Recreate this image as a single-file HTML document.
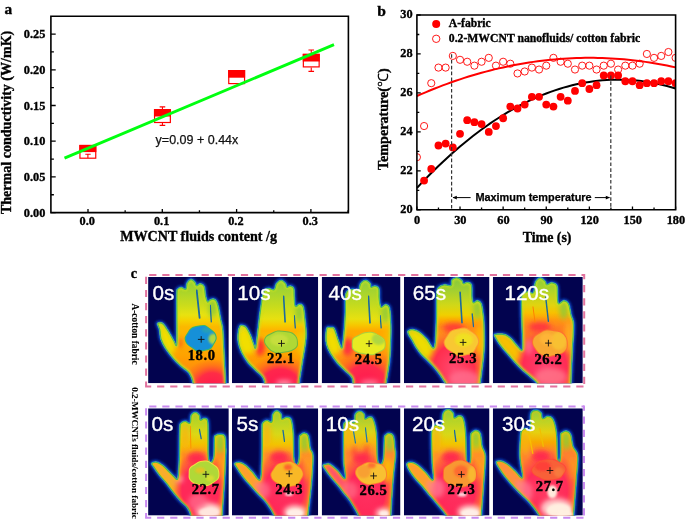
<!DOCTYPE html>
<html><head><meta charset="utf-8"><style>
html,body{margin:0;padding:0;background:#fff;width:685px;height:520px;overflow:hidden}
svg{display:block;will-change:transform}
</style></head><body>
<svg width="685" height="520" viewBox="0 0 685 520">
<path d="M50.9,16.3H348.4V212.6H50.9Z" fill="none" stroke="#000" stroke-width="1.6"/>
<path d="M50.9,212.60h4.8M50.9,194.75h3M50.9,176.90h4.8M50.9,159.05h3M50.9,141.20h4.8M50.9,123.35h3M50.9,105.50h4.8M50.9,87.65h3M50.9,69.80h4.8M50.9,51.95h3M50.9,34.10h4.8M88.00,212.6v-3.6M125.15,212.6v-2.4M162.30,212.6v-3.6M199.45,212.6v-2.4M236.60,212.6v-3.6M273.75,212.6v-2.4M310.90,212.6v-3.6M348.05,212.6v-2.4" stroke="#000" stroke-width="1.3" fill="none"/>
<text x="45.3" y="216.70" text-anchor="end" style="font-family:'Liberation Serif',serif;font-weight:bold;stroke:#000;stroke-width:0.35px;font-size:12.3px">0.00</text>
<text x="45.3" y="181.00" text-anchor="end" style="font-family:'Liberation Serif',serif;font-weight:bold;stroke:#000;stroke-width:0.35px;font-size:12.3px">0.05</text>
<text x="45.3" y="145.30" text-anchor="end" style="font-family:'Liberation Serif',serif;font-weight:bold;stroke:#000;stroke-width:0.35px;font-size:12.3px">0.10</text>
<text x="45.3" y="109.60" text-anchor="end" style="font-family:'Liberation Serif',serif;font-weight:bold;stroke:#000;stroke-width:0.35px;font-size:12.3px">0.15</text>
<text x="45.3" y="73.90" text-anchor="end" style="font-family:'Liberation Serif',serif;font-weight:bold;stroke:#000;stroke-width:0.35px;font-size:12.3px">0.20</text>
<text x="45.3" y="38.20" text-anchor="end" style="font-family:'Liberation Serif',serif;font-weight:bold;stroke:#000;stroke-width:0.35px;font-size:12.3px">0.25</text>
<text x="87.30" y="225.3" text-anchor="middle" style="font-family:'Liberation Serif',serif;font-weight:bold;stroke:#000;stroke-width:0.35px;font-size:12.3px">0.0</text>
<text x="161.60" y="225.3" text-anchor="middle" style="font-family:'Liberation Serif',serif;font-weight:bold;stroke:#000;stroke-width:0.35px;font-size:12.3px">0.1</text>
<text x="235.90" y="225.3" text-anchor="middle" style="font-family:'Liberation Serif',serif;font-weight:bold;stroke:#000;stroke-width:0.35px;font-size:12.3px">0.2</text>
<text x="310.20" y="225.3" text-anchor="middle" style="font-family:'Liberation Serif',serif;font-weight:bold;stroke:#000;stroke-width:0.35px;font-size:12.3px">0.3</text>
<text transform="translate(11.3,122.4) rotate(-90)" text-anchor="middle" style="font-family:'Liberation Serif',serif;font-weight:bold;stroke:#000;stroke-width:0.35px;font-size:14.05px">Thermal conductivity (W/mK)</text>
<text x="120.2" y="240.7" style="font-family:'Liberation Serif',serif;font-weight:bold;stroke:#000;stroke-width:0.35px;font-size:14.1px">MWCNT fluids content /g</text>
<text x="4.6" y="14.0" style="font-family:'Liberation Serif',serif;font-weight:bold;stroke:#000;stroke-width:0.35px;font-size:15.3px">a</text>
<rect x="79.95" y="145.50" width="15.80" height="12.70" fill="#fff" stroke="#f00" stroke-width="1.2"/>
<rect x="79.35" y="144.90" width="17.00" height="7.20" fill="#f00"/>
<rect x="154.55" y="109.70" width="15.80" height="12.80" fill="#fff" stroke="#f00" stroke-width="1.2"/>
<rect x="153.95" y="109.10" width="17.00" height="7.40" fill="#f00"/>
<path d="M159.65,106.9h5.6M162.45,106.9V109.1M159.65,125.4h5.6M162.45,125.4V123.1" stroke="#f00" stroke-width="1.1" fill="none"/>
<rect x="228.75" y="70.60" width="15.80" height="13.00" fill="#fff" stroke="#f00" stroke-width="1.2"/>
<rect x="228.15" y="70.00" width="17.00" height="7.70" fill="#f00"/>
<rect x="303.35" y="54.40" width="15.80" height="12.50" fill="#fff" stroke="#f00" stroke-width="1.2"/>
<rect x="302.75" y="53.80" width="17.00" height="7.70" fill="#f00"/>
<path d="M308.45,50.0h5.6M311.25,50.0V53.8M308.45,71.4h5.6M311.25,71.4V67.5" stroke="#f00" stroke-width="1.1" fill="none"/>
<path d="M85.3,154.2h5.4M87.9,154.2V158" stroke="#f00" stroke-width="1.1" fill="none"/>
<line x1="64.5" y1="158.2" x2="334" y2="44.6" stroke="#00ff10" stroke-width="2.9"/>
<text x="155.6" y="143.6" style="font-family:'Liberation Sans',sans-serif;font-size:12.5px;fill:#111;stroke:#111;stroke-width:0.25px">y=0.09 + 0.44x</text>
<defs><clipPath id="cb"><rect x="416.9" y="15.0" width="258.70000000000005" height="194.8"/></clipPath></defs>
<g clip-path="url(#cb)">
<path d="M416.90,96.04 L421.21,94.15 L425.52,92.31 L429.83,90.52 L434.15,88.78 L438.46,87.09 L442.77,85.44 L447.08,83.84 L451.39,82.29 L455.70,80.79 L460.02,79.33 L464.33,77.92 L468.64,76.56 L472.95,75.25 L477.26,73.98 L481.57,72.77 L485.89,71.60 L490.20,70.48 L494.51,69.40 L498.82,68.38 L503.13,67.40 L507.44,66.47 L511.76,65.58 L516.07,64.75 L520.38,63.96 L524.69,63.22 L529.00,62.53 L533.32,61.88 L537.63,61.29 L541.94,60.74 L546.25,60.23 L550.56,59.78 L554.87,59.38 L559.18,59.02 L563.50,58.71 L567.81,58.44 L572.12,58.23 L576.43,58.06 L580.74,57.94 L585.06,57.87 L589.37,57.85 L593.68,57.87 L597.99,57.94 L602.30,58.06 L606.61,58.23 L610.92,58.44 L615.24,58.70 L619.55,59.01 L623.86,59.37 L628.17,59.77 L632.48,60.23 L636.80,60.73 L641.11,61.28 L645.42,61.87 L649.73,62.52 L654.04,63.21 L658.35,63.95 L662.66,64.73 L666.98,65.57 L671.29,66.45 L675.60,67.38" fill="none" stroke="#f00" stroke-width="2"/>
<path d="M416.90,187.98 L421.21,183.39 L425.52,178.90 L429.83,174.50 L434.15,170.21 L438.46,166.02 L442.77,161.92 L447.08,157.93 L451.39,154.03 L455.70,150.23 L460.02,146.54 L464.33,142.94 L468.64,139.44 L472.95,136.04 L477.26,132.74 L481.57,129.55 L485.89,126.45 L490.20,123.44 L494.51,120.54 L498.82,117.74 L503.13,115.04 L507.44,112.44 L511.76,109.93 L516.07,107.53 L520.38,105.23 L524.69,103.02 L529.00,100.92 L533.32,98.91 L537.63,97.00 L541.94,95.20 L546.25,93.49 L550.56,91.88 L554.87,90.37 L559.18,88.97 L563.50,87.66 L567.81,86.45 L572.12,85.34 L576.43,84.32 L580.74,83.41 L585.06,82.60 L589.37,81.89 L593.68,81.27 L597.99,80.76 L602.30,80.35 L606.61,80.03 L610.92,79.82 L615.24,79.70 L619.55,79.69 L623.86,79.77 L628.17,79.95 L632.48,80.23 L636.80,80.62 L641.11,81.10 L645.42,81.68 L649.73,82.36 L654.04,83.14 L658.35,84.02 L662.66,84.99 L666.98,86.07 L671.29,87.25 L675.60,88.53" fill="none" stroke="#000" stroke-width="2"/>
<circle cx="416.90" cy="157.20" r="3.6" fill="none" stroke="#f00" stroke-width="0.9"/>
<circle cx="424.09" cy="126.04" r="3.6" fill="none" stroke="#f00" stroke-width="0.9"/>
<circle cx="431.27" cy="83.18" r="3.6" fill="none" stroke="#f00" stroke-width="0.9"/>
<circle cx="438.46" cy="67.60" r="3.6" fill="none" stroke="#f00" stroke-width="0.9"/>
<circle cx="445.64" cy="67.60" r="3.6" fill="none" stroke="#f00" stroke-width="0.9"/>
<circle cx="452.83" cy="55.91" r="3.6" fill="none" stroke="#f00" stroke-width="0.9"/>
<circle cx="460.02" cy="59.80" r="3.6" fill="none" stroke="#f00" stroke-width="0.9"/>
<circle cx="467.20" cy="61.75" r="3.6" fill="none" stroke="#f00" stroke-width="0.9"/>
<circle cx="474.39" cy="65.65" r="3.6" fill="none" stroke="#f00" stroke-width="0.9"/>
<circle cx="481.57" cy="61.75" r="3.6" fill="none" stroke="#f00" stroke-width="0.9"/>
<circle cx="488.76" cy="57.86" r="3.6" fill="none" stroke="#f00" stroke-width="0.9"/>
<circle cx="495.95" cy="65.65" r="3.6" fill="none" stroke="#f00" stroke-width="0.9"/>
<circle cx="503.13" cy="61.75" r="3.6" fill="none" stroke="#f00" stroke-width="0.9"/>
<circle cx="510.32" cy="63.70" r="3.6" fill="none" stroke="#f00" stroke-width="0.9"/>
<circle cx="517.51" cy="73.44" r="3.6" fill="none" stroke="#f00" stroke-width="0.9"/>
<circle cx="524.69" cy="71.49" r="3.6" fill="none" stroke="#f00" stroke-width="0.9"/>
<circle cx="531.88" cy="67.60" r="3.6" fill="none" stroke="#f00" stroke-width="0.9"/>
<circle cx="539.06" cy="69.54" r="3.6" fill="none" stroke="#f00" stroke-width="0.9"/>
<circle cx="546.25" cy="65.65" r="3.6" fill="none" stroke="#f00" stroke-width="0.9"/>
<circle cx="553.44" cy="57.86" r="3.6" fill="none" stroke="#f00" stroke-width="0.9"/>
<circle cx="560.62" cy="61.75" r="3.6" fill="none" stroke="#f00" stroke-width="0.9"/>
<circle cx="567.81" cy="63.70" r="3.6" fill="none" stroke="#f00" stroke-width="0.9"/>
<circle cx="574.99" cy="69.54" r="3.6" fill="none" stroke="#f00" stroke-width="0.9"/>
<circle cx="582.18" cy="65.65" r="3.6" fill="none" stroke="#f00" stroke-width="0.9"/>
<circle cx="589.37" cy="65.65" r="3.6" fill="none" stroke="#f00" stroke-width="0.9"/>
<circle cx="596.55" cy="69.54" r="3.6" fill="none" stroke="#f00" stroke-width="0.9"/>
<circle cx="603.74" cy="65.65" r="3.6" fill="none" stroke="#f00" stroke-width="0.9"/>
<circle cx="610.92" cy="63.70" r="3.6" fill="none" stroke="#f00" stroke-width="0.9"/>
<circle cx="618.11" cy="69.54" r="3.6" fill="none" stroke="#f00" stroke-width="0.9"/>
<circle cx="625.30" cy="65.65" r="3.6" fill="none" stroke="#f00" stroke-width="0.9"/>
<circle cx="632.48" cy="65.65" r="3.6" fill="none" stroke="#f00" stroke-width="0.9"/>
<circle cx="639.67" cy="63.70" r="3.6" fill="none" stroke="#f00" stroke-width="0.9"/>
<circle cx="646.86" cy="53.96" r="3.6" fill="none" stroke="#f00" stroke-width="0.9"/>
<circle cx="654.04" cy="57.86" r="3.6" fill="none" stroke="#f00" stroke-width="0.9"/>
<circle cx="661.23" cy="55.91" r="3.6" fill="none" stroke="#f00" stroke-width="0.9"/>
<circle cx="668.41" cy="52.01" r="3.6" fill="none" stroke="#f00" stroke-width="0.9"/>
<circle cx="675.60" cy="57.86" r="3.6" fill="none" stroke="#f00" stroke-width="0.9"/>
<circle cx="424.09" cy="180.58" r="3.9" fill="#f00"/>
<circle cx="431.27" cy="168.89" r="3.9" fill="#f00"/>
<circle cx="438.46" cy="145.52" r="3.9" fill="#f00"/>
<circle cx="445.64" cy="143.57" r="3.9" fill="#f00"/>
<circle cx="452.83" cy="147.46" r="3.9" fill="#f00"/>
<circle cx="460.02" cy="133.83" r="3.9" fill="#f00"/>
<circle cx="467.20" cy="120.19" r="3.9" fill="#f00"/>
<circle cx="474.39" cy="122.14" r="3.9" fill="#f00"/>
<circle cx="481.57" cy="124.09" r="3.9" fill="#f00"/>
<circle cx="488.76" cy="131.88" r="3.9" fill="#f00"/>
<circle cx="495.95" cy="126.04" r="3.9" fill="#f00"/>
<circle cx="503.13" cy="118.24" r="3.9" fill="#f00"/>
<circle cx="510.32" cy="106.56" r="3.9" fill="#f00"/>
<circle cx="517.51" cy="108.50" r="3.9" fill="#f00"/>
<circle cx="524.69" cy="104.61" r="3.9" fill="#f00"/>
<circle cx="531.88" cy="96.82" r="3.9" fill="#f00"/>
<circle cx="539.06" cy="96.82" r="3.9" fill="#f00"/>
<circle cx="546.25" cy="104.61" r="3.9" fill="#f00"/>
<circle cx="553.44" cy="106.56" r="3.9" fill="#f00"/>
<circle cx="560.62" cy="96.82" r="3.9" fill="#f00"/>
<circle cx="567.81" cy="100.71" r="3.9" fill="#f00"/>
<circle cx="574.99" cy="90.97" r="3.9" fill="#f00"/>
<circle cx="582.18" cy="83.18" r="3.9" fill="#f00"/>
<circle cx="589.37" cy="89.02" r="3.9" fill="#f00"/>
<circle cx="596.55" cy="85.13" r="3.9" fill="#f00"/>
<circle cx="603.74" cy="75.39" r="3.9" fill="#f00"/>
<circle cx="610.92" cy="75.39" r="3.9" fill="#f00"/>
<circle cx="618.11" cy="75.39" r="3.9" fill="#f00"/>
<circle cx="625.30" cy="81.23" r="3.9" fill="#f00"/>
<circle cx="632.48" cy="81.23" r="3.9" fill="#f00"/>
<circle cx="639.67" cy="85.13" r="3.9" fill="#f00"/>
<circle cx="646.86" cy="83.18" r="3.9" fill="#f00"/>
<circle cx="654.04" cy="83.18" r="3.9" fill="#f00"/>
<circle cx="661.23" cy="81.23" r="3.9" fill="#f00"/>
<circle cx="668.41" cy="81.23" r="3.9" fill="#f00"/>
<circle cx="675.60" cy="83.18" r="3.9" fill="#f00"/>
</g>
<path d="M451.6,54.2V209.8M610.8,75.5V209.8" stroke="#333" stroke-width="1.2" stroke-dasharray="3.6,2.2" fill="none"/>
<path d="M453,197.6H470.6M594.8,197.6H609.5" stroke="#000" stroke-width="1" fill="none"/>
<path d="M452.6,197.6l4.2,-1.8v3.6z M610,197.6l-4.2,-1.8v3.6z" fill="#000"/>
<text x="475.4" y="201.2" style="font-family:'Liberation Sans',sans-serif;font-weight:bold;font-size:10.9px;stroke:#000;stroke-width:0.25px">Maximum temperature</text>
<path d="M416.9,15.0H675.6V209.8H416.9Z" fill="none" stroke="#000" stroke-width="1.6"/>
<path d="M416.9,209.80h3.8M416.9,190.32h2.4M416.9,170.84h3.8M416.9,151.36h2.4M416.9,131.88h3.8M416.9,112.40h2.4M416.9,92.92h3.8M416.9,73.44h2.4M416.9,53.96h3.8M416.9,34.48h2.4M416.9,15.00h3.8M416.90,209.8v-3.4M438.46,209.8v-2.2M460.02,209.8v-3.4M481.57,209.8v-2.2M503.13,209.8v-3.4M524.69,209.8v-2.2M546.25,209.8v-3.4M567.81,209.8v-2.2M589.37,209.8v-3.4M610.92,209.8v-2.2M632.48,209.8v-3.4M654.04,209.8v-2.2M675.60,209.8v-3.4" stroke="#000" stroke-width="1.3" fill="none"/>
<text x="412.6" y="212.70" text-anchor="end" style="font-family:'Liberation Serif',serif;font-weight:bold;stroke:#000;stroke-width:0.35px;font-size:12.3px">20</text>
<text x="412.6" y="173.74" text-anchor="end" style="font-family:'Liberation Serif',serif;font-weight:bold;stroke:#000;stroke-width:0.35px;font-size:12.3px">22</text>
<text x="412.6" y="134.78" text-anchor="end" style="font-family:'Liberation Serif',serif;font-weight:bold;stroke:#000;stroke-width:0.35px;font-size:12.3px">24</text>
<text x="412.6" y="95.82" text-anchor="end" style="font-family:'Liberation Serif',serif;font-weight:bold;stroke:#000;stroke-width:0.35px;font-size:12.3px">26</text>
<text x="412.6" y="56.86" text-anchor="end" style="font-family:'Liberation Serif',serif;font-weight:bold;stroke:#000;stroke-width:0.35px;font-size:12.3px">28</text>
<text x="412.6" y="17.90" text-anchor="end" style="font-family:'Liberation Serif',serif;font-weight:bold;stroke:#000;stroke-width:0.35px;font-size:12.3px">30</text>
<text x="417.20" y="224.1" text-anchor="middle" style="font-family:'Liberation Serif',serif;font-weight:bold;stroke:#000;stroke-width:0.35px;font-size:12.3px">0</text>
<text x="460.32" y="224.1" text-anchor="middle" style="font-family:'Liberation Serif',serif;font-weight:bold;stroke:#000;stroke-width:0.35px;font-size:12.3px">30</text>
<text x="503.43" y="224.1" text-anchor="middle" style="font-family:'Liberation Serif',serif;font-weight:bold;stroke:#000;stroke-width:0.35px;font-size:12.3px">60</text>
<text x="546.55" y="224.1" text-anchor="middle" style="font-family:'Liberation Serif',serif;font-weight:bold;stroke:#000;stroke-width:0.35px;font-size:12.3px">90</text>
<text x="589.67" y="224.1" text-anchor="middle" style="font-family:'Liberation Serif',serif;font-weight:bold;stroke:#000;stroke-width:0.35px;font-size:12.3px">120</text>
<text x="632.78" y="224.1" text-anchor="middle" style="font-family:'Liberation Serif',serif;font-weight:bold;stroke:#000;stroke-width:0.35px;font-size:12.3px">150</text>
<text x="675.90" y="224.1" text-anchor="middle" style="font-family:'Liberation Serif',serif;font-weight:bold;stroke:#000;stroke-width:0.35px;font-size:12.3px">180</text>
<text transform="translate(388.2,119.2) rotate(-90)" text-anchor="middle" style="font-family:'Liberation Serif',serif;font-weight:bold;stroke:#000;stroke-width:0.35px;font-size:14.1px">Temperature(<tspan style="font-weight:normal;stroke-width:0.1px">℃</tspan>)</text>
<text x="522.7" y="241.6" style="font-family:'Liberation Serif',serif;font-weight:bold;stroke:#000;stroke-width:0.35px;font-size:13.9px">Time (s)</text>
<text x="377.2" y="15.8" style="font-family:'Liberation Serif',serif;font-weight:bold;stroke:#000;stroke-width:0.35px;font-size:15.6px">b</text>
<circle cx="436.2" cy="24.0" r="4.0" fill="#f00"/>
<circle cx="436.2" cy="38.8" r="3.7" fill="none" stroke="#f00" stroke-width="0.9"/>
<text x="448.8" y="27.4" style="font-family:'Liberation Serif',serif;font-weight:bold;stroke:#000;stroke-width:0.35px;font-size:11.6px">A-fabric</text>
<text x="448.8" y="42.2" style="font-family:'Liberation Serif',serif;font-weight:bold;stroke:#000;stroke-width:0.35px;font-size:11.7px">0.2-MWCNT nanofluids/ cotton fabric</text>
<text x="130.8" y="277.7" style="font-family:'Liberation Serif',serif;font-weight:bold;stroke:#000;stroke-width:0.35px;font-size:14.2px">c</text>
<defs><filter id="bl05" x="-20%" y="-20%" width="140%" height="140%"><feGaussianBlur stdDeviation="0.5"/></filter>
<filter id="bl1" x="-20%" y="-20%" width="140%" height="140%"><feGaussianBlur stdDeviation="1"/></filter>
<filter id="bl2" x="-50%" y="-50%" width="200%" height="200%"><feGaussianBlur stdDeviation="2.5"/></filter></defs>
<g transform="translate(148.1,276.9)">
<clipPath id="ic1"><rect x="0" y="0" width="80.70" height="106.40"/></clipPath>
<clipPath id="h1"><path d="M45.0,107.1C44.5,104.4 43.0,99.4 41.0,96.5C39.0,93.6 35.8,92.2 33.1,89.8C30.5,87.4 27.8,85.0 25.1,81.9C22.4,78.8 19.2,74.6 17.1,71.3C15.0,68.0 13.5,65.1 12.5,62.0C11.5,58.9 11.8,55.2 11.2,52.7C10.6,50.2 9.0,47.9 9.2,46.7C9.4,45.5 11.4,45.5 12.5,45.6C13.6,45.7 14.4,45.8 15.8,47.4C17.2,49.0 19.3,52.4 21.1,55.3C22.9,58.2 25.2,62.7 26.4,64.6C27.6,66.5 28.1,70.7 28.4,66.6C28.7,62.5 28.4,48.4 28.4,40.0C28.4,31.6 28.3,20.7 28.5,16.0C28.7,11.3 28.7,12.9 29.5,12.0C30.3,11.1 32.0,10.3 33.3,10.3C34.6,10.3 36.6,12.7 37.5,12.0C38.4,11.3 37.9,7.6 38.8,6.0C39.7,4.4 41.6,2.5 43.0,2.4C44.4,2.3 46.3,4.5 47.2,5.5C48.1,6.5 47.7,8.3 48.5,8.5C49.3,8.7 50.9,6.5 52.2,6.7C53.5,6.9 55.4,7.6 56.3,9.5C57.2,11.4 57.1,15.5 57.6,18.0C58.1,20.5 58.9,23.7 59.5,24.5C60.1,25.3 60.6,23.4 61.5,23.0C62.4,22.6 63.6,21.7 64.7,21.8C65.8,21.9 67.0,22.1 68.0,23.5C69.0,24.9 69.7,26.8 70.5,30.0C71.3,33.2 72.2,39.2 73.0,43.0C73.8,46.8 74.5,47.7 75.0,53.0C75.5,58.3 75.7,66.0 76.2,75.0C76.7,84.0 77.5,100.8 78.0,107.0C78.5,113.2 84.7,111.5 79.0,112.4C73.3,113.3 49.7,113.3 44.0,112.4C38.3,111.5 45.5,109.8 45.0,107.1Z"/></clipPath>
<linearGradient id="g1" gradientUnits="userSpaceOnUse" x1="0" y1="0" x2="0" y2="107"><stop offset="0.000" stop-color="#88cc3c"/><stop offset="0.131" stop-color="#a8d42c"/><stop offset="0.262" stop-color="#cadc1c"/><stop offset="0.355" stop-color="#e8e210"/><stop offset="0.411" stop-color="#f6d000"/><stop offset="0.467" stop-color="#fbb800"/><stop offset="0.607" stop-color="#fcb000"/><stop offset="0.748" stop-color="#ffa000"/><stop offset="0.888" stop-color="#ff8a10"/><stop offset="1.000" stop-color="#ff7020"/></linearGradient>
<g clip-path="url(#ic1)">
<rect x="0" y="0" width="80.70" height="106.40" fill="#02034f"/>
<path d="M45.0,107.1C44.5,104.4 43.0,99.4 41.0,96.5C39.0,93.6 35.8,92.2 33.1,89.8C30.5,87.4 27.8,85.0 25.1,81.9C22.4,78.8 19.2,74.6 17.1,71.3C15.0,68.0 13.5,65.1 12.5,62.0C11.5,58.9 11.8,55.2 11.2,52.7C10.6,50.2 9.0,47.9 9.2,46.7C9.4,45.5 11.4,45.5 12.5,45.6C13.6,45.7 14.4,45.8 15.8,47.4C17.2,49.0 19.3,52.4 21.1,55.3C22.9,58.2 25.2,62.7 26.4,64.6C27.6,66.5 28.1,70.7 28.4,66.6C28.7,62.5 28.4,48.4 28.4,40.0C28.4,31.6 28.3,20.7 28.5,16.0C28.7,11.3 28.7,12.9 29.5,12.0C30.3,11.1 32.0,10.3 33.3,10.3C34.6,10.3 36.6,12.7 37.5,12.0C38.4,11.3 37.9,7.6 38.8,6.0C39.7,4.4 41.6,2.5 43.0,2.4C44.4,2.3 46.3,4.5 47.2,5.5C48.1,6.5 47.7,8.3 48.5,8.5C49.3,8.7 50.9,6.5 52.2,6.7C53.5,6.9 55.4,7.6 56.3,9.5C57.2,11.4 57.1,15.5 57.6,18.0C58.1,20.5 58.9,23.7 59.5,24.5C60.1,25.3 60.6,23.4 61.5,23.0C62.4,22.6 63.6,21.7 64.7,21.8C65.8,21.9 67.0,22.1 68.0,23.5C69.0,24.9 69.7,26.8 70.5,30.0C71.3,33.2 72.2,39.2 73.0,43.0C73.8,46.8 74.5,47.7 75.0,53.0C75.5,58.3 75.7,66.0 76.2,75.0C76.7,84.0 77.5,100.8 78.0,107.0C78.5,113.2 84.7,111.5 79.0,112.4C73.3,113.3 49.7,113.3 44.0,112.4C38.3,111.5 45.5,109.8 45.0,107.1Z" fill="#0c3cb4" stroke="#0c3cb4" stroke-width="4.0" filter="url(#bl1)"/>
<path d="M45.0,107.1C44.5,104.4 43.0,99.4 41.0,96.5C39.0,93.6 35.8,92.2 33.1,89.8C30.5,87.4 27.8,85.0 25.1,81.9C22.4,78.8 19.2,74.6 17.1,71.3C15.0,68.0 13.5,65.1 12.5,62.0C11.5,58.9 11.8,55.2 11.2,52.7C10.6,50.2 9.0,47.9 9.2,46.7C9.4,45.5 11.4,45.5 12.5,45.6C13.6,45.7 14.4,45.8 15.8,47.4C17.2,49.0 19.3,52.4 21.1,55.3C22.9,58.2 25.2,62.7 26.4,64.6C27.6,66.5 28.1,70.7 28.4,66.6C28.7,62.5 28.4,48.4 28.4,40.0C28.4,31.6 28.3,20.7 28.5,16.0C28.7,11.3 28.7,12.9 29.5,12.0C30.3,11.1 32.0,10.3 33.3,10.3C34.6,10.3 36.6,12.7 37.5,12.0C38.4,11.3 37.9,7.6 38.8,6.0C39.7,4.4 41.6,2.5 43.0,2.4C44.4,2.3 46.3,4.5 47.2,5.5C48.1,6.5 47.7,8.3 48.5,8.5C49.3,8.7 50.9,6.5 52.2,6.7C53.5,6.9 55.4,7.6 56.3,9.5C57.2,11.4 57.1,15.5 57.6,18.0C58.1,20.5 58.9,23.7 59.5,24.5C60.1,25.3 60.6,23.4 61.5,23.0C62.4,22.6 63.6,21.7 64.7,21.8C65.8,21.9 67.0,22.1 68.0,23.5C69.0,24.9 69.7,26.8 70.5,30.0C71.3,33.2 72.2,39.2 73.0,43.0C73.8,46.8 74.5,47.7 75.0,53.0C75.5,58.3 75.7,66.0 76.2,75.0C76.7,84.0 77.5,100.8 78.0,107.0C78.5,113.2 84.7,111.5 79.0,112.4C73.3,113.3 49.7,113.3 44.0,112.4C38.3,111.5 45.5,109.8 45.0,107.1Z" fill="#1878d0" stroke="#1878d0" stroke-width="1.4" filter="url(#bl05)"/>
<g clip-path="url(#h1)">
<path d="M45.0,107.1C44.5,104.4 43.0,99.4 41.0,96.5C39.0,93.6 35.8,92.2 33.1,89.8C30.5,87.4 27.8,85.0 25.1,81.9C22.4,78.8 19.2,74.6 17.1,71.3C15.0,68.0 13.5,65.1 12.5,62.0C11.5,58.9 11.8,55.2 11.2,52.7C10.6,50.2 9.0,47.9 9.2,46.7C9.4,45.5 11.4,45.5 12.5,45.6C13.6,45.7 14.4,45.8 15.8,47.4C17.2,49.0 19.3,52.4 21.1,55.3C22.9,58.2 25.2,62.7 26.4,64.6C27.6,66.5 28.1,70.7 28.4,66.6C28.7,62.5 28.4,48.4 28.4,40.0C28.4,31.6 28.3,20.7 28.5,16.0C28.7,11.3 28.7,12.9 29.5,12.0C30.3,11.1 32.0,10.3 33.3,10.3C34.6,10.3 36.6,12.7 37.5,12.0C38.4,11.3 37.9,7.6 38.8,6.0C39.7,4.4 41.6,2.5 43.0,2.4C44.4,2.3 46.3,4.5 47.2,5.5C48.1,6.5 47.7,8.3 48.5,8.5C49.3,8.7 50.9,6.5 52.2,6.7C53.5,6.9 55.4,7.6 56.3,9.5C57.2,11.4 57.1,15.5 57.6,18.0C58.1,20.5 58.9,23.7 59.5,24.5C60.1,25.3 60.6,23.4 61.5,23.0C62.4,22.6 63.6,21.7 64.7,21.8C65.8,21.9 67.0,22.1 68.0,23.5C69.0,24.9 69.7,26.8 70.5,30.0C71.3,33.2 72.2,39.2 73.0,43.0C73.8,46.8 74.5,47.7 75.0,53.0C75.5,58.3 75.7,66.0 76.2,75.0C76.7,84.0 77.5,100.8 78.0,107.0C78.5,113.2 84.7,111.5 79.0,112.4C73.3,113.3 49.7,113.3 44.0,112.4C38.3,111.5 45.5,109.8 45.0,107.1Z" fill="url(#g1)"/>
<radialGradient id="pr1_0" gradientUnits="userSpaceOnUse" cx="0" cy="0" r="1" gradientTransform="translate(64,110) scale(30,28)"><stop offset="0" stop-color="#ff1850" stop-opacity="1"/><stop offset="0.5" stop-color="#ff2848" stop-opacity="0.95"/><stop offset="0.8" stop-color="#ff6020" stop-opacity="0.5"/><stop offset="1" stop-color="#ff6020" stop-opacity="0"/></radialGradient>
<rect x="-5" y="-5" width="90.7" height="116.4" fill="url(#pr1_0)"/>
<g filter="url(#bl2)">
<path d="M17.1,71.3C15.5,68.6 13.5,65.1 12.5,62.0C11.5,58.9 11.8,55.2 11.2,52.7C10.6,50.2 9.0,47.9 9.2,46.7C9.4,45.5 11.4,45.5 12.5,45.6C13.6,45.7 14.4,45.8 15.8,47.4C17.2,49.0 19.3,52.4 21.1,55.3C22.9,58.2 25.4,61.8 26.4,64.6C27.4,67.4 27.7,69.8 27.0,72.0C26.3,74.2 23.6,78.1 22.0,78.0C20.4,77.9 18.7,74.0 17.1,71.3Z" fill="#f0e000" opacity="0.95"/>
<ellipse cx="64.7" cy="30.8" rx="4.2" ry="10" fill="#8cc838" opacity="0.85"/>
<ellipse cx="31" cy="65" rx="3" ry="6" fill="#ff4020" opacity="0.8"/>
<ellipse cx="30" cy="58" rx="3" ry="5" fill="#f8c000" opacity="0.6"/>
<ellipse cx="10" cy="49" rx="3" ry="3" fill="#b8d830" opacity="0.8"/>
</g>
<path d="M45.0,107.1C44.5,104.4 43.0,99.4 41.0,96.5C39.0,93.6 35.8,92.2 33.1,89.8C30.5,87.4 27.8,85.0 25.1,81.9C22.4,78.8 19.2,74.6 17.1,71.3C15.0,68.0 13.5,65.1 12.5,62.0C11.5,58.9 11.8,55.2 11.2,52.7C10.6,50.2 9.0,47.9 9.2,46.7C9.4,45.5 11.4,45.5 12.5,45.6C13.6,45.7 14.4,45.8 15.8,47.4C17.2,49.0 19.3,52.4 21.1,55.3C22.9,58.2 25.2,62.7 26.4,64.6C27.6,66.5 28.1,70.7 28.4,66.6C28.7,62.5 28.4,48.4 28.4,40.0C28.4,31.6 28.3,20.7 28.5,16.0C28.7,11.3 28.7,12.9 29.5,12.0C30.3,11.1 32.0,10.3 33.3,10.3C34.6,10.3 36.6,12.7 37.5,12.0C38.4,11.3 37.9,7.6 38.8,6.0C39.7,4.4 41.6,2.5 43.0,2.4C44.4,2.3 46.3,4.5 47.2,5.5C48.1,6.5 47.7,8.3 48.5,8.5C49.3,8.7 50.9,6.5 52.2,6.7C53.5,6.9 55.4,7.6 56.3,9.5C57.2,11.4 57.1,15.5 57.6,18.0C58.1,20.5 58.9,23.7 59.5,24.5C60.1,25.3 60.6,23.4 61.5,23.0C62.4,22.6 63.6,21.7 64.7,21.8C65.8,21.9 67.0,22.1 68.0,23.5C69.0,24.9 69.7,26.8 70.5,30.0C71.3,33.2 72.2,39.2 73.0,43.0C73.8,46.8 74.5,47.7 75.0,53.0C75.5,58.3 75.7,66.0 76.2,75.0C76.7,84.0 77.5,100.8 78.0,107.0C78.5,113.2 84.7,111.5 79.0,112.4C73.3,113.3 49.7,113.3 44.0,112.4C38.3,111.5 45.5,109.8 45.0,107.1Z" fill="none" stroke="#c8e020" stroke-width="4.4" filter="url(#bl1)" opacity="0.85"/>
<path d="M45.0,107.1C44.5,104.4 43.0,99.4 41.0,96.5C39.0,93.6 35.8,92.2 33.1,89.8C30.5,87.4 27.8,85.0 25.1,81.9C22.4,78.8 19.2,74.6 17.1,71.3C15.0,68.0 13.5,65.1 12.5,62.0C11.5,58.9 11.8,55.2 11.2,52.7C10.6,50.2 9.0,47.9 9.2,46.7C9.4,45.5 11.4,45.5 12.5,45.6C13.6,45.7 14.4,45.8 15.8,47.4C17.2,49.0 19.3,52.4 21.1,55.3C22.9,58.2 25.2,62.7 26.4,64.6C27.6,66.5 28.1,70.7 28.4,66.6C28.7,62.5 28.4,48.4 28.4,40.0C28.4,31.6 28.3,20.7 28.5,16.0C28.7,11.3 28.7,12.9 29.5,12.0C30.3,11.1 32.0,10.3 33.3,10.3C34.6,10.3 36.6,12.7 37.5,12.0C38.4,11.3 37.9,7.6 38.8,6.0C39.7,4.4 41.6,2.5 43.0,2.4C44.4,2.3 46.3,4.5 47.2,5.5C48.1,6.5 47.7,8.3 48.5,8.5C49.3,8.7 50.9,6.5 52.2,6.7C53.5,6.9 55.4,7.6 56.3,9.5C57.2,11.4 57.1,15.5 57.6,18.0C58.1,20.5 58.9,23.7 59.5,24.5C60.1,25.3 60.6,23.4 61.5,23.0C62.4,22.6 63.6,21.7 64.7,21.8C65.8,21.9 67.0,22.1 68.0,23.5C69.0,24.9 69.7,26.8 70.5,30.0C71.3,33.2 72.2,39.2 73.0,43.0C73.8,46.8 74.5,47.7 75.0,53.0C75.5,58.3 75.7,66.0 76.2,75.0C76.7,84.0 77.5,100.8 78.0,107.0C78.5,113.2 84.7,111.5 79.0,112.4C73.3,113.3 49.7,113.3 44.0,112.4C38.3,111.5 45.5,109.8 45.0,107.1Z" fill="none" stroke="#60c040" stroke-width="2.0" filter="url(#bl05)"/>
<path d="M45.0,107.1C44.5,104.4 43.0,99.4 41.0,96.5C39.0,93.6 35.8,92.2 33.1,89.8C30.5,87.4 27.8,85.0 25.1,81.9C22.4,78.8 19.2,74.6 17.1,71.3C15.0,68.0 13.5,65.1 12.5,62.0C11.5,58.9 11.8,55.2 11.2,52.7C10.6,50.2 9.0,47.9 9.2,46.7C9.4,45.5 11.4,45.5 12.5,45.6C13.6,45.7 14.4,45.8 15.8,47.4C17.2,49.0 19.3,52.4 21.1,55.3C22.9,58.2 25.2,62.7 26.4,64.6C27.6,66.5 28.1,70.7 28.4,66.6C28.7,62.5 28.4,48.4 28.4,40.0C28.4,31.6 28.3,20.7 28.5,16.0C28.7,11.3 28.7,12.9 29.5,12.0C30.3,11.1 32.0,10.3 33.3,10.3C34.6,10.3 36.6,12.7 37.5,12.0C38.4,11.3 37.9,7.6 38.8,6.0C39.7,4.4 41.6,2.5 43.0,2.4C44.4,2.3 46.3,4.5 47.2,5.5C48.1,6.5 47.7,8.3 48.5,8.5C49.3,8.7 50.9,6.5 52.2,6.7C53.5,6.9 55.4,7.6 56.3,9.5C57.2,11.4 57.1,15.5 57.6,18.0C58.1,20.5 58.9,23.7 59.5,24.5C60.1,25.3 60.6,23.4 61.5,23.0C62.4,22.6 63.6,21.7 64.7,21.8C65.8,21.9 67.0,22.1 68.0,23.5C69.0,24.9 69.7,26.8 70.5,30.0C71.3,33.2 72.2,39.2 73.0,43.0C73.8,46.8 74.5,47.7 75.0,53.0C75.5,58.3 75.7,66.0 76.2,75.0C76.7,84.0 77.5,100.8 78.0,107.0C78.5,113.2 84.7,111.5 79.0,112.4C73.3,113.3 49.7,113.3 44.0,112.4C38.3,111.5 45.5,109.8 45.0,107.1Z" fill="none" stroke="#20a8a8" stroke-width="0.8" filter="url(#bl05)"/>
<path d="M48.6,13.4L51.5,40.9" stroke="#1a6aa0" stroke-width="1.8" stroke-linecap="round" filter="url(#bl05)"/>
<path d="M62.2,28.6L63.2,45" stroke="#1a6aa0" stroke-width="1.3" stroke-linecap="round" filter="url(#bl05)"/>
</g>
<path d="M68.6,61.4C68.5,63.3 67.2,65.1 66.2,66.9C65.2,68.6 64.5,70.9 62.9,72.1C61.2,73.2 58.5,73.6 56.2,74.0C53.9,74.5 51.3,75.0 49.2,74.6C47.1,74.1 45.4,72.4 43.6,71.1C41.8,69.9 39.7,68.8 38.6,67.2C37.4,65.6 36.4,63.3 36.5,61.4C36.6,59.5 38.2,57.6 39.3,55.9C40.3,54.1 41.2,52.1 42.9,51.0C44.6,49.8 47.2,49.4 49.4,48.9C51.7,48.4 54.3,47.7 56.4,48.1C58.5,48.6 60.3,50.3 62.1,51.6C63.8,52.8 65.7,54.1 66.8,55.7C67.9,57.4 68.7,59.5 68.6,61.4Z" fill="#38b868" filter="url(#bl05)"/>
<clipPath id="pc1"><path d="M67.6,61.4C67.5,63.1 66.2,64.8 65.3,66.4C64.4,68.1 63.8,70.1 62.2,71.2C60.6,72.3 58.1,72.7 56.0,73.1C53.9,73.5 51.4,74.0 49.5,73.6C47.5,73.1 45.9,71.5 44.2,70.4C42.5,69.3 40.6,68.3 39.5,66.8C38.4,65.3 37.5,63.1 37.6,61.4C37.7,59.7 39.1,57.9 40.1,56.3C41.1,54.7 42.0,52.8 43.6,51.8C45.2,50.7 47.5,50.3 49.6,49.8C51.7,49.4 54.2,48.7 56.2,49.1C58.1,49.5 59.9,51.1 61.5,52.3C63.1,53.5 64.8,54.6 65.9,56.2C66.9,57.7 67.7,59.7 67.6,61.4Z"/></clipPath>
<path d="M67.6,61.4C67.5,63.1 66.2,64.8 65.3,66.4C64.4,68.1 63.8,70.1 62.2,71.2C60.6,72.3 58.1,72.7 56.0,73.1C53.9,73.5 51.4,74.0 49.5,73.6C47.5,73.1 45.9,71.5 44.2,70.4C42.5,69.3 40.6,68.3 39.5,66.8C38.4,65.3 37.5,63.1 37.6,61.4C37.7,59.7 39.1,57.9 40.1,56.3C41.1,54.7 42.0,52.8 43.6,51.8C45.2,50.7 47.5,50.3 49.6,49.8C51.7,49.4 54.2,48.7 56.2,49.1C58.1,49.5 59.9,51.1 61.5,52.3C63.1,53.5 64.8,54.6 65.9,56.2C66.9,57.7 67.7,59.7 67.6,61.4Z" fill="#1890d8" filter="url(#bl05)"/>
<g clip-path="url(#pc1)"><g filter="url(#bl1)">
<ellipse cx="65.5" cy="62" rx="5" ry="5.5" fill="#b0d840" opacity="1"/>
<ellipse cx="59.5" cy="53" rx="6" ry="3" fill="#30a8a0" opacity="0.6"/>
</g></g>
<path d="M49.8,62.5h6.6M53.1,59.2v6.6" stroke="#111" stroke-width="0.9"/>
<text x="39.6" y="82.7" style="font-family:'Liberation Serif',serif;font-weight:bold;font-size:14.6px;letter-spacing:0.6px;stroke:#000;stroke-width:0.4px">18.0</text>
<text transform="translate(4.5,22.9) scale(1.06,1)" style="font-family:'Liberation Sans',sans-serif;font-size:19.5px;fill:#fff;stroke:#fff;stroke-width:0.35px">0s</text>
</g></g>
<g transform="translate(232.0,276.9)">
<clipPath id="ic2"><rect x="0" y="0" width="86.20" height="106.40"/></clipPath>
<clipPath id="h2"><path d="M32.5,107.1C32.3,105.1 31.9,102.6 30.5,100.4C29.1,98.2 26.3,96.2 23.9,93.8C21.5,91.4 18.3,88.9 15.9,85.8C13.5,82.7 11.0,78.7 9.3,75.2C7.7,71.7 6.5,67.9 6.0,64.6C5.5,61.3 5.7,57.9 6.0,55.3C6.3,52.6 7.1,49.8 8.0,48.7C8.9,47.6 10.4,48.3 11.5,48.6C12.6,48.9 13.4,49.1 14.6,50.7C15.8,52.3 17.3,55.0 18.6,58.0C19.9,61.0 21.7,66.7 22.5,68.6C23.3,70.5 23.0,72.4 23.6,69.5C24.2,66.6 25.2,56.6 25.9,51.4C26.5,46.1 26.8,43.2 27.5,38.0C28.2,32.8 29.4,24.2 30.2,20.0C31.0,15.8 31.4,14.4 32.5,13.0C33.6,11.6 35.4,11.4 37.0,11.3C38.6,11.2 40.8,13.3 42.0,12.5C43.2,11.7 43.1,8.1 44.3,6.5C45.5,5.0 47.5,3.2 49.1,3.2C50.7,3.2 52.8,5.4 53.8,6.5C54.8,7.6 54.2,9.6 55.0,10.0C55.8,10.4 57.1,8.6 58.3,8.8C59.5,9.1 61.3,9.6 62.0,11.5C62.7,13.4 62.2,17.1 62.5,20.0C62.8,22.9 62.7,27.8 63.5,29.0C64.3,30.2 66.1,26.9 67.4,27.1C68.7,27.3 70.5,27.0 71.5,30.0C72.5,33.0 73.0,39.9 73.5,45.0C74.0,50.1 74.8,53.9 74.3,60.8C73.8,67.7 71.7,78.5 70.5,86.2C69.3,93.9 67.7,102.8 67.3,107.2C66.9,111.6 74.3,111.5 68.3,112.4C62.3,113.3 37.5,113.3 31.5,112.4C25.5,111.5 32.7,109.1 32.5,107.1Z"/></clipPath>
<linearGradient id="g2" gradientUnits="userSpaceOnUse" x1="0" y1="0" x2="0" y2="107"><stop offset="0.000" stop-color="#88cc40"/><stop offset="0.131" stop-color="#a4d430"/><stop offset="0.280" stop-color="#c8dc1c"/><stop offset="0.393" stop-color="#e8e010"/><stop offset="0.449" stop-color="#f6cc00"/><stop offset="0.505" stop-color="#ffb000"/><stop offset="0.579" stop-color="#f8c000"/><stop offset="0.729" stop-color="#ffa000"/><stop offset="1.000" stop-color="#ff8a10"/></linearGradient>
<g clip-path="url(#ic2)">
<rect x="0" y="0" width="86.20" height="106.40" fill="#02034f"/>
<path d="M32.5,107.1C32.3,105.1 31.9,102.6 30.5,100.4C29.1,98.2 26.3,96.2 23.9,93.8C21.5,91.4 18.3,88.9 15.9,85.8C13.5,82.7 11.0,78.7 9.3,75.2C7.7,71.7 6.5,67.9 6.0,64.6C5.5,61.3 5.7,57.9 6.0,55.3C6.3,52.6 7.1,49.8 8.0,48.7C8.9,47.6 10.4,48.3 11.5,48.6C12.6,48.9 13.4,49.1 14.6,50.7C15.8,52.3 17.3,55.0 18.6,58.0C19.9,61.0 21.7,66.7 22.5,68.6C23.3,70.5 23.0,72.4 23.6,69.5C24.2,66.6 25.2,56.6 25.9,51.4C26.5,46.1 26.8,43.2 27.5,38.0C28.2,32.8 29.4,24.2 30.2,20.0C31.0,15.8 31.4,14.4 32.5,13.0C33.6,11.6 35.4,11.4 37.0,11.3C38.6,11.2 40.8,13.3 42.0,12.5C43.2,11.7 43.1,8.1 44.3,6.5C45.5,5.0 47.5,3.2 49.1,3.2C50.7,3.2 52.8,5.4 53.8,6.5C54.8,7.6 54.2,9.6 55.0,10.0C55.8,10.4 57.1,8.6 58.3,8.8C59.5,9.1 61.3,9.6 62.0,11.5C62.7,13.4 62.2,17.1 62.5,20.0C62.8,22.9 62.7,27.8 63.5,29.0C64.3,30.2 66.1,26.9 67.4,27.1C68.7,27.3 70.5,27.0 71.5,30.0C72.5,33.0 73.0,39.9 73.5,45.0C74.0,50.1 74.8,53.9 74.3,60.8C73.8,67.7 71.7,78.5 70.5,86.2C69.3,93.9 67.7,102.8 67.3,107.2C66.9,111.6 74.3,111.5 68.3,112.4C62.3,113.3 37.5,113.3 31.5,112.4C25.5,111.5 32.7,109.1 32.5,107.1Z" fill="#0c3cb4" stroke="#0c3cb4" stroke-width="4.0" filter="url(#bl1)"/>
<path d="M32.5,107.1C32.3,105.1 31.9,102.6 30.5,100.4C29.1,98.2 26.3,96.2 23.9,93.8C21.5,91.4 18.3,88.9 15.9,85.8C13.5,82.7 11.0,78.7 9.3,75.2C7.7,71.7 6.5,67.9 6.0,64.6C5.5,61.3 5.7,57.9 6.0,55.3C6.3,52.6 7.1,49.8 8.0,48.7C8.9,47.6 10.4,48.3 11.5,48.6C12.6,48.9 13.4,49.1 14.6,50.7C15.8,52.3 17.3,55.0 18.6,58.0C19.9,61.0 21.7,66.7 22.5,68.6C23.3,70.5 23.0,72.4 23.6,69.5C24.2,66.6 25.2,56.6 25.9,51.4C26.5,46.1 26.8,43.2 27.5,38.0C28.2,32.8 29.4,24.2 30.2,20.0C31.0,15.8 31.4,14.4 32.5,13.0C33.6,11.6 35.4,11.4 37.0,11.3C38.6,11.2 40.8,13.3 42.0,12.5C43.2,11.7 43.1,8.1 44.3,6.5C45.5,5.0 47.5,3.2 49.1,3.2C50.7,3.2 52.8,5.4 53.8,6.5C54.8,7.6 54.2,9.6 55.0,10.0C55.8,10.4 57.1,8.6 58.3,8.8C59.5,9.1 61.3,9.6 62.0,11.5C62.7,13.4 62.2,17.1 62.5,20.0C62.8,22.9 62.7,27.8 63.5,29.0C64.3,30.2 66.1,26.9 67.4,27.1C68.7,27.3 70.5,27.0 71.5,30.0C72.5,33.0 73.0,39.9 73.5,45.0C74.0,50.1 74.8,53.9 74.3,60.8C73.8,67.7 71.7,78.5 70.5,86.2C69.3,93.9 67.7,102.8 67.3,107.2C66.9,111.6 74.3,111.5 68.3,112.4C62.3,113.3 37.5,113.3 31.5,112.4C25.5,111.5 32.7,109.1 32.5,107.1Z" fill="#1878d0" stroke="#1878d0" stroke-width="1.4" filter="url(#bl05)"/>
<g clip-path="url(#h2)">
<path d="M32.5,107.1C32.3,105.1 31.9,102.6 30.5,100.4C29.1,98.2 26.3,96.2 23.9,93.8C21.5,91.4 18.3,88.9 15.9,85.8C13.5,82.7 11.0,78.7 9.3,75.2C7.7,71.7 6.5,67.9 6.0,64.6C5.5,61.3 5.7,57.9 6.0,55.3C6.3,52.6 7.1,49.8 8.0,48.7C8.9,47.6 10.4,48.3 11.5,48.6C12.6,48.9 13.4,49.1 14.6,50.7C15.8,52.3 17.3,55.0 18.6,58.0C19.9,61.0 21.7,66.7 22.5,68.6C23.3,70.5 23.0,72.4 23.6,69.5C24.2,66.6 25.2,56.6 25.9,51.4C26.5,46.1 26.8,43.2 27.5,38.0C28.2,32.8 29.4,24.2 30.2,20.0C31.0,15.8 31.4,14.4 32.5,13.0C33.6,11.6 35.4,11.4 37.0,11.3C38.6,11.2 40.8,13.3 42.0,12.5C43.2,11.7 43.1,8.1 44.3,6.5C45.5,5.0 47.5,3.2 49.1,3.2C50.7,3.2 52.8,5.4 53.8,6.5C54.8,7.6 54.2,9.6 55.0,10.0C55.8,10.4 57.1,8.6 58.3,8.8C59.5,9.1 61.3,9.6 62.0,11.5C62.7,13.4 62.2,17.1 62.5,20.0C62.8,22.9 62.7,27.8 63.5,29.0C64.3,30.2 66.1,26.9 67.4,27.1C68.7,27.3 70.5,27.0 71.5,30.0C72.5,33.0 73.0,39.9 73.5,45.0C74.0,50.1 74.8,53.9 74.3,60.8C73.8,67.7 71.7,78.5 70.5,86.2C69.3,93.9 67.7,102.8 67.3,107.2C66.9,111.6 74.3,111.5 68.3,112.4C62.3,113.3 37.5,113.3 31.5,112.4C25.5,111.5 32.7,109.1 32.5,107.1Z" fill="url(#g2)"/>
<radialGradient id="pr2_0" gradientUnits="userSpaceOnUse" cx="0" cy="0" r="1" gradientTransform="translate(48,110) scale(36,32)"><stop offset="0" stop-color="#ff1850" stop-opacity="1"/><stop offset="0.55" stop-color="#ff2050" stop-opacity="0.95"/><stop offset="0.82" stop-color="#ff6020" stop-opacity="0.5"/><stop offset="1" stop-color="#ff6020" stop-opacity="0"/></radialGradient>
<rect x="-5" y="-5" width="96.2" height="116.4" fill="url(#pr2_0)"/>
<g filter="url(#bl2)">
<path d="M9.3,75.2C7.0,73.3 6.5,67.9 6.0,64.6C5.5,61.3 5.7,57.9 6.0,55.3C6.3,52.6 7.1,49.8 8.0,48.7C8.9,47.6 10.4,48.3 11.5,48.6C12.6,48.9 13.4,49.1 14.6,50.7C15.8,52.3 17.3,55.0 18.6,58.0C19.9,61.0 22.3,65.6 22.5,68.6C22.7,71.6 22.2,74.9 20.0,76.0C17.8,77.1 11.6,77.1 9.3,75.2Z" fill="#f0e000" opacity="0.95"/>
<ellipse cx="67.4" cy="36.1" rx="4.2" ry="10" fill="#8cc838" opacity="0.85"/>
<ellipse cx="28" cy="70" rx="5" ry="9" fill="#ff3030" opacity="1"/>
<ellipse cx="70" cy="66" rx="4" ry="14" fill="#f0d000" opacity="0.8"/>
<ellipse cx="52" cy="106" rx="8" ry="3" fill="#ff90a8" opacity="1"/>
<ellipse cx="8" cy="50" rx="3" ry="3" fill="#b0d838" opacity="0.8"/>
</g>
<path d="M32.5,107.1C32.3,105.1 31.9,102.6 30.5,100.4C29.1,98.2 26.3,96.2 23.9,93.8C21.5,91.4 18.3,88.9 15.9,85.8C13.5,82.7 11.0,78.7 9.3,75.2C7.7,71.7 6.5,67.9 6.0,64.6C5.5,61.3 5.7,57.9 6.0,55.3C6.3,52.6 7.1,49.8 8.0,48.7C8.9,47.6 10.4,48.3 11.5,48.6C12.6,48.9 13.4,49.1 14.6,50.7C15.8,52.3 17.3,55.0 18.6,58.0C19.9,61.0 21.7,66.7 22.5,68.6C23.3,70.5 23.0,72.4 23.6,69.5C24.2,66.6 25.2,56.6 25.9,51.4C26.5,46.1 26.8,43.2 27.5,38.0C28.2,32.8 29.4,24.2 30.2,20.0C31.0,15.8 31.4,14.4 32.5,13.0C33.6,11.6 35.4,11.4 37.0,11.3C38.6,11.2 40.8,13.3 42.0,12.5C43.2,11.7 43.1,8.1 44.3,6.5C45.5,5.0 47.5,3.2 49.1,3.2C50.7,3.2 52.8,5.4 53.8,6.5C54.8,7.6 54.2,9.6 55.0,10.0C55.8,10.4 57.1,8.6 58.3,8.8C59.5,9.1 61.3,9.6 62.0,11.5C62.7,13.4 62.2,17.1 62.5,20.0C62.8,22.9 62.7,27.8 63.5,29.0C64.3,30.2 66.1,26.9 67.4,27.1C68.7,27.3 70.5,27.0 71.5,30.0C72.5,33.0 73.0,39.9 73.5,45.0C74.0,50.1 74.8,53.9 74.3,60.8C73.8,67.7 71.7,78.5 70.5,86.2C69.3,93.9 67.7,102.8 67.3,107.2C66.9,111.6 74.3,111.5 68.3,112.4C62.3,113.3 37.5,113.3 31.5,112.4C25.5,111.5 32.7,109.1 32.5,107.1Z" fill="none" stroke="#c8e020" stroke-width="4.4" filter="url(#bl1)" opacity="0.85"/>
<path d="M32.5,107.1C32.3,105.1 31.9,102.6 30.5,100.4C29.1,98.2 26.3,96.2 23.9,93.8C21.5,91.4 18.3,88.9 15.9,85.8C13.5,82.7 11.0,78.7 9.3,75.2C7.7,71.7 6.5,67.9 6.0,64.6C5.5,61.3 5.7,57.9 6.0,55.3C6.3,52.6 7.1,49.8 8.0,48.7C8.9,47.6 10.4,48.3 11.5,48.6C12.6,48.9 13.4,49.1 14.6,50.7C15.8,52.3 17.3,55.0 18.6,58.0C19.9,61.0 21.7,66.7 22.5,68.6C23.3,70.5 23.0,72.4 23.6,69.5C24.2,66.6 25.2,56.6 25.9,51.4C26.5,46.1 26.8,43.2 27.5,38.0C28.2,32.8 29.4,24.2 30.2,20.0C31.0,15.8 31.4,14.4 32.5,13.0C33.6,11.6 35.4,11.4 37.0,11.3C38.6,11.2 40.8,13.3 42.0,12.5C43.2,11.7 43.1,8.1 44.3,6.5C45.5,5.0 47.5,3.2 49.1,3.2C50.7,3.2 52.8,5.4 53.8,6.5C54.8,7.6 54.2,9.6 55.0,10.0C55.8,10.4 57.1,8.6 58.3,8.8C59.5,9.1 61.3,9.6 62.0,11.5C62.7,13.4 62.2,17.1 62.5,20.0C62.8,22.9 62.7,27.8 63.5,29.0C64.3,30.2 66.1,26.9 67.4,27.1C68.7,27.3 70.5,27.0 71.5,30.0C72.5,33.0 73.0,39.9 73.5,45.0C74.0,50.1 74.8,53.9 74.3,60.8C73.8,67.7 71.7,78.5 70.5,86.2C69.3,93.9 67.7,102.8 67.3,107.2C66.9,111.6 74.3,111.5 68.3,112.4C62.3,113.3 37.5,113.3 31.5,112.4C25.5,111.5 32.7,109.1 32.5,107.1Z" fill="none" stroke="#60c040" stroke-width="2.0" filter="url(#bl05)"/>
<path d="M32.5,107.1C32.3,105.1 31.9,102.6 30.5,100.4C29.1,98.2 26.3,96.2 23.9,93.8C21.5,91.4 18.3,88.9 15.9,85.8C13.5,82.7 11.0,78.7 9.3,75.2C7.7,71.7 6.5,67.9 6.0,64.6C5.5,61.3 5.7,57.9 6.0,55.3C6.3,52.6 7.1,49.8 8.0,48.7C8.9,47.6 10.4,48.3 11.5,48.6C12.6,48.9 13.4,49.1 14.6,50.7C15.8,52.3 17.3,55.0 18.6,58.0C19.9,61.0 21.7,66.7 22.5,68.6C23.3,70.5 23.0,72.4 23.6,69.5C24.2,66.6 25.2,56.6 25.9,51.4C26.5,46.1 26.8,43.2 27.5,38.0C28.2,32.8 29.4,24.2 30.2,20.0C31.0,15.8 31.4,14.4 32.5,13.0C33.6,11.6 35.4,11.4 37.0,11.3C38.6,11.2 40.8,13.3 42.0,12.5C43.2,11.7 43.1,8.1 44.3,6.5C45.5,5.0 47.5,3.2 49.1,3.2C50.7,3.2 52.8,5.4 53.8,6.5C54.8,7.6 54.2,9.6 55.0,10.0C55.8,10.4 57.1,8.6 58.3,8.8C59.5,9.1 61.3,9.6 62.0,11.5C62.7,13.4 62.2,17.1 62.5,20.0C62.8,22.9 62.7,27.8 63.5,29.0C64.3,30.2 66.1,26.9 67.4,27.1C68.7,27.3 70.5,27.0 71.5,30.0C72.5,33.0 73.0,39.9 73.5,45.0C74.0,50.1 74.8,53.9 74.3,60.8C73.8,67.7 71.7,78.5 70.5,86.2C69.3,93.9 67.7,102.8 67.3,107.2C66.9,111.6 74.3,111.5 68.3,112.4C62.3,113.3 37.5,113.3 31.5,112.4C25.5,111.5 32.7,109.1 32.5,107.1Z" fill="none" stroke="#20a8a8" stroke-width="0.8" filter="url(#bl05)"/>
<path d="M51.6,19.5L53.1,45" stroke="#1a6aa0" stroke-width="1.6" stroke-linecap="round" filter="url(#bl05)"/>
<path d="M62.3,38.8L63.3,51" stroke="#1a6aa0" stroke-width="1.3" stroke-linecap="round" filter="url(#bl05)"/>
</g>
<path d="M65.9,65.0C66.0,66.7 66.2,68.6 65.2,70.1C64.2,71.6 62.1,73.1 60.0,74.0C58.0,74.9 55.5,75.2 53.1,75.7C50.7,76.1 48.0,76.9 45.6,76.7C43.2,76.4 40.7,75.2 38.9,74.1C37.0,72.9 35.9,71.4 34.7,69.8C33.6,68.3 32.3,66.7 32.1,65.0C31.9,63.3 32.3,61.2 33.5,59.8C34.7,58.3 37.1,57.2 39.2,56.2C41.2,55.2 43.3,53.9 45.7,53.6C48.0,53.2 50.7,53.9 53.1,54.2C55.6,54.6 58.4,54.8 60.4,55.7C62.3,56.7 63.8,58.5 64.7,60.0C65.6,61.6 65.8,63.3 65.9,65.0Z" fill="#70b840" filter="url(#bl05)"/>
<clipPath id="pc2"><path d="M64.9,65.0C65.0,66.5 65.2,68.3 64.3,69.7C63.3,71.1 61.3,72.4 59.4,73.2C57.5,74.0 55.1,74.3 52.9,74.7C50.6,75.1 48.0,75.9 45.8,75.6C43.6,75.4 41.2,74.3 39.5,73.3C37.8,72.3 36.7,70.8 35.6,69.4C34.5,68.0 33.3,66.5 33.1,65.0C32.9,63.5 33.3,61.6 34.5,60.2C35.6,58.9 37.9,57.9 39.8,57.0C41.7,56.0 43.7,54.9 45.9,54.6C48.1,54.3 50.6,54.8 52.9,55.2C55.2,55.5 57.9,55.7 59.7,56.5C61.5,57.4 63.0,59.0 63.8,60.4C64.7,61.9 64.9,63.5 64.9,65.0Z"/></clipPath>
<path d="M64.9,65.0C65.0,66.5 65.2,68.3 64.3,69.7C63.3,71.1 61.3,72.4 59.4,73.2C57.5,74.0 55.1,74.3 52.9,74.7C50.6,75.1 48.0,75.9 45.8,75.6C43.6,75.4 41.2,74.3 39.5,73.3C37.8,72.3 36.7,70.8 35.6,69.4C34.5,68.0 33.3,66.5 33.1,65.0C32.9,63.5 33.3,61.6 34.5,60.2C35.6,58.9 37.9,57.9 39.8,57.0C41.7,56.0 43.7,54.9 45.9,54.6C48.1,54.3 50.6,54.8 52.9,55.2C55.2,55.5 57.9,55.7 59.7,56.5C61.5,57.4 63.0,59.0 63.8,60.4C64.7,61.9 64.9,63.5 64.9,65.0Z" fill="#b0d834" filter="url(#bl05)"/>
<g clip-path="url(#pc2)"><g filter="url(#bl1)">
<ellipse cx="47" cy="63" rx="9" ry="6" fill="#cce040" opacity="0.8"/>
</g></g>
<path d="M46.2,66.5h6.6M49.5,63.2v6.6" stroke="#111" stroke-width="0.9"/>
<text x="35.0" y="86.5" style="font-family:'Liberation Serif',serif;font-weight:bold;font-size:14.6px;letter-spacing:0.6px;stroke:#000;stroke-width:0.4px">22.1</text>
<text transform="translate(5.2,22.9) scale(1.06,1)" style="font-family:'Liberation Sans',sans-serif;font-size:19.5px;fill:#fff;stroke:#fff;stroke-width:0.35px">10s</text>
</g></g>
<g transform="translate(321.7,276.9)">
<clipPath id="ic3"><rect x="0" y="0" width="78.80" height="106.40"/></clipPath>
<clipPath id="h3"><path d="M31.1,107.1C31.1,105.1 31.1,102.6 29.8,100.4C28.5,98.2 25.6,96.2 23.2,93.8C20.8,91.4 17.6,88.7 15.2,85.8C12.8,82.9 10.4,79.7 8.6,76.6C6.8,73.5 5.4,70.4 4.6,67.3C3.8,64.2 3.9,60.8 4.0,58.0C4.1,55.2 4.5,52.0 5.3,50.7C6.1,49.4 7.8,50.3 9.0,50.4C10.2,50.5 11.4,49.7 12.6,51.4C13.8,53.1 14.8,57.6 15.9,60.6C17.0,63.6 18.5,67.8 19.2,69.3C19.9,70.8 19.9,71.7 20.3,69.8C20.7,67.9 21.3,63.3 21.8,58.0C22.3,52.7 22.9,44.4 23.2,38.1C23.5,31.8 23.1,24.0 23.5,20.0C23.9,16.0 24.2,15.3 25.5,14.0C26.8,12.7 29.2,12.2 31.0,12.0C32.8,11.8 35.2,13.9 36.5,13.0C37.8,12.1 37.6,8.1 38.8,6.5C40.0,4.9 42.1,3.2 43.8,3.2C45.4,3.2 47.8,5.4 48.7,6.5C49.7,7.6 48.8,9.6 49.5,10.0C50.2,10.4 51.9,8.6 53.2,8.8C54.5,9.1 56.5,9.3 57.3,11.5C58.1,13.7 57.4,18.9 57.8,22.0C58.2,25.1 58.5,29.1 59.5,30.0C60.5,30.9 62.2,27.5 63.6,27.6C65.0,27.7 66.8,27.6 67.8,30.5C68.8,33.4 69.0,40.1 69.3,45.0C69.6,49.9 69.6,53.4 69.4,59.8C69.2,66.1 69.0,75.2 68.2,83.1C67.4,91.0 65.1,102.2 64.7,107.1C64.3,112.0 71.5,111.5 65.7,112.4C59.9,113.3 35.9,113.3 30.1,112.4C24.3,111.5 31.2,109.1 31.1,107.1Z"/></clipPath>
<linearGradient id="g3" gradientUnits="userSpaceOnUse" x1="0" y1="0" x2="0" y2="107"><stop offset="0.000" stop-color="#88cc40"/><stop offset="0.131" stop-color="#a4d430"/><stop offset="0.280" stop-color="#c8dc1c"/><stop offset="0.393" stop-color="#e8e010"/><stop offset="0.449" stop-color="#f6c800"/><stop offset="0.505" stop-color="#ffa800"/><stop offset="0.579" stop-color="#ffa800"/><stop offset="0.748" stop-color="#ff9010"/><stop offset="1.000" stop-color="#ff8010"/></linearGradient>
<g clip-path="url(#ic3)">
<rect x="0" y="0" width="78.80" height="106.40" fill="#02034f"/>
<path d="M31.1,107.1C31.1,105.1 31.1,102.6 29.8,100.4C28.5,98.2 25.6,96.2 23.2,93.8C20.8,91.4 17.6,88.7 15.2,85.8C12.8,82.9 10.4,79.7 8.6,76.6C6.8,73.5 5.4,70.4 4.6,67.3C3.8,64.2 3.9,60.8 4.0,58.0C4.1,55.2 4.5,52.0 5.3,50.7C6.1,49.4 7.8,50.3 9.0,50.4C10.2,50.5 11.4,49.7 12.6,51.4C13.8,53.1 14.8,57.6 15.9,60.6C17.0,63.6 18.5,67.8 19.2,69.3C19.9,70.8 19.9,71.7 20.3,69.8C20.7,67.9 21.3,63.3 21.8,58.0C22.3,52.7 22.9,44.4 23.2,38.1C23.5,31.8 23.1,24.0 23.5,20.0C23.9,16.0 24.2,15.3 25.5,14.0C26.8,12.7 29.2,12.2 31.0,12.0C32.8,11.8 35.2,13.9 36.5,13.0C37.8,12.1 37.6,8.1 38.8,6.5C40.0,4.9 42.1,3.2 43.8,3.2C45.4,3.2 47.8,5.4 48.7,6.5C49.7,7.6 48.8,9.6 49.5,10.0C50.2,10.4 51.9,8.6 53.2,8.8C54.5,9.1 56.5,9.3 57.3,11.5C58.1,13.7 57.4,18.9 57.8,22.0C58.2,25.1 58.5,29.1 59.5,30.0C60.5,30.9 62.2,27.5 63.6,27.6C65.0,27.7 66.8,27.6 67.8,30.5C68.8,33.4 69.0,40.1 69.3,45.0C69.6,49.9 69.6,53.4 69.4,59.8C69.2,66.1 69.0,75.2 68.2,83.1C67.4,91.0 65.1,102.2 64.7,107.1C64.3,112.0 71.5,111.5 65.7,112.4C59.9,113.3 35.9,113.3 30.1,112.4C24.3,111.5 31.2,109.1 31.1,107.1Z" fill="#0c3cb4" stroke="#0c3cb4" stroke-width="4.0" filter="url(#bl1)"/>
<path d="M31.1,107.1C31.1,105.1 31.1,102.6 29.8,100.4C28.5,98.2 25.6,96.2 23.2,93.8C20.8,91.4 17.6,88.7 15.2,85.8C12.8,82.9 10.4,79.7 8.6,76.6C6.8,73.5 5.4,70.4 4.6,67.3C3.8,64.2 3.9,60.8 4.0,58.0C4.1,55.2 4.5,52.0 5.3,50.7C6.1,49.4 7.8,50.3 9.0,50.4C10.2,50.5 11.4,49.7 12.6,51.4C13.8,53.1 14.8,57.6 15.9,60.6C17.0,63.6 18.5,67.8 19.2,69.3C19.9,70.8 19.9,71.7 20.3,69.8C20.7,67.9 21.3,63.3 21.8,58.0C22.3,52.7 22.9,44.4 23.2,38.1C23.5,31.8 23.1,24.0 23.5,20.0C23.9,16.0 24.2,15.3 25.5,14.0C26.8,12.7 29.2,12.2 31.0,12.0C32.8,11.8 35.2,13.9 36.5,13.0C37.8,12.1 37.6,8.1 38.8,6.5C40.0,4.9 42.1,3.2 43.8,3.2C45.4,3.2 47.8,5.4 48.7,6.5C49.7,7.6 48.8,9.6 49.5,10.0C50.2,10.4 51.9,8.6 53.2,8.8C54.5,9.1 56.5,9.3 57.3,11.5C58.1,13.7 57.4,18.9 57.8,22.0C58.2,25.1 58.5,29.1 59.5,30.0C60.5,30.9 62.2,27.5 63.6,27.6C65.0,27.7 66.8,27.6 67.8,30.5C68.8,33.4 69.0,40.1 69.3,45.0C69.6,49.9 69.6,53.4 69.4,59.8C69.2,66.1 69.0,75.2 68.2,83.1C67.4,91.0 65.1,102.2 64.7,107.1C64.3,112.0 71.5,111.5 65.7,112.4C59.9,113.3 35.9,113.3 30.1,112.4C24.3,111.5 31.2,109.1 31.1,107.1Z" fill="#1878d0" stroke="#1878d0" stroke-width="1.4" filter="url(#bl05)"/>
<g clip-path="url(#h3)">
<path d="M31.1,107.1C31.1,105.1 31.1,102.6 29.8,100.4C28.5,98.2 25.6,96.2 23.2,93.8C20.8,91.4 17.6,88.7 15.2,85.8C12.8,82.9 10.4,79.7 8.6,76.6C6.8,73.5 5.4,70.4 4.6,67.3C3.8,64.2 3.9,60.8 4.0,58.0C4.1,55.2 4.5,52.0 5.3,50.7C6.1,49.4 7.8,50.3 9.0,50.4C10.2,50.5 11.4,49.7 12.6,51.4C13.8,53.1 14.8,57.6 15.9,60.6C17.0,63.6 18.5,67.8 19.2,69.3C19.9,70.8 19.9,71.7 20.3,69.8C20.7,67.9 21.3,63.3 21.8,58.0C22.3,52.7 22.9,44.4 23.2,38.1C23.5,31.8 23.1,24.0 23.5,20.0C23.9,16.0 24.2,15.3 25.5,14.0C26.8,12.7 29.2,12.2 31.0,12.0C32.8,11.8 35.2,13.9 36.5,13.0C37.8,12.1 37.6,8.1 38.8,6.5C40.0,4.9 42.1,3.2 43.8,3.2C45.4,3.2 47.8,5.4 48.7,6.5C49.7,7.6 48.8,9.6 49.5,10.0C50.2,10.4 51.9,8.6 53.2,8.8C54.5,9.1 56.5,9.3 57.3,11.5C58.1,13.7 57.4,18.9 57.8,22.0C58.2,25.1 58.5,29.1 59.5,30.0C60.5,30.9 62.2,27.5 63.6,27.6C65.0,27.7 66.8,27.6 67.8,30.5C68.8,33.4 69.0,40.1 69.3,45.0C69.6,49.9 69.6,53.4 69.4,59.8C69.2,66.1 69.0,75.2 68.2,83.1C67.4,91.0 65.1,102.2 64.7,107.1C64.3,112.0 71.5,111.5 65.7,112.4C59.9,113.3 35.9,113.3 30.1,112.4C24.3,111.5 31.2,109.1 31.1,107.1Z" fill="url(#g3)"/>
<radialGradient id="pr3_0" gradientUnits="userSpaceOnUse" cx="0" cy="0" r="1" gradientTransform="translate(44,108) scale(36,36)"><stop offset="0" stop-color="#ff1850" stop-opacity="1"/><stop offset="0.55" stop-color="#ff2450" stop-opacity="0.95"/><stop offset="0.82" stop-color="#ff6020" stop-opacity="0.5"/><stop offset="1" stop-color="#ff6020" stop-opacity="0"/></radialGradient>
<rect x="-5" y="-5" width="88.8" height="116.4" fill="url(#pr3_0)"/>
<g filter="url(#bl2)">
<path d="M8.6,76.6C6.7,75.0 5.4,70.4 4.6,67.3C3.8,64.2 3.9,60.8 4.0,58.0C4.1,55.2 4.5,52.0 5.3,50.7C6.1,49.4 7.8,50.3 9.0,50.4C10.2,50.5 11.4,49.7 12.6,51.4C13.8,53.1 14.8,57.6 15.9,60.6C17.0,63.6 19.2,66.6 19.2,69.3C19.2,72.0 17.8,75.8 16.0,77.0C14.2,78.2 10.5,78.2 8.6,76.6Z" fill="#f0e000" opacity="0.95"/>
<ellipse cx="63.6" cy="36.6" rx="4.2" ry="10" fill="#8cc838" opacity="0.85"/>
<ellipse cx="26" cy="70" rx="6" ry="9" fill="#ff3040" opacity="1"/>
<ellipse cx="66" cy="62" rx="3" ry="15" fill="#f8c000" opacity="0.8"/>
<ellipse cx="48" cy="106" rx="9" ry="3" fill="#ff90a8" opacity="0.8"/>
<ellipse cx="5.5" cy="52" rx="3" ry="3" fill="#b0d838" opacity="0.8"/>
</g>
<path d="M31.1,107.1C31.1,105.1 31.1,102.6 29.8,100.4C28.5,98.2 25.6,96.2 23.2,93.8C20.8,91.4 17.6,88.7 15.2,85.8C12.8,82.9 10.4,79.7 8.6,76.6C6.8,73.5 5.4,70.4 4.6,67.3C3.8,64.2 3.9,60.8 4.0,58.0C4.1,55.2 4.5,52.0 5.3,50.7C6.1,49.4 7.8,50.3 9.0,50.4C10.2,50.5 11.4,49.7 12.6,51.4C13.8,53.1 14.8,57.6 15.9,60.6C17.0,63.6 18.5,67.8 19.2,69.3C19.9,70.8 19.9,71.7 20.3,69.8C20.7,67.9 21.3,63.3 21.8,58.0C22.3,52.7 22.9,44.4 23.2,38.1C23.5,31.8 23.1,24.0 23.5,20.0C23.9,16.0 24.2,15.3 25.5,14.0C26.8,12.7 29.2,12.2 31.0,12.0C32.8,11.8 35.2,13.9 36.5,13.0C37.8,12.1 37.6,8.1 38.8,6.5C40.0,4.9 42.1,3.2 43.8,3.2C45.4,3.2 47.8,5.4 48.7,6.5C49.7,7.6 48.8,9.6 49.5,10.0C50.2,10.4 51.9,8.6 53.2,8.8C54.5,9.1 56.5,9.3 57.3,11.5C58.1,13.7 57.4,18.9 57.8,22.0C58.2,25.1 58.5,29.1 59.5,30.0C60.5,30.9 62.2,27.5 63.6,27.6C65.0,27.7 66.8,27.6 67.8,30.5C68.8,33.4 69.0,40.1 69.3,45.0C69.6,49.9 69.6,53.4 69.4,59.8C69.2,66.1 69.0,75.2 68.2,83.1C67.4,91.0 65.1,102.2 64.7,107.1C64.3,112.0 71.5,111.5 65.7,112.4C59.9,113.3 35.9,113.3 30.1,112.4C24.3,111.5 31.2,109.1 31.1,107.1Z" fill="none" stroke="#c8e020" stroke-width="4.4" filter="url(#bl1)" opacity="0.85"/>
<path d="M31.1,107.1C31.1,105.1 31.1,102.6 29.8,100.4C28.5,98.2 25.6,96.2 23.2,93.8C20.8,91.4 17.6,88.7 15.2,85.8C12.8,82.9 10.4,79.7 8.6,76.6C6.8,73.5 5.4,70.4 4.6,67.3C3.8,64.2 3.9,60.8 4.0,58.0C4.1,55.2 4.5,52.0 5.3,50.7C6.1,49.4 7.8,50.3 9.0,50.4C10.2,50.5 11.4,49.7 12.6,51.4C13.8,53.1 14.8,57.6 15.9,60.6C17.0,63.6 18.5,67.8 19.2,69.3C19.9,70.8 19.9,71.7 20.3,69.8C20.7,67.9 21.3,63.3 21.8,58.0C22.3,52.7 22.9,44.4 23.2,38.1C23.5,31.8 23.1,24.0 23.5,20.0C23.9,16.0 24.2,15.3 25.5,14.0C26.8,12.7 29.2,12.2 31.0,12.0C32.8,11.8 35.2,13.9 36.5,13.0C37.8,12.1 37.6,8.1 38.8,6.5C40.0,4.9 42.1,3.2 43.8,3.2C45.4,3.2 47.8,5.4 48.7,6.5C49.7,7.6 48.8,9.6 49.5,10.0C50.2,10.4 51.9,8.6 53.2,8.8C54.5,9.1 56.5,9.3 57.3,11.5C58.1,13.7 57.4,18.9 57.8,22.0C58.2,25.1 58.5,29.1 59.5,30.0C60.5,30.9 62.2,27.5 63.6,27.6C65.0,27.7 66.8,27.6 67.8,30.5C68.8,33.4 69.0,40.1 69.3,45.0C69.6,49.9 69.6,53.4 69.4,59.8C69.2,66.1 69.0,75.2 68.2,83.1C67.4,91.0 65.1,102.2 64.7,107.1C64.3,112.0 71.5,111.5 65.7,112.4C59.9,113.3 35.9,113.3 30.1,112.4C24.3,111.5 31.2,109.1 31.1,107.1Z" fill="none" stroke="#60c040" stroke-width="2.0" filter="url(#bl05)"/>
<path d="M31.1,107.1C31.1,105.1 31.1,102.6 29.8,100.4C28.5,98.2 25.6,96.2 23.2,93.8C20.8,91.4 17.6,88.7 15.2,85.8C12.8,82.9 10.4,79.7 8.6,76.6C6.8,73.5 5.4,70.4 4.6,67.3C3.8,64.2 3.9,60.8 4.0,58.0C4.1,55.2 4.5,52.0 5.3,50.7C6.1,49.4 7.8,50.3 9.0,50.4C10.2,50.5 11.4,49.7 12.6,51.4C13.8,53.1 14.8,57.6 15.9,60.6C17.0,63.6 18.5,67.8 19.2,69.3C19.9,70.8 19.9,71.7 20.3,69.8C20.7,67.9 21.3,63.3 21.8,58.0C22.3,52.7 22.9,44.4 23.2,38.1C23.5,31.8 23.1,24.0 23.5,20.0C23.9,16.0 24.2,15.3 25.5,14.0C26.8,12.7 29.2,12.2 31.0,12.0C32.8,11.8 35.2,13.9 36.5,13.0C37.8,12.1 37.6,8.1 38.8,6.5C40.0,4.9 42.1,3.2 43.8,3.2C45.4,3.2 47.8,5.4 48.7,6.5C49.7,7.6 48.8,9.6 49.5,10.0C50.2,10.4 51.9,8.6 53.2,8.8C54.5,9.1 56.5,9.3 57.3,11.5C58.1,13.7 57.4,18.9 57.8,22.0C58.2,25.1 58.5,29.1 59.5,30.0C60.5,30.9 62.2,27.5 63.6,27.6C65.0,27.7 66.8,27.6 67.8,30.5C68.8,33.4 69.0,40.1 69.3,45.0C69.6,49.9 69.6,53.4 69.4,59.8C69.2,66.1 69.0,75.2 68.2,83.1C67.4,91.0 65.1,102.2 64.7,107.1C64.3,112.0 71.5,111.5 65.7,112.4C59.9,113.3 35.9,113.3 30.1,112.4C24.3,111.5 31.2,109.1 31.1,107.1Z" fill="none" stroke="#20a8a8" stroke-width="0.8" filter="url(#bl05)"/>
<path d="M46.8,19.5L48.3,46" stroke="#1a6aa0" stroke-width="1.6" stroke-linecap="round" filter="url(#bl05)"/>
<path d="M58.5,38.8L59.5,51" stroke="#1a6aa0" stroke-width="1.3" stroke-linecap="round" filter="url(#bl05)"/>
</g>
<path d="M64.0,66.8C64.1,68.5 64.0,70.5 62.9,72.0C61.8,73.4 59.3,74.5 57.2,75.5C55.2,76.6 53.1,78.0 50.8,78.3C48.5,78.7 45.8,77.8 43.3,77.5C40.8,77.1 38.1,76.9 36.0,76.0C33.9,75.1 31.7,73.6 30.7,72.0C29.7,70.5 30.1,68.5 30.1,66.8C30.2,65.1 29.9,63.1 31.0,61.7C32.1,60.2 34.7,59.2 36.7,58.2C38.7,57.1 40.7,55.9 43.0,55.4C45.4,54.9 48.5,54.7 50.9,55.1C53.2,55.6 55.3,57.0 57.2,58.1C59.2,59.2 61.3,60.3 62.5,61.8C63.6,63.2 63.9,65.1 64.0,66.8Z" fill="#a8d040" filter="url(#bl05)"/>
<clipPath id="pc3"><path d="M63.0,66.8C63.1,68.4 63.0,70.2 62.0,71.5C60.9,72.9 58.5,73.8 56.6,74.8C54.7,75.7 52.8,77.1 50.6,77.3C48.4,77.6 45.8,76.9 43.5,76.5C41.2,76.2 38.6,76.0 36.7,75.2C34.7,74.3 32.6,73.0 31.7,71.6C30.7,70.2 31.1,68.4 31.1,66.8C31.2,65.2 30.9,63.4 32.0,62.1C33.0,60.8 35.4,59.9 37.3,58.9C39.1,58.0 41.0,56.8 43.2,56.4C45.5,55.9 48.4,55.7 50.6,56.2C52.9,56.6 54.8,57.8 56.6,58.8C58.5,59.8 60.5,60.9 61.6,62.2C62.6,63.5 62.9,65.2 63.0,66.8Z"/></clipPath>
<path d="M63.0,66.8C63.1,68.4 63.0,70.2 62.0,71.5C60.9,72.9 58.5,73.8 56.6,74.8C54.7,75.7 52.8,77.1 50.6,77.3C48.4,77.6 45.8,76.9 43.5,76.5C41.2,76.2 38.6,76.0 36.7,75.2C34.7,74.3 32.6,73.0 31.7,71.6C30.7,70.2 31.1,68.4 31.1,66.8C31.2,65.2 30.9,63.4 32.0,62.1C33.0,60.8 35.4,59.9 37.3,58.9C39.1,58.0 41.0,56.8 43.2,56.4C45.5,55.9 48.4,55.7 50.6,56.2C52.9,56.6 54.8,57.8 56.6,58.8C58.5,59.8 60.5,60.9 61.6,62.2C62.6,63.5 62.9,65.2 63.0,66.8Z" fill="#e8ec20" filter="url(#bl05)"/>
<g clip-path="url(#pc3)"><g filter="url(#bl1)">
<ellipse cx="57" cy="62" rx="7" ry="6" fill="#b0d840" opacity="1"/>
</g></g>
<path d="M44.1,66.8h6.6M47.4,63.5v6.6" stroke="#111" stroke-width="0.9"/>
<text x="33.1" y="86.9" style="font-family:'Liberation Serif',serif;font-weight:bold;font-size:14.6px;letter-spacing:0.6px;stroke:#000;stroke-width:0.4px">24.5</text>
<text transform="translate(6.8,22.9) scale(1.06,1)" style="font-family:'Liberation Sans',sans-serif;font-size:19.5px;fill:#fff;stroke:#fff;stroke-width:0.35px">40s</text>
</g></g>
<g transform="translate(403.9,276.9)">
<clipPath id="ic4"><rect x="0" y="0" width="85.60" height="106.40"/></clipPath>
<clipPath id="h4"><path d="M41.6,107.2C41.5,105.8 40.9,105.8 39.7,104.0C38.6,102.2 36.6,99.0 34.7,96.4C32.8,93.9 30.4,91.0 28.3,88.7C26.2,86.4 23.9,84.3 22.0,82.4C20.1,80.5 18.6,79.3 16.9,77.3C15.2,75.3 13.3,72.6 11.8,70.3C10.3,68.0 9.3,65.5 8.0,63.3C6.7,61.1 4.8,58.6 4.2,57.0C3.6,55.4 3.4,54.5 4.2,53.8C5.1,53.0 7.4,52.3 9.3,52.5C11.2,52.7 13.3,53.5 15.6,55.1C17.9,56.7 20.8,59.6 23.2,62.1C25.6,64.6 28.7,73.1 30.2,70.3C31.7,67.5 31.7,53.4 32.1,45.0C32.5,36.6 32.2,25.7 32.5,20.0C32.8,14.3 32.7,13.1 34.0,11.0C35.3,8.9 38.3,8.1 40.5,7.7C42.7,7.3 45.8,9.3 47.0,8.5C48.2,7.7 46.8,4.3 47.8,3.0C48.8,1.7 51.2,0.5 53.0,0.6C54.8,0.7 57.2,2.5 58.3,3.5C59.4,4.5 58.6,6.2 59.5,6.5C60.4,6.8 62.1,5.0 63.5,5.2C64.9,5.5 67.0,5.5 67.8,8.0C68.6,10.5 68.0,17.1 68.3,20.0C68.6,22.9 68.7,24.9 69.5,25.5C70.3,26.1 72.1,23.4 73.4,23.6C74.7,23.8 76.5,24.1 77.5,26.5C78.5,28.9 79.0,34.4 79.5,38.0C80.0,41.6 80.2,42.2 80.4,48.1C80.6,54.0 81.0,63.6 80.4,73.5C79.8,83.3 77.1,100.7 76.6,107.2C76.1,113.7 83.6,111.5 77.6,112.4C71.6,113.3 46.6,113.3 40.6,112.4C34.6,111.5 41.8,108.6 41.6,107.2Z"/></clipPath>
<linearGradient id="g4" gradientUnits="userSpaceOnUse" x1="0" y1="0" x2="0" y2="107"><stop offset="0.000" stop-color="#80c840"/><stop offset="0.131" stop-color="#a4d030"/><stop offset="0.262" stop-color="#d0d818"/><stop offset="0.355" stop-color="#f0d000"/><stop offset="0.411" stop-color="#ffa800"/><stop offset="0.467" stop-color="#ff8818"/><stop offset="0.561" stop-color="#ff9818"/><stop offset="1.000" stop-color="#ff9818"/></linearGradient>
<g clip-path="url(#ic4)">
<rect x="0" y="0" width="85.60" height="106.40" fill="#02034f"/>
<path d="M41.6,107.2C41.5,105.8 40.9,105.8 39.7,104.0C38.6,102.2 36.6,99.0 34.7,96.4C32.8,93.9 30.4,91.0 28.3,88.7C26.2,86.4 23.9,84.3 22.0,82.4C20.1,80.5 18.6,79.3 16.9,77.3C15.2,75.3 13.3,72.6 11.8,70.3C10.3,68.0 9.3,65.5 8.0,63.3C6.7,61.1 4.8,58.6 4.2,57.0C3.6,55.4 3.4,54.5 4.2,53.8C5.1,53.0 7.4,52.3 9.3,52.5C11.2,52.7 13.3,53.5 15.6,55.1C17.9,56.7 20.8,59.6 23.2,62.1C25.6,64.6 28.7,73.1 30.2,70.3C31.7,67.5 31.7,53.4 32.1,45.0C32.5,36.6 32.2,25.7 32.5,20.0C32.8,14.3 32.7,13.1 34.0,11.0C35.3,8.9 38.3,8.1 40.5,7.7C42.7,7.3 45.8,9.3 47.0,8.5C48.2,7.7 46.8,4.3 47.8,3.0C48.8,1.7 51.2,0.5 53.0,0.6C54.8,0.7 57.2,2.5 58.3,3.5C59.4,4.5 58.6,6.2 59.5,6.5C60.4,6.8 62.1,5.0 63.5,5.2C64.9,5.5 67.0,5.5 67.8,8.0C68.6,10.5 68.0,17.1 68.3,20.0C68.6,22.9 68.7,24.9 69.5,25.5C70.3,26.1 72.1,23.4 73.4,23.6C74.7,23.8 76.5,24.1 77.5,26.5C78.5,28.9 79.0,34.4 79.5,38.0C80.0,41.6 80.2,42.2 80.4,48.1C80.6,54.0 81.0,63.6 80.4,73.5C79.8,83.3 77.1,100.7 76.6,107.2C76.1,113.7 83.6,111.5 77.6,112.4C71.6,113.3 46.6,113.3 40.6,112.4C34.6,111.5 41.8,108.6 41.6,107.2Z" fill="#0c3cb4" stroke="#0c3cb4" stroke-width="4.0" filter="url(#bl1)"/>
<path d="M41.6,107.2C41.5,105.8 40.9,105.8 39.7,104.0C38.6,102.2 36.6,99.0 34.7,96.4C32.8,93.9 30.4,91.0 28.3,88.7C26.2,86.4 23.9,84.3 22.0,82.4C20.1,80.5 18.6,79.3 16.9,77.3C15.2,75.3 13.3,72.6 11.8,70.3C10.3,68.0 9.3,65.5 8.0,63.3C6.7,61.1 4.8,58.6 4.2,57.0C3.6,55.4 3.4,54.5 4.2,53.8C5.1,53.0 7.4,52.3 9.3,52.5C11.2,52.7 13.3,53.5 15.6,55.1C17.9,56.7 20.8,59.6 23.2,62.1C25.6,64.6 28.7,73.1 30.2,70.3C31.7,67.5 31.7,53.4 32.1,45.0C32.5,36.6 32.2,25.7 32.5,20.0C32.8,14.3 32.7,13.1 34.0,11.0C35.3,8.9 38.3,8.1 40.5,7.7C42.7,7.3 45.8,9.3 47.0,8.5C48.2,7.7 46.8,4.3 47.8,3.0C48.8,1.7 51.2,0.5 53.0,0.6C54.8,0.7 57.2,2.5 58.3,3.5C59.4,4.5 58.6,6.2 59.5,6.5C60.4,6.8 62.1,5.0 63.5,5.2C64.9,5.5 67.0,5.5 67.8,8.0C68.6,10.5 68.0,17.1 68.3,20.0C68.6,22.9 68.7,24.9 69.5,25.5C70.3,26.1 72.1,23.4 73.4,23.6C74.7,23.8 76.5,24.1 77.5,26.5C78.5,28.9 79.0,34.4 79.5,38.0C80.0,41.6 80.2,42.2 80.4,48.1C80.6,54.0 81.0,63.6 80.4,73.5C79.8,83.3 77.1,100.7 76.6,107.2C76.1,113.7 83.6,111.5 77.6,112.4C71.6,113.3 46.6,113.3 40.6,112.4C34.6,111.5 41.8,108.6 41.6,107.2Z" fill="#1878d0" stroke="#1878d0" stroke-width="1.4" filter="url(#bl05)"/>
<g clip-path="url(#h4)">
<path d="M41.6,107.2C41.5,105.8 40.9,105.8 39.7,104.0C38.6,102.2 36.6,99.0 34.7,96.4C32.8,93.9 30.4,91.0 28.3,88.7C26.2,86.4 23.9,84.3 22.0,82.4C20.1,80.5 18.6,79.3 16.9,77.3C15.2,75.3 13.3,72.6 11.8,70.3C10.3,68.0 9.3,65.5 8.0,63.3C6.7,61.1 4.8,58.6 4.2,57.0C3.6,55.4 3.4,54.5 4.2,53.8C5.1,53.0 7.4,52.3 9.3,52.5C11.2,52.7 13.3,53.5 15.6,55.1C17.9,56.7 20.8,59.6 23.2,62.1C25.6,64.6 28.7,73.1 30.2,70.3C31.7,67.5 31.7,53.4 32.1,45.0C32.5,36.6 32.2,25.7 32.5,20.0C32.8,14.3 32.7,13.1 34.0,11.0C35.3,8.9 38.3,8.1 40.5,7.7C42.7,7.3 45.8,9.3 47.0,8.5C48.2,7.7 46.8,4.3 47.8,3.0C48.8,1.7 51.2,0.5 53.0,0.6C54.8,0.7 57.2,2.5 58.3,3.5C59.4,4.5 58.6,6.2 59.5,6.5C60.4,6.8 62.1,5.0 63.5,5.2C64.9,5.5 67.0,5.5 67.8,8.0C68.6,10.5 68.0,17.1 68.3,20.0C68.6,22.9 68.7,24.9 69.5,25.5C70.3,26.1 72.1,23.4 73.4,23.6C74.7,23.8 76.5,24.1 77.5,26.5C78.5,28.9 79.0,34.4 79.5,38.0C80.0,41.6 80.2,42.2 80.4,48.1C80.6,54.0 81.0,63.6 80.4,73.5C79.8,83.3 77.1,100.7 76.6,107.2C76.1,113.7 83.6,111.5 77.6,112.4C71.6,113.3 46.6,113.3 40.6,112.4C34.6,111.5 41.8,108.6 41.6,107.2Z" fill="url(#g4)"/>
<radialGradient id="pr4_0" gradientUnits="userSpaceOnUse" cx="0" cy="0" r="1" gradientTransform="translate(50,92) scale(34,40)"><stop offset="0" stop-color="#ff4a70" stop-opacity="1"/><stop offset="0.6" stop-color="#ff2850" stop-opacity="0.95"/><stop offset="0.85" stop-color="#ff6030" stop-opacity="0.5"/><stop offset="1" stop-color="#ff6030" stop-opacity="0"/></radialGradient>
<rect x="-5" y="-5" width="95.6" height="116.4" fill="url(#pr4_0)"/>
<g filter="url(#bl2)">
<path d="M22.0,82.4C20.3,82.5 18.6,79.3 16.9,77.3C15.2,75.3 13.3,72.6 11.8,70.3C10.3,68.0 9.3,65.5 8.0,63.3C6.7,61.1 4.8,58.6 4.2,57.0C3.6,55.4 3.4,54.5 4.2,53.8C5.1,53.0 7.4,52.3 9.3,52.5C11.2,52.7 13.3,53.5 15.6,55.1C17.9,56.7 21.0,59.7 23.2,62.1C25.4,64.5 28.4,67.0 29.0,69.5C29.6,72.0 28.2,74.8 27.0,77.0C25.8,79.2 23.7,82.4 22.0,82.4Z" fill="#ece000" opacity="0.95"/>
<ellipse cx="73.4" cy="32.6" rx="4.2" ry="10" fill="#8cc838" opacity="0.85"/>
<ellipse cx="76" cy="62" rx="4" ry="16" fill="#ffb800" opacity="0.9"/>
<ellipse cx="60" cy="102" rx="15" ry="9" fill="#ff7090" opacity="0.8"/>
<ellipse cx="50" cy="51" rx="11" ry="5" fill="#ff3838" opacity="0.9"/>
</g>
<path d="M41.6,107.2C41.5,105.8 40.9,105.8 39.7,104.0C38.6,102.2 36.6,99.0 34.7,96.4C32.8,93.9 30.4,91.0 28.3,88.7C26.2,86.4 23.9,84.3 22.0,82.4C20.1,80.5 18.6,79.3 16.9,77.3C15.2,75.3 13.3,72.6 11.8,70.3C10.3,68.0 9.3,65.5 8.0,63.3C6.7,61.1 4.8,58.6 4.2,57.0C3.6,55.4 3.4,54.5 4.2,53.8C5.1,53.0 7.4,52.3 9.3,52.5C11.2,52.7 13.3,53.5 15.6,55.1C17.9,56.7 20.8,59.6 23.2,62.1C25.6,64.6 28.7,73.1 30.2,70.3C31.7,67.5 31.7,53.4 32.1,45.0C32.5,36.6 32.2,25.7 32.5,20.0C32.8,14.3 32.7,13.1 34.0,11.0C35.3,8.9 38.3,8.1 40.5,7.7C42.7,7.3 45.8,9.3 47.0,8.5C48.2,7.7 46.8,4.3 47.8,3.0C48.8,1.7 51.2,0.5 53.0,0.6C54.8,0.7 57.2,2.5 58.3,3.5C59.4,4.5 58.6,6.2 59.5,6.5C60.4,6.8 62.1,5.0 63.5,5.2C64.9,5.5 67.0,5.5 67.8,8.0C68.6,10.5 68.0,17.1 68.3,20.0C68.6,22.9 68.7,24.9 69.5,25.5C70.3,26.1 72.1,23.4 73.4,23.6C74.7,23.8 76.5,24.1 77.5,26.5C78.5,28.9 79.0,34.4 79.5,38.0C80.0,41.6 80.2,42.2 80.4,48.1C80.6,54.0 81.0,63.6 80.4,73.5C79.8,83.3 77.1,100.7 76.6,107.2C76.1,113.7 83.6,111.5 77.6,112.4C71.6,113.3 46.6,113.3 40.6,112.4C34.6,111.5 41.8,108.6 41.6,107.2Z" fill="none" stroke="#c8e020" stroke-width="4.4" filter="url(#bl1)" opacity="0.85"/>
<path d="M41.6,107.2C41.5,105.8 40.9,105.8 39.7,104.0C38.6,102.2 36.6,99.0 34.7,96.4C32.8,93.9 30.4,91.0 28.3,88.7C26.2,86.4 23.9,84.3 22.0,82.4C20.1,80.5 18.6,79.3 16.9,77.3C15.2,75.3 13.3,72.6 11.8,70.3C10.3,68.0 9.3,65.5 8.0,63.3C6.7,61.1 4.8,58.6 4.2,57.0C3.6,55.4 3.4,54.5 4.2,53.8C5.1,53.0 7.4,52.3 9.3,52.5C11.2,52.7 13.3,53.5 15.6,55.1C17.9,56.7 20.8,59.6 23.2,62.1C25.6,64.6 28.7,73.1 30.2,70.3C31.7,67.5 31.7,53.4 32.1,45.0C32.5,36.6 32.2,25.7 32.5,20.0C32.8,14.3 32.7,13.1 34.0,11.0C35.3,8.9 38.3,8.1 40.5,7.7C42.7,7.3 45.8,9.3 47.0,8.5C48.2,7.7 46.8,4.3 47.8,3.0C48.8,1.7 51.2,0.5 53.0,0.6C54.8,0.7 57.2,2.5 58.3,3.5C59.4,4.5 58.6,6.2 59.5,6.5C60.4,6.8 62.1,5.0 63.5,5.2C64.9,5.5 67.0,5.5 67.8,8.0C68.6,10.5 68.0,17.1 68.3,20.0C68.6,22.9 68.7,24.9 69.5,25.5C70.3,26.1 72.1,23.4 73.4,23.6C74.7,23.8 76.5,24.1 77.5,26.5C78.5,28.9 79.0,34.4 79.5,38.0C80.0,41.6 80.2,42.2 80.4,48.1C80.6,54.0 81.0,63.6 80.4,73.5C79.8,83.3 77.1,100.7 76.6,107.2C76.1,113.7 83.6,111.5 77.6,112.4C71.6,113.3 46.6,113.3 40.6,112.4C34.6,111.5 41.8,108.6 41.6,107.2Z" fill="none" stroke="#60c040" stroke-width="2.0" filter="url(#bl05)"/>
<path d="M41.6,107.2C41.5,105.8 40.9,105.8 39.7,104.0C38.6,102.2 36.6,99.0 34.7,96.4C32.8,93.9 30.4,91.0 28.3,88.7C26.2,86.4 23.9,84.3 22.0,82.4C20.1,80.5 18.6,79.3 16.9,77.3C15.2,75.3 13.3,72.6 11.8,70.3C10.3,68.0 9.3,65.5 8.0,63.3C6.7,61.1 4.8,58.6 4.2,57.0C3.6,55.4 3.4,54.5 4.2,53.8C5.1,53.0 7.4,52.3 9.3,52.5C11.2,52.7 13.3,53.5 15.6,55.1C17.9,56.7 20.8,59.6 23.2,62.1C25.6,64.6 28.7,73.1 30.2,70.3C31.7,67.5 31.7,53.4 32.1,45.0C32.5,36.6 32.2,25.7 32.5,20.0C32.8,14.3 32.7,13.1 34.0,11.0C35.3,8.9 38.3,8.1 40.5,7.7C42.7,7.3 45.8,9.3 47.0,8.5C48.2,7.7 46.8,4.3 47.8,3.0C48.8,1.7 51.2,0.5 53.0,0.6C54.8,0.7 57.2,2.5 58.3,3.5C59.4,4.5 58.6,6.2 59.5,6.5C60.4,6.8 62.1,5.0 63.5,5.2C64.9,5.5 67.0,5.5 67.8,8.0C68.6,10.5 68.0,17.1 68.3,20.0C68.6,22.9 68.7,24.9 69.5,25.5C70.3,26.1 72.1,23.4 73.4,23.6C74.7,23.8 76.5,24.1 77.5,26.5C78.5,28.9 79.0,34.4 79.5,38.0C80.0,41.6 80.2,42.2 80.4,48.1C80.6,54.0 81.0,63.6 80.4,73.5C79.8,83.3 77.1,100.7 76.6,107.2C76.1,113.7 83.6,111.5 77.6,112.4C71.6,113.3 46.6,113.3 40.6,112.4C34.6,111.5 41.8,108.6 41.6,107.2Z" fill="none" stroke="#20a8a8" stroke-width="0.8" filter="url(#bl05)"/>
<path d="M56.2,15.3L58.1,45.8" stroke="#1a6aa0" stroke-width="1.6" stroke-linecap="round" filter="url(#bl05)"/>
<path d="M68.3,37L69.6,49.6" stroke="#1a6aa0" stroke-width="1.3" stroke-linecap="round" filter="url(#bl05)"/>
</g>
<path d="M75.3,65.0C75.2,67.0 73.7,68.9 72.7,70.8C71.6,72.7 70.8,75.1 69.0,76.4C67.1,77.7 64.1,78.1 61.6,78.5C59.1,79.0 56.2,79.6 53.9,79.1C51.5,78.5 49.6,76.7 47.6,75.4C45.6,74.1 43.3,72.9 42.0,71.2C40.7,69.5 39.6,67.0 39.7,65.0C39.9,63.0 41.6,61.0 42.8,59.1C44.0,57.2 45.0,55.1 46.9,53.8C48.7,52.6 51.6,52.1 54.0,51.6C56.5,51.1 59.4,50.3 61.8,50.8C64.1,51.3 66.2,53.1 68.1,54.5C70.0,55.8 72.1,57.2 73.3,58.9C74.5,60.7 75.4,63.0 75.3,65.0Z" fill="#ff9830" filter="url(#bl05)"/>
<clipPath id="pc4"><path d="M74.3,65.0C74.2,66.8 72.8,68.7 71.8,70.4C70.8,72.2 70.0,74.4 68.3,75.6C66.6,76.8 63.7,77.1 61.4,77.5C59.0,78.0 56.3,78.5 54.1,78.1C51.9,77.6 50.1,75.9 48.2,74.7C46.3,73.4 44.1,72.4 42.9,70.8C41.7,69.1 40.7,66.9 40.8,65.0C40.9,63.1 42.5,61.3 43.6,59.5C44.8,57.8 45.7,55.8 47.5,54.6C49.3,53.5 51.9,53.0 54.3,52.6C56.6,52.1 59.3,51.4 61.5,51.8C63.8,52.3 65.7,54.0 67.5,55.2C69.3,56.5 71.3,57.7 72.4,59.4C73.5,61.0 74.4,63.2 74.3,65.0Z"/></clipPath>
<path d="M74.3,65.0C74.2,66.8 72.8,68.7 71.8,70.4C70.8,72.2 70.0,74.4 68.3,75.6C66.6,76.8 63.7,77.1 61.4,77.5C59.0,78.0 56.3,78.5 54.1,78.1C51.9,77.6 50.1,75.9 48.2,74.7C46.3,73.4 44.1,72.4 42.9,70.8C41.7,69.1 40.7,66.9 40.8,65.0C40.9,63.1 42.5,61.3 43.6,59.5C44.8,57.8 45.7,55.8 47.5,54.6C49.3,53.5 51.9,53.0 54.3,52.6C56.6,52.1 59.3,51.4 61.5,51.8C63.8,52.3 65.7,54.0 67.5,55.2C69.3,56.5 71.3,57.7 72.4,59.4C73.5,61.0 74.4,63.2 74.3,65.0Z" fill="#f8c830" filter="url(#bl05)"/>
<g clip-path="url(#pc4)"><g filter="url(#bl1)">
<ellipse cx="60" cy="63" rx="9" ry="7" fill="#f0e020" opacity="1"/>
</g></g>
<path d="M55.9,65.5h6.6M59.2,62.2v6.6" stroke="#111" stroke-width="0.9"/>
<text x="45.2" y="85.8" style="font-family:'Liberation Serif',serif;font-weight:bold;font-size:14.6px;letter-spacing:0.6px;stroke:#000;stroke-width:0.4px">25.3</text>
<text transform="translate(8.8,22.9) scale(1.06,1)" style="font-family:'Liberation Sans',sans-serif;font-size:19.5px;fill:#fff;stroke:#fff;stroke-width:0.35px">65s</text>
</g></g>
<g transform="translate(492.8,276.9)">
<clipPath id="ic5"><rect x="0" y="0" width="90.00" height="106.40"/></clipPath>
<clipPath id="h5"><path d="M44.6,107.1C43.6,105.1 40.3,102.6 37.8,100.3C35.3,98.0 32.5,96.0 29.8,93.5C27.2,91.0 24.3,88.2 21.9,85.5C19.4,82.8 17.4,80.2 15.1,77.6C12.8,75.0 10.4,72.5 8.3,69.7C6.2,67.0 3.7,63.1 2.6,61.1C1.5,59.1 0.9,58.4 1.5,57.7C2.1,57.0 4.1,56.9 6.0,56.9C7.9,56.9 10.7,56.9 12.8,57.7C14.9,58.5 16.4,59.7 18.5,61.7C20.6,63.7 23.5,67.8 25.3,69.6C27.1,71.4 28.6,74.2 29.3,72.5C30.0,70.8 29.4,64.0 29.3,59.4C29.2,54.8 29.0,51.2 28.8,45.0C28.6,38.8 28.1,26.8 28.3,22.0C28.5,17.2 28.9,17.8 30.0,16.5C31.1,15.2 33.2,14.7 35.0,14.5C36.8,14.3 39.2,17.1 40.5,15.5C41.8,13.9 41.3,7.4 42.5,5.0C43.7,2.6 45.9,0.9 47.6,0.8C49.3,0.7 51.6,3.4 52.7,4.5C53.8,5.6 53.0,7.3 54.0,7.5C55.0,7.7 57.3,5.3 59.0,5.5C60.7,5.7 63.3,6.1 64.3,8.5C65.3,10.9 64.7,17.0 65.0,20.0C65.3,23.0 65.0,25.9 66.0,26.5C67.0,27.1 69.3,23.5 71.0,23.6C72.7,23.7 74.8,24.6 76.0,27.0C77.2,29.4 77.7,34.5 78.5,38.0C79.3,41.5 80.9,41.9 81.1,48.1C81.3,54.3 80.2,65.2 79.8,75.0C79.3,84.8 78.5,100.8 78.4,107.0C78.3,113.2 85.2,111.5 79.4,112.4C73.6,113.3 49.4,113.3 43.6,112.4C37.8,111.5 45.6,109.1 44.6,107.1Z"/></clipPath>
<linearGradient id="g5" gradientUnits="userSpaceOnUse" x1="0" y1="0" x2="0" y2="107"><stop offset="0.000" stop-color="#88cc40"/><stop offset="0.131" stop-color="#b0d428"/><stop offset="0.262" stop-color="#e0d410"/><stop offset="0.336" stop-color="#f8c000"/><stop offset="0.402" stop-color="#ff9810"/><stop offset="0.467" stop-color="#ff8020"/><stop offset="1.000" stop-color="#ff8020"/></linearGradient>
<g clip-path="url(#ic5)">
<rect x="0" y="0" width="90.00" height="106.40" fill="#02034f"/>
<path d="M44.6,107.1C43.6,105.1 40.3,102.6 37.8,100.3C35.3,98.0 32.5,96.0 29.8,93.5C27.2,91.0 24.3,88.2 21.9,85.5C19.4,82.8 17.4,80.2 15.1,77.6C12.8,75.0 10.4,72.5 8.3,69.7C6.2,67.0 3.7,63.1 2.6,61.1C1.5,59.1 0.9,58.4 1.5,57.7C2.1,57.0 4.1,56.9 6.0,56.9C7.9,56.9 10.7,56.9 12.8,57.7C14.9,58.5 16.4,59.7 18.5,61.7C20.6,63.7 23.5,67.8 25.3,69.6C27.1,71.4 28.6,74.2 29.3,72.5C30.0,70.8 29.4,64.0 29.3,59.4C29.2,54.8 29.0,51.2 28.8,45.0C28.6,38.8 28.1,26.8 28.3,22.0C28.5,17.2 28.9,17.8 30.0,16.5C31.1,15.2 33.2,14.7 35.0,14.5C36.8,14.3 39.2,17.1 40.5,15.5C41.8,13.9 41.3,7.4 42.5,5.0C43.7,2.6 45.9,0.9 47.6,0.8C49.3,0.7 51.6,3.4 52.7,4.5C53.8,5.6 53.0,7.3 54.0,7.5C55.0,7.7 57.3,5.3 59.0,5.5C60.7,5.7 63.3,6.1 64.3,8.5C65.3,10.9 64.7,17.0 65.0,20.0C65.3,23.0 65.0,25.9 66.0,26.5C67.0,27.1 69.3,23.5 71.0,23.6C72.7,23.7 74.8,24.6 76.0,27.0C77.2,29.4 77.7,34.5 78.5,38.0C79.3,41.5 80.9,41.9 81.1,48.1C81.3,54.3 80.2,65.2 79.8,75.0C79.3,84.8 78.5,100.8 78.4,107.0C78.3,113.2 85.2,111.5 79.4,112.4C73.6,113.3 49.4,113.3 43.6,112.4C37.8,111.5 45.6,109.1 44.6,107.1Z" fill="#0c3cb4" stroke="#0c3cb4" stroke-width="4.0" filter="url(#bl1)"/>
<path d="M44.6,107.1C43.6,105.1 40.3,102.6 37.8,100.3C35.3,98.0 32.5,96.0 29.8,93.5C27.2,91.0 24.3,88.2 21.9,85.5C19.4,82.8 17.4,80.2 15.1,77.6C12.8,75.0 10.4,72.5 8.3,69.7C6.2,67.0 3.7,63.1 2.6,61.1C1.5,59.1 0.9,58.4 1.5,57.7C2.1,57.0 4.1,56.9 6.0,56.9C7.9,56.9 10.7,56.9 12.8,57.7C14.9,58.5 16.4,59.7 18.5,61.7C20.6,63.7 23.5,67.8 25.3,69.6C27.1,71.4 28.6,74.2 29.3,72.5C30.0,70.8 29.4,64.0 29.3,59.4C29.2,54.8 29.0,51.2 28.8,45.0C28.6,38.8 28.1,26.8 28.3,22.0C28.5,17.2 28.9,17.8 30.0,16.5C31.1,15.2 33.2,14.7 35.0,14.5C36.8,14.3 39.2,17.1 40.5,15.5C41.8,13.9 41.3,7.4 42.5,5.0C43.7,2.6 45.9,0.9 47.6,0.8C49.3,0.7 51.6,3.4 52.7,4.5C53.8,5.6 53.0,7.3 54.0,7.5C55.0,7.7 57.3,5.3 59.0,5.5C60.7,5.7 63.3,6.1 64.3,8.5C65.3,10.9 64.7,17.0 65.0,20.0C65.3,23.0 65.0,25.9 66.0,26.5C67.0,27.1 69.3,23.5 71.0,23.6C72.7,23.7 74.8,24.6 76.0,27.0C77.2,29.4 77.7,34.5 78.5,38.0C79.3,41.5 80.9,41.9 81.1,48.1C81.3,54.3 80.2,65.2 79.8,75.0C79.3,84.8 78.5,100.8 78.4,107.0C78.3,113.2 85.2,111.5 79.4,112.4C73.6,113.3 49.4,113.3 43.6,112.4C37.8,111.5 45.6,109.1 44.6,107.1Z" fill="#1878d0" stroke="#1878d0" stroke-width="1.4" filter="url(#bl05)"/>
<g clip-path="url(#h5)">
<path d="M44.6,107.1C43.6,105.1 40.3,102.6 37.8,100.3C35.3,98.0 32.5,96.0 29.8,93.5C27.2,91.0 24.3,88.2 21.9,85.5C19.4,82.8 17.4,80.2 15.1,77.6C12.8,75.0 10.4,72.5 8.3,69.7C6.2,67.0 3.7,63.1 2.6,61.1C1.5,59.1 0.9,58.4 1.5,57.7C2.1,57.0 4.1,56.9 6.0,56.9C7.9,56.9 10.7,56.9 12.8,57.7C14.9,58.5 16.4,59.7 18.5,61.7C20.6,63.7 23.5,67.8 25.3,69.6C27.1,71.4 28.6,74.2 29.3,72.5C30.0,70.8 29.4,64.0 29.3,59.4C29.2,54.8 29.0,51.2 28.8,45.0C28.6,38.8 28.1,26.8 28.3,22.0C28.5,17.2 28.9,17.8 30.0,16.5C31.1,15.2 33.2,14.7 35.0,14.5C36.8,14.3 39.2,17.1 40.5,15.5C41.8,13.9 41.3,7.4 42.5,5.0C43.7,2.6 45.9,0.9 47.6,0.8C49.3,0.7 51.6,3.4 52.7,4.5C53.8,5.6 53.0,7.3 54.0,7.5C55.0,7.7 57.3,5.3 59.0,5.5C60.7,5.7 63.3,6.1 64.3,8.5C65.3,10.9 64.7,17.0 65.0,20.0C65.3,23.0 65.0,25.9 66.0,26.5C67.0,27.1 69.3,23.5 71.0,23.6C72.7,23.7 74.8,24.6 76.0,27.0C77.2,29.4 77.7,34.5 78.5,38.0C79.3,41.5 80.9,41.9 81.1,48.1C81.3,54.3 80.2,65.2 79.8,75.0C79.3,84.8 78.5,100.8 78.4,107.0C78.3,113.2 85.2,111.5 79.4,112.4C73.6,113.3 49.4,113.3 43.6,112.4C37.8,111.5 45.6,109.1 44.6,107.1Z" fill="url(#g5)"/>
<radialGradient id="pr5_0" gradientUnits="userSpaceOnUse" cx="0" cy="0" r="1" gradientTransform="translate(52,90) scale(36,44)"><stop offset="0" stop-color="#ff4070" stop-opacity="1"/><stop offset="0.6" stop-color="#ff2858" stop-opacity="0.95"/><stop offset="0.85" stop-color="#ff6030" stop-opacity="0.5"/><stop offset="1" stop-color="#ff6030" stop-opacity="0"/></radialGradient>
<rect x="-5" y="-5" width="100.0" height="116.4" fill="url(#pr5_0)"/>
<g filter="url(#bl2)">
<path d="M21.9,85.5C20.2,84.8 17.4,80.2 15.1,77.6C12.8,75.0 10.4,72.5 8.3,69.7C6.2,67.0 3.7,63.1 2.6,61.1C1.5,59.1 0.9,58.4 1.5,57.7C2.1,57.0 4.1,56.9 6.0,56.9C7.9,56.9 10.7,56.9 12.8,57.7C14.9,58.5 16.4,59.7 18.5,61.7C20.6,63.7 23.9,67.2 25.3,69.6C26.7,72.0 27.1,73.9 27.0,76.0C26.9,78.1 25.9,80.4 25.0,82.0C24.1,83.6 23.5,86.2 21.9,85.5Z" fill="#f8c400" opacity="0.95"/>
<ellipse cx="71" cy="32.6" rx="4.2" ry="10" fill="#8cc838" opacity="0.85"/>
<ellipse cx="36" cy="70" rx="4" ry="8" fill="#ff7090" opacity="0.8"/>
<ellipse cx="76" cy="60" rx="4" ry="16" fill="#ffb020" opacity="0.9"/>
<ellipse cx="58" cy="100" rx="16" ry="9" fill="#ff8090" opacity="0.7"/>
<ellipse cx="47" cy="50" rx="11" ry="5" fill="#ff3040" opacity="0.9"/>
</g>
<path d="M44.6,107.1C43.6,105.1 40.3,102.6 37.8,100.3C35.3,98.0 32.5,96.0 29.8,93.5C27.2,91.0 24.3,88.2 21.9,85.5C19.4,82.8 17.4,80.2 15.1,77.6C12.8,75.0 10.4,72.5 8.3,69.7C6.2,67.0 3.7,63.1 2.6,61.1C1.5,59.1 0.9,58.4 1.5,57.7C2.1,57.0 4.1,56.9 6.0,56.9C7.9,56.9 10.7,56.9 12.8,57.7C14.9,58.5 16.4,59.7 18.5,61.7C20.6,63.7 23.5,67.8 25.3,69.6C27.1,71.4 28.6,74.2 29.3,72.5C30.0,70.8 29.4,64.0 29.3,59.4C29.2,54.8 29.0,51.2 28.8,45.0C28.6,38.8 28.1,26.8 28.3,22.0C28.5,17.2 28.9,17.8 30.0,16.5C31.1,15.2 33.2,14.7 35.0,14.5C36.8,14.3 39.2,17.1 40.5,15.5C41.8,13.9 41.3,7.4 42.5,5.0C43.7,2.6 45.9,0.9 47.6,0.8C49.3,0.7 51.6,3.4 52.7,4.5C53.8,5.6 53.0,7.3 54.0,7.5C55.0,7.7 57.3,5.3 59.0,5.5C60.7,5.7 63.3,6.1 64.3,8.5C65.3,10.9 64.7,17.0 65.0,20.0C65.3,23.0 65.0,25.9 66.0,26.5C67.0,27.1 69.3,23.5 71.0,23.6C72.7,23.7 74.8,24.6 76.0,27.0C77.2,29.4 77.7,34.5 78.5,38.0C79.3,41.5 80.9,41.9 81.1,48.1C81.3,54.3 80.2,65.2 79.8,75.0C79.3,84.8 78.5,100.8 78.4,107.0C78.3,113.2 85.2,111.5 79.4,112.4C73.6,113.3 49.4,113.3 43.6,112.4C37.8,111.5 45.6,109.1 44.6,107.1Z" fill="none" stroke="#c8e020" stroke-width="4.4" filter="url(#bl1)" opacity="0.85"/>
<path d="M44.6,107.1C43.6,105.1 40.3,102.6 37.8,100.3C35.3,98.0 32.5,96.0 29.8,93.5C27.2,91.0 24.3,88.2 21.9,85.5C19.4,82.8 17.4,80.2 15.1,77.6C12.8,75.0 10.4,72.5 8.3,69.7C6.2,67.0 3.7,63.1 2.6,61.1C1.5,59.1 0.9,58.4 1.5,57.7C2.1,57.0 4.1,56.9 6.0,56.9C7.9,56.9 10.7,56.9 12.8,57.7C14.9,58.5 16.4,59.7 18.5,61.7C20.6,63.7 23.5,67.8 25.3,69.6C27.1,71.4 28.6,74.2 29.3,72.5C30.0,70.8 29.4,64.0 29.3,59.4C29.2,54.8 29.0,51.2 28.8,45.0C28.6,38.8 28.1,26.8 28.3,22.0C28.5,17.2 28.9,17.8 30.0,16.5C31.1,15.2 33.2,14.7 35.0,14.5C36.8,14.3 39.2,17.1 40.5,15.5C41.8,13.9 41.3,7.4 42.5,5.0C43.7,2.6 45.9,0.9 47.6,0.8C49.3,0.7 51.6,3.4 52.7,4.5C53.8,5.6 53.0,7.3 54.0,7.5C55.0,7.7 57.3,5.3 59.0,5.5C60.7,5.7 63.3,6.1 64.3,8.5C65.3,10.9 64.7,17.0 65.0,20.0C65.3,23.0 65.0,25.9 66.0,26.5C67.0,27.1 69.3,23.5 71.0,23.6C72.7,23.7 74.8,24.6 76.0,27.0C77.2,29.4 77.7,34.5 78.5,38.0C79.3,41.5 80.9,41.9 81.1,48.1C81.3,54.3 80.2,65.2 79.8,75.0C79.3,84.8 78.5,100.8 78.4,107.0C78.3,113.2 85.2,111.5 79.4,112.4C73.6,113.3 49.4,113.3 43.6,112.4C37.8,111.5 45.6,109.1 44.6,107.1Z" fill="none" stroke="#60c040" stroke-width="2.0" filter="url(#bl05)"/>
<path d="M44.6,107.1C43.6,105.1 40.3,102.6 37.8,100.3C35.3,98.0 32.5,96.0 29.8,93.5C27.2,91.0 24.3,88.2 21.9,85.5C19.4,82.8 17.4,80.2 15.1,77.6C12.8,75.0 10.4,72.5 8.3,69.7C6.2,67.0 3.7,63.1 2.6,61.1C1.5,59.1 0.9,58.4 1.5,57.7C2.1,57.0 4.1,56.9 6.0,56.9C7.9,56.9 10.7,56.9 12.8,57.7C14.9,58.5 16.4,59.7 18.5,61.7C20.6,63.7 23.5,67.8 25.3,69.6C27.1,71.4 28.6,74.2 29.3,72.5C30.0,70.8 29.4,64.0 29.3,59.4C29.2,54.8 29.0,51.2 28.8,45.0C28.6,38.8 28.1,26.8 28.3,22.0C28.5,17.2 28.9,17.8 30.0,16.5C31.1,15.2 33.2,14.7 35.0,14.5C36.8,14.3 39.2,17.1 40.5,15.5C41.8,13.9 41.3,7.4 42.5,5.0C43.7,2.6 45.9,0.9 47.6,0.8C49.3,0.7 51.6,3.4 52.7,4.5C53.8,5.6 53.0,7.3 54.0,7.5C55.0,7.7 57.3,5.3 59.0,5.5C60.7,5.7 63.3,6.1 64.3,8.5C65.3,10.9 64.7,17.0 65.0,20.0C65.3,23.0 65.0,25.9 66.0,26.5C67.0,27.1 69.3,23.5 71.0,23.6C72.7,23.7 74.8,24.6 76.0,27.0C77.2,29.4 77.7,34.5 78.5,38.0C79.3,41.5 80.9,41.9 81.1,48.1C81.3,54.3 80.2,65.2 79.8,75.0C79.3,84.8 78.5,100.8 78.4,107.0C78.3,113.2 85.2,111.5 79.4,112.4C73.6,113.3 49.4,113.3 43.6,112.4C37.8,111.5 45.6,109.1 44.6,107.1Z" fill="none" stroke="#20a8a8" stroke-width="0.8" filter="url(#bl05)"/>
<path d="M52.9,20.2L55.6,44.4" stroke="#1a6aa0" stroke-width="1.4" stroke-linecap="round" filter="url(#bl05)"/>
<path d="M40.2,30L42.2,45" stroke="#ff8000" stroke-width="1" stroke-linecap="round" filter="url(#bl05)"/>
</g>
<path d="M74.9,66.3C74.9,68.3 75.1,70.7 74.1,72.5C73.1,74.3 70.8,76.0 68.7,77.1C66.6,78.2 63.9,78.5 61.4,79.1C58.8,79.6 56.0,80.6 53.5,80.3C51.0,80.0 48.3,78.6 46.4,77.2C44.5,75.8 43.2,73.9 42.0,72.1C40.9,70.3 39.5,68.3 39.3,66.3C39.1,64.3 39.5,61.8 40.8,60.0C42.0,58.3 44.6,57.0 46.7,55.7C48.9,54.5 51.1,53.0 53.6,52.6C56.0,52.2 58.8,52.9 61.4,53.4C64.0,53.8 67.0,54.0 69.0,55.2C71.1,56.3 72.7,58.5 73.6,60.3C74.6,62.2 74.8,64.3 74.9,66.3Z" fill="#ff7030" filter="url(#bl05)"/>
<clipPath id="pc5"><path d="M73.9,66.3C74.0,68.2 74.2,70.4 73.2,72.0C72.2,73.7 70.1,75.3 68.1,76.3C66.1,77.3 63.5,77.7 61.2,78.2C58.8,78.7 56.1,79.6 53.7,79.3C51.4,79.0 48.8,77.7 47.0,76.4C45.2,75.1 44.0,73.4 42.9,71.7C41.8,70.0 40.5,68.2 40.3,66.3C40.1,64.4 40.5,62.1 41.7,60.5C42.9,58.8 45.3,57.6 47.3,56.5C49.3,55.3 51.5,53.9 53.8,53.6C56.1,53.2 58.8,53.9 61.2,54.3C63.6,54.7 66.5,54.9 68.4,56.0C70.3,57.1 71.8,59.0 72.7,60.7C73.7,62.5 73.8,64.4 73.9,66.3Z"/></clipPath>
<path d="M73.9,66.3C74.0,68.2 74.2,70.4 73.2,72.0C72.2,73.7 70.1,75.3 68.1,76.3C66.1,77.3 63.5,77.7 61.2,78.2C58.8,78.7 56.1,79.6 53.7,79.3C51.4,79.0 48.8,77.7 47.0,76.4C45.2,75.1 44.0,73.4 42.9,71.7C41.8,70.0 40.5,68.2 40.3,66.3C40.1,64.4 40.5,62.1 41.7,60.5C42.9,58.8 45.3,57.6 47.3,56.5C49.3,55.3 51.5,53.9 53.8,53.6C56.1,53.2 58.8,53.9 61.2,54.3C63.6,54.7 66.5,54.9 68.4,56.0C70.3,57.1 71.8,59.0 72.7,60.7C73.7,62.5 73.8,64.4 73.9,66.3Z" fill="#f8a830" filter="url(#bl05)"/>
<g clip-path="url(#pc5)"><g filter="url(#bl1)">
<ellipse cx="66" cy="64" rx="8" ry="9" fill="#f8c030" opacity="1"/>
<ellipse cx="54" cy="62" rx="7" ry="6" fill="#ffb838" opacity="0.8"/>
</g></g>
<path d="M52.3,66.2h6.6M55.6,62.9v6.6" stroke="#111" stroke-width="0.9"/>
<text x="41.6" y="86.7" style="font-family:'Liberation Serif',serif;font-weight:bold;font-size:14.6px;letter-spacing:0.6px;stroke:#000;stroke-width:0.4px">26.2</text>
<text transform="translate(11.6,22.9) scale(1.06,1)" style="font-family:'Liberation Sans',sans-serif;font-size:19.5px;fill:#fff;stroke:#fff;stroke-width:0.35px">120s</text>
</g></g>
<g transform="translate(148.1,408.3)">
<clipPath id="ic6"><rect x="0" y="0" width="80.70" height="107.30"/></clipPath>
<clipPath id="h6"><path d="M42.6,107.7C42.2,105.4 40.8,102.1 39.1,99.6C37.4,97.1 34.5,95.2 32.2,92.7C29.9,90.2 27.6,87.5 25.3,84.6C23.0,81.7 20.7,78.3 18.4,75.4C16.1,72.5 13.5,70.0 11.4,67.3C9.3,64.6 7.0,61.2 5.7,59.2C4.4,57.2 3.0,56.2 3.4,55.2C3.8,54.2 6.1,53.2 8.0,53.5C9.9,53.8 12.8,55.4 14.9,56.9C17.0,58.4 18.8,60.8 20.7,62.7C22.6,64.6 25.0,67.2 26.4,68.5C27.8,69.8 28.6,71.8 29.3,70.2C30.0,68.7 30.2,63.0 30.5,59.2C30.8,55.5 30.8,54.2 31.0,47.7C31.2,41.2 31.2,25.4 31.5,20.0C31.8,14.6 31.6,16.2 32.5,15.0C33.4,13.8 35.6,12.8 37.1,12.7C38.6,12.6 40.8,15.4 41.8,14.5C42.8,13.6 41.9,8.8 42.8,7.0C43.7,5.2 45.7,3.8 47.2,3.8C48.7,3.8 50.8,5.7 51.6,7.0C52.5,8.3 51.6,11.0 52.3,11.5C53.0,12.0 54.8,9.6 56.0,9.8C57.2,10.0 59.1,9.1 59.8,12.5C60.5,15.9 60.2,24.1 60.3,30.0C60.4,35.9 60.1,44.0 60.5,48.0C60.9,52.0 61.7,54.0 62.5,54.0C63.3,54.0 64.9,52.0 65.5,48.0C66.1,44.0 65.7,33.5 66.0,30.0C66.3,26.5 66.5,27.7 67.5,27.0C68.5,26.3 70.7,25.5 72.3,25.7C73.9,25.9 76.0,25.6 77.0,28.0C78.0,30.4 77.8,36.7 78.0,40.0C78.2,43.3 78.1,42.5 77.9,47.7C77.7,52.9 77.4,61.4 76.8,71.4C76.2,81.4 74.6,100.6 74.4,107.6C74.2,114.6 80.9,112.3 75.4,113.3C69.9,114.2 47.1,114.2 41.6,113.3C36.1,112.4 43.0,110.0 42.6,107.7Z"/></clipPath>
<linearGradient id="g6" gradientUnits="userSpaceOnUse" x1="0" y1="0" x2="0" y2="107"><stop offset="0.000" stop-color="#8ccc40"/><stop offset="0.112" stop-color="#b4d428"/><stop offset="0.243" stop-color="#dcd814"/><stop offset="0.336" stop-color="#f4c000"/><stop offset="0.430" stop-color="#ff9020"/><stop offset="1.000" stop-color="#ff9020"/></linearGradient>
<g clip-path="url(#ic6)">
<rect x="0" y="0" width="80.70" height="107.30" fill="#02034f"/>
<path d="M42.6,107.7C42.2,105.4 40.8,102.1 39.1,99.6C37.4,97.1 34.5,95.2 32.2,92.7C29.9,90.2 27.6,87.5 25.3,84.6C23.0,81.7 20.7,78.3 18.4,75.4C16.1,72.5 13.5,70.0 11.4,67.3C9.3,64.6 7.0,61.2 5.7,59.2C4.4,57.2 3.0,56.2 3.4,55.2C3.8,54.2 6.1,53.2 8.0,53.5C9.9,53.8 12.8,55.4 14.9,56.9C17.0,58.4 18.8,60.8 20.7,62.7C22.6,64.6 25.0,67.2 26.4,68.5C27.8,69.8 28.6,71.8 29.3,70.2C30.0,68.7 30.2,63.0 30.5,59.2C30.8,55.5 30.8,54.2 31.0,47.7C31.2,41.2 31.2,25.4 31.5,20.0C31.8,14.6 31.6,16.2 32.5,15.0C33.4,13.8 35.6,12.8 37.1,12.7C38.6,12.6 40.8,15.4 41.8,14.5C42.8,13.6 41.9,8.8 42.8,7.0C43.7,5.2 45.7,3.8 47.2,3.8C48.7,3.8 50.8,5.7 51.6,7.0C52.5,8.3 51.6,11.0 52.3,11.5C53.0,12.0 54.8,9.6 56.0,9.8C57.2,10.0 59.1,9.1 59.8,12.5C60.5,15.9 60.2,24.1 60.3,30.0C60.4,35.9 60.1,44.0 60.5,48.0C60.9,52.0 61.7,54.0 62.5,54.0C63.3,54.0 64.9,52.0 65.5,48.0C66.1,44.0 65.7,33.5 66.0,30.0C66.3,26.5 66.5,27.7 67.5,27.0C68.5,26.3 70.7,25.5 72.3,25.7C73.9,25.9 76.0,25.6 77.0,28.0C78.0,30.4 77.8,36.7 78.0,40.0C78.2,43.3 78.1,42.5 77.9,47.7C77.7,52.9 77.4,61.4 76.8,71.4C76.2,81.4 74.6,100.6 74.4,107.6C74.2,114.6 80.9,112.3 75.4,113.3C69.9,114.2 47.1,114.2 41.6,113.3C36.1,112.4 43.0,110.0 42.6,107.7Z" fill="#0c3cb4" stroke="#0c3cb4" stroke-width="4.0" filter="url(#bl1)"/>
<path d="M42.6,107.7C42.2,105.4 40.8,102.1 39.1,99.6C37.4,97.1 34.5,95.2 32.2,92.7C29.9,90.2 27.6,87.5 25.3,84.6C23.0,81.7 20.7,78.3 18.4,75.4C16.1,72.5 13.5,70.0 11.4,67.3C9.3,64.6 7.0,61.2 5.7,59.2C4.4,57.2 3.0,56.2 3.4,55.2C3.8,54.2 6.1,53.2 8.0,53.5C9.9,53.8 12.8,55.4 14.9,56.9C17.0,58.4 18.8,60.8 20.7,62.7C22.6,64.6 25.0,67.2 26.4,68.5C27.8,69.8 28.6,71.8 29.3,70.2C30.0,68.7 30.2,63.0 30.5,59.2C30.8,55.5 30.8,54.2 31.0,47.7C31.2,41.2 31.2,25.4 31.5,20.0C31.8,14.6 31.6,16.2 32.5,15.0C33.4,13.8 35.6,12.8 37.1,12.7C38.6,12.6 40.8,15.4 41.8,14.5C42.8,13.6 41.9,8.8 42.8,7.0C43.7,5.2 45.7,3.8 47.2,3.8C48.7,3.8 50.8,5.7 51.6,7.0C52.5,8.3 51.6,11.0 52.3,11.5C53.0,12.0 54.8,9.6 56.0,9.8C57.2,10.0 59.1,9.1 59.8,12.5C60.5,15.9 60.2,24.1 60.3,30.0C60.4,35.9 60.1,44.0 60.5,48.0C60.9,52.0 61.7,54.0 62.5,54.0C63.3,54.0 64.9,52.0 65.5,48.0C66.1,44.0 65.7,33.5 66.0,30.0C66.3,26.5 66.5,27.7 67.5,27.0C68.5,26.3 70.7,25.5 72.3,25.7C73.9,25.9 76.0,25.6 77.0,28.0C78.0,30.4 77.8,36.7 78.0,40.0C78.2,43.3 78.1,42.5 77.9,47.7C77.7,52.9 77.4,61.4 76.8,71.4C76.2,81.4 74.6,100.6 74.4,107.6C74.2,114.6 80.9,112.3 75.4,113.3C69.9,114.2 47.1,114.2 41.6,113.3C36.1,112.4 43.0,110.0 42.6,107.7Z" fill="#1878d0" stroke="#1878d0" stroke-width="1.4" filter="url(#bl05)"/>
<g clip-path="url(#h6)">
<path d="M42.6,107.7C42.2,105.4 40.8,102.1 39.1,99.6C37.4,97.1 34.5,95.2 32.2,92.7C29.9,90.2 27.6,87.5 25.3,84.6C23.0,81.7 20.7,78.3 18.4,75.4C16.1,72.5 13.5,70.0 11.4,67.3C9.3,64.6 7.0,61.2 5.7,59.2C4.4,57.2 3.0,56.2 3.4,55.2C3.8,54.2 6.1,53.2 8.0,53.5C9.9,53.8 12.8,55.4 14.9,56.9C17.0,58.4 18.8,60.8 20.7,62.7C22.6,64.6 25.0,67.2 26.4,68.5C27.8,69.8 28.6,71.8 29.3,70.2C30.0,68.7 30.2,63.0 30.5,59.2C30.8,55.5 30.8,54.2 31.0,47.7C31.2,41.2 31.2,25.4 31.5,20.0C31.8,14.6 31.6,16.2 32.5,15.0C33.4,13.8 35.6,12.8 37.1,12.7C38.6,12.6 40.8,15.4 41.8,14.5C42.8,13.6 41.9,8.8 42.8,7.0C43.7,5.2 45.7,3.8 47.2,3.8C48.7,3.8 50.8,5.7 51.6,7.0C52.5,8.3 51.6,11.0 52.3,11.5C53.0,12.0 54.8,9.6 56.0,9.8C57.2,10.0 59.1,9.1 59.8,12.5C60.5,15.9 60.2,24.1 60.3,30.0C60.4,35.9 60.1,44.0 60.5,48.0C60.9,52.0 61.7,54.0 62.5,54.0C63.3,54.0 64.9,52.0 65.5,48.0C66.1,44.0 65.7,33.5 66.0,30.0C66.3,26.5 66.5,27.7 67.5,27.0C68.5,26.3 70.7,25.5 72.3,25.7C73.9,25.9 76.0,25.6 77.0,28.0C78.0,30.4 77.8,36.7 78.0,40.0C78.2,43.3 78.1,42.5 77.9,47.7C77.7,52.9 77.4,61.4 76.8,71.4C76.2,81.4 74.6,100.6 74.4,107.6C74.2,114.6 80.9,112.3 75.4,113.3C69.9,114.2 47.1,114.2 41.6,113.3C36.1,112.4 43.0,110.0 42.6,107.7Z" fill="url(#g6)"/>
<radialGradient id="pr6_0" gradientUnits="userSpaceOnUse" cx="0" cy="0" r="1" gradientTransform="translate(52,82) scale(30,40)"><stop offset="0" stop-color="#ff2858" stop-opacity="1"/><stop offset="0.6" stop-color="#ff2858" stop-opacity="1"/><stop offset="0.85" stop-color="#ff5040" stop-opacity="0.6"/><stop offset="1" stop-color="#ff5040" stop-opacity="0"/></radialGradient>
<rect x="-5" y="-5" width="90.7" height="117.3" fill="url(#pr6_0)"/>
<g filter="url(#bl2)">
<path d="M25.3,84.6C23.7,84.5 20.7,78.3 18.4,75.4C16.1,72.5 13.5,70.0 11.4,67.3C9.3,64.6 7.0,61.2 5.7,59.2C4.4,57.2 3.0,56.2 3.4,55.2C3.8,54.2 6.1,53.2 8.0,53.5C9.9,53.8 12.8,55.4 14.9,56.9C17.0,58.4 18.8,60.8 20.7,62.7C22.6,64.6 25.2,66.3 26.4,68.5C27.6,70.7 28.2,73.3 28.0,76.0C27.8,78.7 26.9,84.7 25.3,84.6Z" fill="#f8b030" opacity="0.95"/>
<ellipse cx="72.3" cy="34.7" rx="4.2" ry="10" fill="#8cc838" opacity="0.85"/>
<ellipse cx="61" cy="103" rx="13" ry="8" fill="#ffd8d0" opacity="1"/>
<ellipse cx="50" cy="94" rx="10" ry="9" fill="#ff7090" opacity="0.7"/>
<ellipse cx="32" cy="71" rx="3" ry="3" fill="#ffc0c8" opacity="0.8"/>
<ellipse cx="75" cy="60" rx="3" ry="12" fill="#ffa020" opacity="0.7"/>
<ellipse cx="37.1" cy="28" rx="4.5" ry="12" fill="#f8b414" opacity="0.8"/>
<ellipse cx="48" cy="50" rx="9" ry="6" fill="#ff2450" opacity="0.9"/>
</g>
<path d="M42.6,107.7C42.2,105.4 40.8,102.1 39.1,99.6C37.4,97.1 34.5,95.2 32.2,92.7C29.9,90.2 27.6,87.5 25.3,84.6C23.0,81.7 20.7,78.3 18.4,75.4C16.1,72.5 13.5,70.0 11.4,67.3C9.3,64.6 7.0,61.2 5.7,59.2C4.4,57.2 3.0,56.2 3.4,55.2C3.8,54.2 6.1,53.2 8.0,53.5C9.9,53.8 12.8,55.4 14.9,56.9C17.0,58.4 18.8,60.8 20.7,62.7C22.6,64.6 25.0,67.2 26.4,68.5C27.8,69.8 28.6,71.8 29.3,70.2C30.0,68.7 30.2,63.0 30.5,59.2C30.8,55.5 30.8,54.2 31.0,47.7C31.2,41.2 31.2,25.4 31.5,20.0C31.8,14.6 31.6,16.2 32.5,15.0C33.4,13.8 35.6,12.8 37.1,12.7C38.6,12.6 40.8,15.4 41.8,14.5C42.8,13.6 41.9,8.8 42.8,7.0C43.7,5.2 45.7,3.8 47.2,3.8C48.7,3.8 50.8,5.7 51.6,7.0C52.5,8.3 51.6,11.0 52.3,11.5C53.0,12.0 54.8,9.6 56.0,9.8C57.2,10.0 59.1,9.1 59.8,12.5C60.5,15.9 60.2,24.1 60.3,30.0C60.4,35.9 60.1,44.0 60.5,48.0C60.9,52.0 61.7,54.0 62.5,54.0C63.3,54.0 64.9,52.0 65.5,48.0C66.1,44.0 65.7,33.5 66.0,30.0C66.3,26.5 66.5,27.7 67.5,27.0C68.5,26.3 70.7,25.5 72.3,25.7C73.9,25.9 76.0,25.6 77.0,28.0C78.0,30.4 77.8,36.7 78.0,40.0C78.2,43.3 78.1,42.5 77.9,47.7C77.7,52.9 77.4,61.4 76.8,71.4C76.2,81.4 74.6,100.6 74.4,107.6C74.2,114.6 80.9,112.3 75.4,113.3C69.9,114.2 47.1,114.2 41.6,113.3C36.1,112.4 43.0,110.0 42.6,107.7Z" fill="none" stroke="#f0d000" stroke-width="4.4" filter="url(#bl1)" opacity="0.55"/>
<path d="M42.6,107.7C42.2,105.4 40.8,102.1 39.1,99.6C37.4,97.1 34.5,95.2 32.2,92.7C29.9,90.2 27.6,87.5 25.3,84.6C23.0,81.7 20.7,78.3 18.4,75.4C16.1,72.5 13.5,70.0 11.4,67.3C9.3,64.6 7.0,61.2 5.7,59.2C4.4,57.2 3.0,56.2 3.4,55.2C3.8,54.2 6.1,53.2 8.0,53.5C9.9,53.8 12.8,55.4 14.9,56.9C17.0,58.4 18.8,60.8 20.7,62.7C22.6,64.6 25.0,67.2 26.4,68.5C27.8,69.8 28.6,71.8 29.3,70.2C30.0,68.7 30.2,63.0 30.5,59.2C30.8,55.5 30.8,54.2 31.0,47.7C31.2,41.2 31.2,25.4 31.5,20.0C31.8,14.6 31.6,16.2 32.5,15.0C33.4,13.8 35.6,12.8 37.1,12.7C38.6,12.6 40.8,15.4 41.8,14.5C42.8,13.6 41.9,8.8 42.8,7.0C43.7,5.2 45.7,3.8 47.2,3.8C48.7,3.8 50.8,5.7 51.6,7.0C52.5,8.3 51.6,11.0 52.3,11.5C53.0,12.0 54.8,9.6 56.0,9.8C57.2,10.0 59.1,9.1 59.8,12.5C60.5,15.9 60.2,24.1 60.3,30.0C60.4,35.9 60.1,44.0 60.5,48.0C60.9,52.0 61.7,54.0 62.5,54.0C63.3,54.0 64.9,52.0 65.5,48.0C66.1,44.0 65.7,33.5 66.0,30.0C66.3,26.5 66.5,27.7 67.5,27.0C68.5,26.3 70.7,25.5 72.3,25.7C73.9,25.9 76.0,25.6 77.0,28.0C78.0,30.4 77.8,36.7 78.0,40.0C78.2,43.3 78.1,42.5 77.9,47.7C77.7,52.9 77.4,61.4 76.8,71.4C76.2,81.4 74.6,100.6 74.4,107.6C74.2,114.6 80.9,112.3 75.4,113.3C69.9,114.2 47.1,114.2 41.6,113.3C36.1,112.4 43.0,110.0 42.6,107.7Z" fill="none" stroke="#50c040" stroke-width="2.0" filter="url(#bl05)"/>
<path d="M42.6,107.7C42.2,105.4 40.8,102.1 39.1,99.6C37.4,97.1 34.5,95.2 32.2,92.7C29.9,90.2 27.6,87.5 25.3,84.6C23.0,81.7 20.7,78.3 18.4,75.4C16.1,72.5 13.5,70.0 11.4,67.3C9.3,64.6 7.0,61.2 5.7,59.2C4.4,57.2 3.0,56.2 3.4,55.2C3.8,54.2 6.1,53.2 8.0,53.5C9.9,53.8 12.8,55.4 14.9,56.9C17.0,58.4 18.8,60.8 20.7,62.7C22.6,64.6 25.0,67.2 26.4,68.5C27.8,69.8 28.6,71.8 29.3,70.2C30.0,68.7 30.2,63.0 30.5,59.2C30.8,55.5 30.8,54.2 31.0,47.7C31.2,41.2 31.2,25.4 31.5,20.0C31.8,14.6 31.6,16.2 32.5,15.0C33.4,13.8 35.6,12.8 37.1,12.7C38.6,12.6 40.8,15.4 41.8,14.5C42.8,13.6 41.9,8.8 42.8,7.0C43.7,5.2 45.7,3.8 47.2,3.8C48.7,3.8 50.8,5.7 51.6,7.0C52.5,8.3 51.6,11.0 52.3,11.5C53.0,12.0 54.8,9.6 56.0,9.8C57.2,10.0 59.1,9.1 59.8,12.5C60.5,15.9 60.2,24.1 60.3,30.0C60.4,35.9 60.1,44.0 60.5,48.0C60.9,52.0 61.7,54.0 62.5,54.0C63.3,54.0 64.9,52.0 65.5,48.0C66.1,44.0 65.7,33.5 66.0,30.0C66.3,26.5 66.5,27.7 67.5,27.0C68.5,26.3 70.7,25.5 72.3,25.7C73.9,25.9 76.0,25.6 77.0,28.0C78.0,30.4 77.8,36.7 78.0,40.0C78.2,43.3 78.1,42.5 77.9,47.7C77.7,52.9 77.4,61.4 76.8,71.4C76.2,81.4 74.6,100.6 74.4,107.6C74.2,114.6 80.9,112.3 75.4,113.3C69.9,114.2 47.1,114.2 41.6,113.3C36.1,112.4 43.0,110.0 42.6,107.7Z" fill="none" stroke="#20a8a8" stroke-width="0.8" filter="url(#bl05)"/>
<path d="M51.3,21L53.1,30.4" stroke="#1a6aa0" stroke-width="1.3" stroke-linecap="round" filter="url(#bl05)"/>
<path d="M42.2,18L42.8,40" stroke="#ff9000" stroke-width="1" stroke-linecap="round" filter="url(#bl05)"/>
</g>
<path d="M71.3,65.2C71.4,67.1 71.3,69.3 70.3,70.8C69.3,72.4 67.0,73.5 65.2,74.7C63.3,75.8 61.5,77.4 59.4,77.8C57.2,78.1 54.8,77.2 52.5,76.8C50.3,76.3 47.8,76.1 45.9,75.2C44.0,74.2 42.0,72.6 41.1,70.9C40.2,69.2 40.6,67.1 40.6,65.2C40.7,63.3 40.4,61.2 41.4,59.6C42.4,58.1 44.7,57.0 46.5,55.8C48.3,54.7 50.1,53.3 52.3,52.8C54.4,52.2 57.2,52.0 59.4,52.5C61.5,53.0 63.4,54.5 65.2,55.7C66.9,56.9 68.9,58.1 69.9,59.7C70.9,61.3 71.2,63.3 71.3,65.2Z" fill="#f0e040" filter="url(#bl05)"/>
<clipPath id="pc6"><path d="M70.3,65.2C70.4,66.9 70.3,68.9 69.4,70.4C68.4,71.8 66.3,72.9 64.6,73.9C62.9,75.0 61.1,76.4 59.1,76.7C57.2,77.1 54.8,76.2 52.7,75.9C50.6,75.5 48.4,75.3 46.6,74.4C44.8,73.5 42.9,72.0 42.1,70.4C41.3,68.9 41.5,66.9 41.6,65.2C41.6,63.5 41.4,61.5 42.3,60.1C43.3,58.6 45.4,57.6 47.1,56.6C48.8,55.5 50.5,54.3 52.5,53.8C54.5,53.3 57.1,53.1 59.2,53.5C61.2,54.0 62.9,55.4 64.6,56.5C66.2,57.6 68.0,58.7 69.0,60.2C69.9,61.6 70.2,63.5 70.3,65.2Z"/></clipPath>
<path d="M70.3,65.2C70.4,66.9 70.3,68.9 69.4,70.4C68.4,71.8 66.3,72.9 64.6,73.9C62.9,75.0 61.1,76.4 59.1,76.7C57.2,77.1 54.8,76.2 52.7,75.9C50.6,75.5 48.4,75.3 46.6,74.4C44.8,73.5 42.9,72.0 42.1,70.4C41.3,68.9 41.5,66.9 41.6,65.2C41.6,63.5 41.4,61.5 42.3,60.1C43.3,58.6 45.4,57.6 47.1,56.6C48.8,55.5 50.5,54.3 52.5,53.8C54.5,53.3 57.1,53.1 59.2,53.5C61.2,54.0 62.9,55.4 64.6,56.5C66.2,57.6 68.0,58.7 69.0,60.2C69.9,61.6 70.2,63.5 70.3,65.2Z" fill="#b0d838" filter="url(#bl05)"/>
<g clip-path="url(#pc6)"><g filter="url(#bl1)">
<ellipse cx="52" cy="62" rx="5" ry="3" fill="#f0c020" opacity="0.8"/>
<ellipse cx="62" cy="70" rx="4" ry="3" fill="#e0e030" opacity="0.8"/>
</g></g>
<ellipse cx="61" cy="104" rx="10" ry="4.5" fill="#ffe8e0" opacity="0.9" filter="url(#bl1)"/>
<path d="M54.5,66h6.6M57.8,62.7v6.6" stroke="#111" stroke-width="0.9"/>
<text x="43.6" y="85.8" style="font-family:'Liberation Serif',serif;font-weight:bold;font-size:14.6px;letter-spacing:0.6px;stroke:#000;stroke-width:0.4px">22.7</text>
<text transform="translate(3.4,22.9) scale(1.06,1)" style="font-family:'Liberation Sans',sans-serif;font-size:19.5px;fill:#fff;stroke:#fff;stroke-width:0.35px">0s</text>
</g></g>
<g transform="translate(232.0,408.3)">
<clipPath id="ic7"><rect x="0" y="0" width="86.20" height="107.30"/></clipPath>
<clipPath id="h7"><path d="M41.9,107.6C40.8,104.5 36.9,98.3 34.3,94.7C31.6,91.1 28.6,88.8 26.0,86.0C23.4,83.2 21.5,81.0 19.0,78.2C16.5,75.4 13.3,72.0 11.0,69.0C8.7,66.0 6.5,62.7 5.1,60.4C3.7,58.1 2.1,56.4 2.5,55.3C2.9,54.2 5.6,53.5 7.5,53.8C9.4,54.1 11.8,55.3 14.0,57.0C16.2,58.7 18.7,61.6 21.0,64.0C23.3,66.4 26.5,72.7 27.9,71.2C29.3,69.7 29.2,60.2 29.5,55.0C29.8,49.8 29.8,45.8 29.8,40.0C29.9,34.2 29.7,24.2 29.8,20.0C29.9,15.8 29.6,15.9 30.5,14.5C31.4,13.1 33.4,12.0 34.9,11.8C36.4,11.6 38.6,14.5 39.5,13.5C40.4,12.5 39.6,7.9 40.5,6.0C41.4,4.1 43.3,2.3 44.8,2.2C46.2,2.1 48.3,4.1 49.2,5.5C50.1,6.9 49.1,10.0 50.0,10.5C50.9,11.0 53.1,8.5 54.6,8.6C56.1,8.7 58.1,8.3 59.2,11.0C60.4,13.7 61.0,18.5 61.5,25.0C62.0,31.5 61.7,44.8 62.2,50.0C62.7,55.2 63.7,56.0 64.5,56.0C65.3,56.0 66.4,54.3 66.8,50.0C67.2,45.7 66.7,33.9 67.0,30.0C67.3,26.1 67.6,27.4 68.5,26.5C69.4,25.6 71.1,24.3 72.4,24.5C73.7,24.7 75.5,24.9 76.5,27.5C77.5,30.1 77.7,36.6 78.5,40.0C79.3,43.4 81.0,42.2 81.3,47.7C81.5,53.2 80.8,63.0 80.0,73.0C79.2,83.0 76.7,100.9 76.2,107.6C75.7,114.3 83.1,112.3 77.2,113.3C71.3,114.2 46.8,114.2 40.9,113.3C35.0,112.3 43.0,110.7 41.9,107.6Z"/></clipPath>
<linearGradient id="g7" gradientUnits="userSpaceOnUse" x1="0" y1="0" x2="0" y2="107"><stop offset="0.000" stop-color="#8ccc40"/><stop offset="0.112" stop-color="#b4d428"/><stop offset="0.243" stop-color="#d8d818"/><stop offset="0.336" stop-color="#f2c400"/><stop offset="0.430" stop-color="#ff9028"/><stop offset="1.000" stop-color="#ff8828"/></linearGradient>
<g clip-path="url(#ic7)">
<rect x="0" y="0" width="86.20" height="107.30" fill="#02034f"/>
<path d="M41.9,107.6C40.8,104.5 36.9,98.3 34.3,94.7C31.6,91.1 28.6,88.8 26.0,86.0C23.4,83.2 21.5,81.0 19.0,78.2C16.5,75.4 13.3,72.0 11.0,69.0C8.7,66.0 6.5,62.7 5.1,60.4C3.7,58.1 2.1,56.4 2.5,55.3C2.9,54.2 5.6,53.5 7.5,53.8C9.4,54.1 11.8,55.3 14.0,57.0C16.2,58.7 18.7,61.6 21.0,64.0C23.3,66.4 26.5,72.7 27.9,71.2C29.3,69.7 29.2,60.2 29.5,55.0C29.8,49.8 29.8,45.8 29.8,40.0C29.9,34.2 29.7,24.2 29.8,20.0C29.9,15.8 29.6,15.9 30.5,14.5C31.4,13.1 33.4,12.0 34.9,11.8C36.4,11.6 38.6,14.5 39.5,13.5C40.4,12.5 39.6,7.9 40.5,6.0C41.4,4.1 43.3,2.3 44.8,2.2C46.2,2.1 48.3,4.1 49.2,5.5C50.1,6.9 49.1,10.0 50.0,10.5C50.9,11.0 53.1,8.5 54.6,8.6C56.1,8.7 58.1,8.3 59.2,11.0C60.4,13.7 61.0,18.5 61.5,25.0C62.0,31.5 61.7,44.8 62.2,50.0C62.7,55.2 63.7,56.0 64.5,56.0C65.3,56.0 66.4,54.3 66.8,50.0C67.2,45.7 66.7,33.9 67.0,30.0C67.3,26.1 67.6,27.4 68.5,26.5C69.4,25.6 71.1,24.3 72.4,24.5C73.7,24.7 75.5,24.9 76.5,27.5C77.5,30.1 77.7,36.6 78.5,40.0C79.3,43.4 81.0,42.2 81.3,47.7C81.5,53.2 80.8,63.0 80.0,73.0C79.2,83.0 76.7,100.9 76.2,107.6C75.7,114.3 83.1,112.3 77.2,113.3C71.3,114.2 46.8,114.2 40.9,113.3C35.0,112.3 43.0,110.7 41.9,107.6Z" fill="#0c3cb4" stroke="#0c3cb4" stroke-width="4.0" filter="url(#bl1)"/>
<path d="M41.9,107.6C40.8,104.5 36.9,98.3 34.3,94.7C31.6,91.1 28.6,88.8 26.0,86.0C23.4,83.2 21.5,81.0 19.0,78.2C16.5,75.4 13.3,72.0 11.0,69.0C8.7,66.0 6.5,62.7 5.1,60.4C3.7,58.1 2.1,56.4 2.5,55.3C2.9,54.2 5.6,53.5 7.5,53.8C9.4,54.1 11.8,55.3 14.0,57.0C16.2,58.7 18.7,61.6 21.0,64.0C23.3,66.4 26.5,72.7 27.9,71.2C29.3,69.7 29.2,60.2 29.5,55.0C29.8,49.8 29.8,45.8 29.8,40.0C29.9,34.2 29.7,24.2 29.8,20.0C29.9,15.8 29.6,15.9 30.5,14.5C31.4,13.1 33.4,12.0 34.9,11.8C36.4,11.6 38.6,14.5 39.5,13.5C40.4,12.5 39.6,7.9 40.5,6.0C41.4,4.1 43.3,2.3 44.8,2.2C46.2,2.1 48.3,4.1 49.2,5.5C50.1,6.9 49.1,10.0 50.0,10.5C50.9,11.0 53.1,8.5 54.6,8.6C56.1,8.7 58.1,8.3 59.2,11.0C60.4,13.7 61.0,18.5 61.5,25.0C62.0,31.5 61.7,44.8 62.2,50.0C62.7,55.2 63.7,56.0 64.5,56.0C65.3,56.0 66.4,54.3 66.8,50.0C67.2,45.7 66.7,33.9 67.0,30.0C67.3,26.1 67.6,27.4 68.5,26.5C69.4,25.6 71.1,24.3 72.4,24.5C73.7,24.7 75.5,24.9 76.5,27.5C77.5,30.1 77.7,36.6 78.5,40.0C79.3,43.4 81.0,42.2 81.3,47.7C81.5,53.2 80.8,63.0 80.0,73.0C79.2,83.0 76.7,100.9 76.2,107.6C75.7,114.3 83.1,112.3 77.2,113.3C71.3,114.2 46.8,114.2 40.9,113.3C35.0,112.3 43.0,110.7 41.9,107.6Z" fill="#1878d0" stroke="#1878d0" stroke-width="1.4" filter="url(#bl05)"/>
<g clip-path="url(#h7)">
<path d="M41.9,107.6C40.8,104.5 36.9,98.3 34.3,94.7C31.6,91.1 28.6,88.8 26.0,86.0C23.4,83.2 21.5,81.0 19.0,78.2C16.5,75.4 13.3,72.0 11.0,69.0C8.7,66.0 6.5,62.7 5.1,60.4C3.7,58.1 2.1,56.4 2.5,55.3C2.9,54.2 5.6,53.5 7.5,53.8C9.4,54.1 11.8,55.3 14.0,57.0C16.2,58.7 18.7,61.6 21.0,64.0C23.3,66.4 26.5,72.7 27.9,71.2C29.3,69.7 29.2,60.2 29.5,55.0C29.8,49.8 29.8,45.8 29.8,40.0C29.9,34.2 29.7,24.2 29.8,20.0C29.9,15.8 29.6,15.9 30.5,14.5C31.4,13.1 33.4,12.0 34.9,11.8C36.4,11.6 38.6,14.5 39.5,13.5C40.4,12.5 39.6,7.9 40.5,6.0C41.4,4.1 43.3,2.3 44.8,2.2C46.2,2.1 48.3,4.1 49.2,5.5C50.1,6.9 49.1,10.0 50.0,10.5C50.9,11.0 53.1,8.5 54.6,8.6C56.1,8.7 58.1,8.3 59.2,11.0C60.4,13.7 61.0,18.5 61.5,25.0C62.0,31.5 61.7,44.8 62.2,50.0C62.7,55.2 63.7,56.0 64.5,56.0C65.3,56.0 66.4,54.3 66.8,50.0C67.2,45.7 66.7,33.9 67.0,30.0C67.3,26.1 67.6,27.4 68.5,26.5C69.4,25.6 71.1,24.3 72.4,24.5C73.7,24.7 75.5,24.9 76.5,27.5C77.5,30.1 77.7,36.6 78.5,40.0C79.3,43.4 81.0,42.2 81.3,47.7C81.5,53.2 80.8,63.0 80.0,73.0C79.2,83.0 76.7,100.9 76.2,107.6C75.7,114.3 83.1,112.3 77.2,113.3C71.3,114.2 46.8,114.2 40.9,113.3C35.0,112.3 43.0,110.7 41.9,107.6Z" fill="url(#g7)"/>
<radialGradient id="pr7_0" gradientUnits="userSpaceOnUse" cx="0" cy="0" r="1" gradientTransform="translate(52,82) scale(32,40)"><stop offset="0" stop-color="#ff3060" stop-opacity="1"/><stop offset="0.6" stop-color="#ff2858" stop-opacity="1"/><stop offset="0.85" stop-color="#ff5040" stop-opacity="0.6"/><stop offset="1" stop-color="#ff5040" stop-opacity="0"/></radialGradient>
<rect x="-5" y="-5" width="96.2" height="117.3" fill="url(#pr7_0)"/>
<g filter="url(#bl2)">
<path d="M26.0,86.0C24.7,85.7 21.5,81.0 19.0,78.2C16.5,75.4 13.3,72.0 11.0,69.0C8.7,66.0 6.5,62.7 5.1,60.4C3.7,58.1 2.1,56.4 2.5,55.3C2.9,54.2 5.6,53.5 7.5,53.8C9.4,54.1 11.8,55.3 14.0,57.0C16.2,58.7 18.7,61.6 21.0,64.0C23.3,66.4 26.9,68.5 27.9,71.2C28.9,73.9 27.3,77.5 27.0,80.0C26.7,82.5 27.3,86.3 26.0,86.0Z" fill="#ffa030" opacity="0.95"/>
<ellipse cx="72.4" cy="33.5" rx="4.2" ry="10" fill="#8cc838" opacity="0.85"/>
<ellipse cx="63" cy="104" rx="11" ry="7" fill="#ffd8d0" opacity="1"/>
<ellipse cx="30" cy="82" rx="8" ry="9" fill="#ff7890" opacity="0.7"/>
<ellipse cx="76" cy="60" rx="3" ry="12" fill="#ffa020" opacity="0.7"/>
<ellipse cx="34.9" cy="27" rx="4.5" ry="12" fill="#f8b414" opacity="0.8"/>
<ellipse cx="47" cy="49" rx="9" ry="6" fill="#ff2450" opacity="0.9"/>
</g>
<path d="M41.9,107.6C40.8,104.5 36.9,98.3 34.3,94.7C31.6,91.1 28.6,88.8 26.0,86.0C23.4,83.2 21.5,81.0 19.0,78.2C16.5,75.4 13.3,72.0 11.0,69.0C8.7,66.0 6.5,62.7 5.1,60.4C3.7,58.1 2.1,56.4 2.5,55.3C2.9,54.2 5.6,53.5 7.5,53.8C9.4,54.1 11.8,55.3 14.0,57.0C16.2,58.7 18.7,61.6 21.0,64.0C23.3,66.4 26.5,72.7 27.9,71.2C29.3,69.7 29.2,60.2 29.5,55.0C29.8,49.8 29.8,45.8 29.8,40.0C29.9,34.2 29.7,24.2 29.8,20.0C29.9,15.8 29.6,15.9 30.5,14.5C31.4,13.1 33.4,12.0 34.9,11.8C36.4,11.6 38.6,14.5 39.5,13.5C40.4,12.5 39.6,7.9 40.5,6.0C41.4,4.1 43.3,2.3 44.8,2.2C46.2,2.1 48.3,4.1 49.2,5.5C50.1,6.9 49.1,10.0 50.0,10.5C50.9,11.0 53.1,8.5 54.6,8.6C56.1,8.7 58.1,8.3 59.2,11.0C60.4,13.7 61.0,18.5 61.5,25.0C62.0,31.5 61.7,44.8 62.2,50.0C62.7,55.2 63.7,56.0 64.5,56.0C65.3,56.0 66.4,54.3 66.8,50.0C67.2,45.7 66.7,33.9 67.0,30.0C67.3,26.1 67.6,27.4 68.5,26.5C69.4,25.6 71.1,24.3 72.4,24.5C73.7,24.7 75.5,24.9 76.5,27.5C77.5,30.1 77.7,36.6 78.5,40.0C79.3,43.4 81.0,42.2 81.3,47.7C81.5,53.2 80.8,63.0 80.0,73.0C79.2,83.0 76.7,100.9 76.2,107.6C75.7,114.3 83.1,112.3 77.2,113.3C71.3,114.2 46.8,114.2 40.9,113.3C35.0,112.3 43.0,110.7 41.9,107.6Z" fill="none" stroke="#f0d000" stroke-width="4.4" filter="url(#bl1)" opacity="0.55"/>
<path d="M41.9,107.6C40.8,104.5 36.9,98.3 34.3,94.7C31.6,91.1 28.6,88.8 26.0,86.0C23.4,83.2 21.5,81.0 19.0,78.2C16.5,75.4 13.3,72.0 11.0,69.0C8.7,66.0 6.5,62.7 5.1,60.4C3.7,58.1 2.1,56.4 2.5,55.3C2.9,54.2 5.6,53.5 7.5,53.8C9.4,54.1 11.8,55.3 14.0,57.0C16.2,58.7 18.7,61.6 21.0,64.0C23.3,66.4 26.5,72.7 27.9,71.2C29.3,69.7 29.2,60.2 29.5,55.0C29.8,49.8 29.8,45.8 29.8,40.0C29.9,34.2 29.7,24.2 29.8,20.0C29.9,15.8 29.6,15.9 30.5,14.5C31.4,13.1 33.4,12.0 34.9,11.8C36.4,11.6 38.6,14.5 39.5,13.5C40.4,12.5 39.6,7.9 40.5,6.0C41.4,4.1 43.3,2.3 44.8,2.2C46.2,2.1 48.3,4.1 49.2,5.5C50.1,6.9 49.1,10.0 50.0,10.5C50.9,11.0 53.1,8.5 54.6,8.6C56.1,8.7 58.1,8.3 59.2,11.0C60.4,13.7 61.0,18.5 61.5,25.0C62.0,31.5 61.7,44.8 62.2,50.0C62.7,55.2 63.7,56.0 64.5,56.0C65.3,56.0 66.4,54.3 66.8,50.0C67.2,45.7 66.7,33.9 67.0,30.0C67.3,26.1 67.6,27.4 68.5,26.5C69.4,25.6 71.1,24.3 72.4,24.5C73.7,24.7 75.5,24.9 76.5,27.5C77.5,30.1 77.7,36.6 78.5,40.0C79.3,43.4 81.0,42.2 81.3,47.7C81.5,53.2 80.8,63.0 80.0,73.0C79.2,83.0 76.7,100.9 76.2,107.6C75.7,114.3 83.1,112.3 77.2,113.3C71.3,114.2 46.8,114.2 40.9,113.3C35.0,112.3 43.0,110.7 41.9,107.6Z" fill="none" stroke="#50c040" stroke-width="2.0" filter="url(#bl05)"/>
<path d="M41.9,107.6C40.8,104.5 36.9,98.3 34.3,94.7C31.6,91.1 28.6,88.8 26.0,86.0C23.4,83.2 21.5,81.0 19.0,78.2C16.5,75.4 13.3,72.0 11.0,69.0C8.7,66.0 6.5,62.7 5.1,60.4C3.7,58.1 2.1,56.4 2.5,55.3C2.9,54.2 5.6,53.5 7.5,53.8C9.4,54.1 11.8,55.3 14.0,57.0C16.2,58.7 18.7,61.6 21.0,64.0C23.3,66.4 26.5,72.7 27.9,71.2C29.3,69.7 29.2,60.2 29.5,55.0C29.8,49.8 29.8,45.8 29.8,40.0C29.9,34.2 29.7,24.2 29.8,20.0C29.9,15.8 29.6,15.9 30.5,14.5C31.4,13.1 33.4,12.0 34.9,11.8C36.4,11.6 38.6,14.5 39.5,13.5C40.4,12.5 39.6,7.9 40.5,6.0C41.4,4.1 43.3,2.3 44.8,2.2C46.2,2.1 48.3,4.1 49.2,5.5C50.1,6.9 49.1,10.0 50.0,10.5C50.9,11.0 53.1,8.5 54.6,8.6C56.1,8.7 58.1,8.3 59.2,11.0C60.4,13.7 61.0,18.5 61.5,25.0C62.0,31.5 61.7,44.8 62.2,50.0C62.7,55.2 63.7,56.0 64.5,56.0C65.3,56.0 66.4,54.3 66.8,50.0C67.2,45.7 66.7,33.9 67.0,30.0C67.3,26.1 67.6,27.4 68.5,26.5C69.4,25.6 71.1,24.3 72.4,24.5C73.7,24.7 75.5,24.9 76.5,27.5C77.5,30.1 77.7,36.6 78.5,40.0C79.3,43.4 81.0,42.2 81.3,47.7C81.5,53.2 80.8,63.0 80.0,73.0C79.2,83.0 76.7,100.9 76.2,107.6C75.7,114.3 83.1,112.3 77.2,113.3C71.3,114.2 46.8,114.2 40.9,113.3C35.0,112.3 43.0,110.7 41.9,107.6Z" fill="none" stroke="#20a8a8" stroke-width="0.8" filter="url(#bl05)"/>
<path d="M51,22L52.5,33" stroke="#1a6aa0" stroke-width="1.3" stroke-linecap="round" filter="url(#bl05)"/>
</g>
<path d="M71.8,66.1C71.7,68.0 70.3,69.8 69.3,71.6C68.3,73.3 67.5,75.6 65.8,76.8C64.1,77.9 61.2,78.3 58.9,78.7C56.5,79.2 53.8,79.7 51.6,79.3C49.4,78.8 47.6,77.1 45.7,75.8C43.8,74.6 41.6,73.5 40.4,71.9C39.2,70.3 38.2,68.0 38.3,66.1C38.4,64.2 40.0,62.3 41.1,60.6C42.3,58.8 43.2,56.8 45.0,55.7C46.8,54.5 49.4,54.1 51.8,53.6C54.1,53.1 56.8,52.4 59.0,52.8C61.3,53.3 63.2,55.0 65.0,56.3C66.8,57.5 68.8,58.8 69.9,60.4C71.0,62.1 71.9,64.2 71.8,66.1Z" fill="#ff7030" filter="url(#bl05)"/>
<clipPath id="pc7"><path d="M70.8,66.1C70.7,67.8 69.4,69.5 68.4,71.1C67.5,72.8 66.8,74.8 65.2,75.9C63.5,77.0 60.9,77.4 58.6,77.8C56.4,78.2 53.9,78.7 51.8,78.3C49.8,77.8 48.0,76.2 46.3,75.1C44.5,74.0 42.5,73.0 41.3,71.5C40.2,70.0 39.2,67.8 39.3,66.1C39.5,64.4 41.0,62.6 42.0,61.0C43.1,59.4 44.0,57.5 45.6,56.5C47.3,55.4 49.8,55.0 52.0,54.5C54.2,54.1 56.7,53.4 58.8,53.8C60.9,54.2 62.7,55.8 64.4,57.0C66.1,58.2 67.9,59.3 69.0,60.9C70.1,62.4 70.9,64.4 70.8,66.1Z"/></clipPath>
<path d="M70.8,66.1C70.7,67.8 69.4,69.5 68.4,71.1C67.5,72.8 66.8,74.8 65.2,75.9C63.5,77.0 60.9,77.4 58.6,77.8C56.4,78.2 53.9,78.7 51.8,78.3C49.8,77.8 48.0,76.2 46.3,75.1C44.5,74.0 42.5,73.0 41.3,71.5C40.2,70.0 39.2,67.8 39.3,66.1C39.5,64.4 41.0,62.6 42.0,61.0C43.1,59.4 44.0,57.5 45.6,56.5C47.3,55.4 49.8,55.0 52.0,54.5C54.2,54.1 56.7,53.4 58.8,53.8C60.9,54.2 62.7,55.8 64.4,57.0C66.1,58.2 67.9,59.3 69.0,60.9C70.1,62.4 70.9,64.4 70.8,66.1Z" fill="#f8b828" filter="url(#bl05)"/>
<g clip-path="url(#pc7)"><g filter="url(#bl1)">
<ellipse cx="56" cy="59" rx="4" ry="3" fill="#ff5030" opacity="0.8"/>
</g></g>
<ellipse cx="57" cy="85.8" rx="4" ry="1.8" fill="#fff0f0" opacity="0.9" filter="url(#bl1)"/>
<ellipse cx="63" cy="105" rx="8" ry="4" fill="#fff0e8" opacity="0.95" filter="url(#bl1)"/>
<path d="M53.9,65.5h6.6M57.2,62.2v6.6" stroke="#111" stroke-width="0.9"/>
<text x="43.3" y="85.5" style="font-family:'Liberation Serif',serif;font-weight:bold;font-size:14.6px;letter-spacing:0.6px;stroke:#000;stroke-width:0.4px">24.3</text>
<text transform="translate(4.5,22.9) scale(1.06,1)" style="font-family:'Liberation Sans',sans-serif;font-size:19.5px;fill:#fff;stroke:#fff;stroke-width:0.35px">5s</text>
</g></g>
<g transform="translate(321.7,408.3)">
<clipPath id="ic8"><rect x="0" y="0" width="78.80" height="107.30"/></clipPath>
<clipPath id="h8"><path d="M36.7,107.7C35.5,104.4 30.9,97.0 28.5,93.2C26.1,89.4 23.9,87.5 22.0,85.0C20.1,82.5 19.0,80.8 16.8,78.1C14.6,75.4 11.3,71.9 9.0,69.0C6.7,66.1 4.1,62.5 2.8,60.5C1.5,58.5 0.7,57.8 1.1,57.0C1.5,56.2 3.8,55.7 5.0,55.5C6.2,55.3 6.8,54.8 8.6,55.9C10.4,57.0 13.6,59.7 16.0,62.0C18.4,64.3 22.2,71.1 23.2,69.9C24.2,68.7 22.1,60.0 21.8,55.0C21.5,50.0 21.6,45.8 21.5,40.0C21.4,34.2 21.3,24.2 21.5,20.0C21.7,15.8 21.5,15.8 22.5,14.5C23.5,13.2 25.7,12.6 27.4,12.5C29.1,12.4 31.5,15.1 32.5,14.0C33.5,12.9 32.4,7.9 33.3,6.0C34.2,4.1 36.3,2.7 37.9,2.6C39.5,2.5 41.7,4.2 42.6,5.5C43.5,6.8 42.7,10.0 43.5,10.5C44.3,11.0 46.2,8.5 47.5,8.5C48.8,8.5 50.2,7.8 51.5,10.5C52.8,13.2 54.2,18.4 55.0,25.0C55.8,31.6 55.4,44.8 56.0,50.0C56.6,55.2 57.6,56.0 58.5,56.0C59.4,56.0 60.8,54.3 61.5,50.0C62.2,45.7 62.1,33.9 62.5,30.0C62.9,26.1 63.1,27.4 64.0,26.5C64.9,25.6 66.7,24.6 68.0,24.8C69.3,25.1 71.1,25.5 72.0,28.0C72.9,30.5 73.2,36.7 73.5,40.0C73.8,43.3 74.4,42.5 74.1,47.7C73.8,52.9 72.5,61.1 71.7,71.1C70.9,81.1 69.6,100.7 69.4,107.7C69.2,114.7 76.0,112.4 70.4,113.3C64.8,114.2 41.3,114.2 35.7,113.3C30.1,112.4 37.9,111.0 36.7,107.7Z"/></clipPath>
<linearGradient id="g8" gradientUnits="userSpaceOnUse" x1="0" y1="0" x2="0" y2="107"><stop offset="0.000" stop-color="#88c840"/><stop offset="0.112" stop-color="#b0d030"/><stop offset="0.224" stop-color="#dcd418"/><stop offset="0.318" stop-color="#f4b810"/><stop offset="0.411" stop-color="#ff8830"/><stop offset="1.000" stop-color="#ff8830"/></linearGradient>
<g clip-path="url(#ic8)">
<rect x="0" y="0" width="78.80" height="107.30" fill="#02034f"/>
<path d="M36.7,107.7C35.5,104.4 30.9,97.0 28.5,93.2C26.1,89.4 23.9,87.5 22.0,85.0C20.1,82.5 19.0,80.8 16.8,78.1C14.6,75.4 11.3,71.9 9.0,69.0C6.7,66.1 4.1,62.5 2.8,60.5C1.5,58.5 0.7,57.8 1.1,57.0C1.5,56.2 3.8,55.7 5.0,55.5C6.2,55.3 6.8,54.8 8.6,55.9C10.4,57.0 13.6,59.7 16.0,62.0C18.4,64.3 22.2,71.1 23.2,69.9C24.2,68.7 22.1,60.0 21.8,55.0C21.5,50.0 21.6,45.8 21.5,40.0C21.4,34.2 21.3,24.2 21.5,20.0C21.7,15.8 21.5,15.8 22.5,14.5C23.5,13.2 25.7,12.6 27.4,12.5C29.1,12.4 31.5,15.1 32.5,14.0C33.5,12.9 32.4,7.9 33.3,6.0C34.2,4.1 36.3,2.7 37.9,2.6C39.5,2.5 41.7,4.2 42.6,5.5C43.5,6.8 42.7,10.0 43.5,10.5C44.3,11.0 46.2,8.5 47.5,8.5C48.8,8.5 50.2,7.8 51.5,10.5C52.8,13.2 54.2,18.4 55.0,25.0C55.8,31.6 55.4,44.8 56.0,50.0C56.6,55.2 57.6,56.0 58.5,56.0C59.4,56.0 60.8,54.3 61.5,50.0C62.2,45.7 62.1,33.9 62.5,30.0C62.9,26.1 63.1,27.4 64.0,26.5C64.9,25.6 66.7,24.6 68.0,24.8C69.3,25.1 71.1,25.5 72.0,28.0C72.9,30.5 73.2,36.7 73.5,40.0C73.8,43.3 74.4,42.5 74.1,47.7C73.8,52.9 72.5,61.1 71.7,71.1C70.9,81.1 69.6,100.7 69.4,107.7C69.2,114.7 76.0,112.4 70.4,113.3C64.8,114.2 41.3,114.2 35.7,113.3C30.1,112.4 37.9,111.0 36.7,107.7Z" fill="#0c3cb4" stroke="#0c3cb4" stroke-width="4.0" filter="url(#bl1)"/>
<path d="M36.7,107.7C35.5,104.4 30.9,97.0 28.5,93.2C26.1,89.4 23.9,87.5 22.0,85.0C20.1,82.5 19.0,80.8 16.8,78.1C14.6,75.4 11.3,71.9 9.0,69.0C6.7,66.1 4.1,62.5 2.8,60.5C1.5,58.5 0.7,57.8 1.1,57.0C1.5,56.2 3.8,55.7 5.0,55.5C6.2,55.3 6.8,54.8 8.6,55.9C10.4,57.0 13.6,59.7 16.0,62.0C18.4,64.3 22.2,71.1 23.2,69.9C24.2,68.7 22.1,60.0 21.8,55.0C21.5,50.0 21.6,45.8 21.5,40.0C21.4,34.2 21.3,24.2 21.5,20.0C21.7,15.8 21.5,15.8 22.5,14.5C23.5,13.2 25.7,12.6 27.4,12.5C29.1,12.4 31.5,15.1 32.5,14.0C33.5,12.9 32.4,7.9 33.3,6.0C34.2,4.1 36.3,2.7 37.9,2.6C39.5,2.5 41.7,4.2 42.6,5.5C43.5,6.8 42.7,10.0 43.5,10.5C44.3,11.0 46.2,8.5 47.5,8.5C48.8,8.5 50.2,7.8 51.5,10.5C52.8,13.2 54.2,18.4 55.0,25.0C55.8,31.6 55.4,44.8 56.0,50.0C56.6,55.2 57.6,56.0 58.5,56.0C59.4,56.0 60.8,54.3 61.5,50.0C62.2,45.7 62.1,33.9 62.5,30.0C62.9,26.1 63.1,27.4 64.0,26.5C64.9,25.6 66.7,24.6 68.0,24.8C69.3,25.1 71.1,25.5 72.0,28.0C72.9,30.5 73.2,36.7 73.5,40.0C73.8,43.3 74.4,42.5 74.1,47.7C73.8,52.9 72.5,61.1 71.7,71.1C70.9,81.1 69.6,100.7 69.4,107.7C69.2,114.7 76.0,112.4 70.4,113.3C64.8,114.2 41.3,114.2 35.7,113.3C30.1,112.4 37.9,111.0 36.7,107.7Z" fill="#1878d0" stroke="#1878d0" stroke-width="1.4" filter="url(#bl05)"/>
<g clip-path="url(#h8)">
<path d="M36.7,107.7C35.5,104.4 30.9,97.0 28.5,93.2C26.1,89.4 23.9,87.5 22.0,85.0C20.1,82.5 19.0,80.8 16.8,78.1C14.6,75.4 11.3,71.9 9.0,69.0C6.7,66.1 4.1,62.5 2.8,60.5C1.5,58.5 0.7,57.8 1.1,57.0C1.5,56.2 3.8,55.7 5.0,55.5C6.2,55.3 6.8,54.8 8.6,55.9C10.4,57.0 13.6,59.7 16.0,62.0C18.4,64.3 22.2,71.1 23.2,69.9C24.2,68.7 22.1,60.0 21.8,55.0C21.5,50.0 21.6,45.8 21.5,40.0C21.4,34.2 21.3,24.2 21.5,20.0C21.7,15.8 21.5,15.8 22.5,14.5C23.5,13.2 25.7,12.6 27.4,12.5C29.1,12.4 31.5,15.1 32.5,14.0C33.5,12.9 32.4,7.9 33.3,6.0C34.2,4.1 36.3,2.7 37.9,2.6C39.5,2.5 41.7,4.2 42.6,5.5C43.5,6.8 42.7,10.0 43.5,10.5C44.3,11.0 46.2,8.5 47.5,8.5C48.8,8.5 50.2,7.8 51.5,10.5C52.8,13.2 54.2,18.4 55.0,25.0C55.8,31.6 55.4,44.8 56.0,50.0C56.6,55.2 57.6,56.0 58.5,56.0C59.4,56.0 60.8,54.3 61.5,50.0C62.2,45.7 62.1,33.9 62.5,30.0C62.9,26.1 63.1,27.4 64.0,26.5C64.9,25.6 66.7,24.6 68.0,24.8C69.3,25.1 71.1,25.5 72.0,28.0C72.9,30.5 73.2,36.7 73.5,40.0C73.8,43.3 74.4,42.5 74.1,47.7C73.8,52.9 72.5,61.1 71.7,71.1C70.9,81.1 69.6,100.7 69.4,107.7C69.2,114.7 76.0,112.4 70.4,113.3C64.8,114.2 41.3,114.2 35.7,113.3C30.1,112.4 37.9,111.0 36.7,107.7Z" fill="url(#g8)"/>
<radialGradient id="pr8_0" gradientUnits="userSpaceOnUse" cx="0" cy="0" r="1" gradientTransform="translate(45,84) scale(30,40)"><stop offset="0" stop-color="#ff3060" stop-opacity="1"/><stop offset="0.6" stop-color="#ff2858" stop-opacity="1"/><stop offset="0.85" stop-color="#ff5040" stop-opacity="0.6"/><stop offset="1" stop-color="#ff5040" stop-opacity="0"/></radialGradient>
<rect x="-5" y="-5" width="88.8" height="117.3" fill="url(#pr8_0)"/>
<g filter="url(#bl2)">
<path d="M22.0,85.0C21.0,85.0 19.0,80.8 16.8,78.1C14.6,75.4 11.3,71.9 9.0,69.0C6.7,66.1 4.1,62.5 2.8,60.5C1.5,58.5 0.7,57.8 1.1,57.0C1.5,56.2 3.8,55.7 5.0,55.5C6.2,55.3 6.8,54.8 8.6,55.9C10.4,57.0 13.6,59.7 16.0,62.0C18.4,64.3 22.0,67.2 23.2,69.9C24.4,72.6 23.2,75.5 23.0,78.0C22.8,80.5 23.0,85.0 22.0,85.0Z" fill="#ff5070" opacity="0.95"/>
<ellipse cx="68" cy="33.8" rx="4.2" ry="10" fill="#8cc838" opacity="0.85"/>
<ellipse cx="66" cy="62" rx="5" ry="12" fill="#f8c000" opacity="0.9"/>
<ellipse cx="62" cy="105" rx="8" ry="5" fill="#ffd0d0" opacity="1"/>
<ellipse cx="28" cy="82" rx="8" ry="9" fill="#ff7890" opacity="0.6"/>
<ellipse cx="32" cy="42" rx="2" ry="5" fill="#ff3030" opacity="0.8"/>
<ellipse cx="45" cy="42" rx="2" ry="6" fill="#ff3030" opacity="0.8"/>
<ellipse cx="27.4" cy="28" rx="4.5" ry="12" fill="#f8b414" opacity="0.8"/>
<ellipse cx="40" cy="50" rx="9" ry="6" fill="#ff2450" opacity="0.9"/>
</g>
<path d="M36.7,107.7C35.5,104.4 30.9,97.0 28.5,93.2C26.1,89.4 23.9,87.5 22.0,85.0C20.1,82.5 19.0,80.8 16.8,78.1C14.6,75.4 11.3,71.9 9.0,69.0C6.7,66.1 4.1,62.5 2.8,60.5C1.5,58.5 0.7,57.8 1.1,57.0C1.5,56.2 3.8,55.7 5.0,55.5C6.2,55.3 6.8,54.8 8.6,55.9C10.4,57.0 13.6,59.7 16.0,62.0C18.4,64.3 22.2,71.1 23.2,69.9C24.2,68.7 22.1,60.0 21.8,55.0C21.5,50.0 21.6,45.8 21.5,40.0C21.4,34.2 21.3,24.2 21.5,20.0C21.7,15.8 21.5,15.8 22.5,14.5C23.5,13.2 25.7,12.6 27.4,12.5C29.1,12.4 31.5,15.1 32.5,14.0C33.5,12.9 32.4,7.9 33.3,6.0C34.2,4.1 36.3,2.7 37.9,2.6C39.5,2.5 41.7,4.2 42.6,5.5C43.5,6.8 42.7,10.0 43.5,10.5C44.3,11.0 46.2,8.5 47.5,8.5C48.8,8.5 50.2,7.8 51.5,10.5C52.8,13.2 54.2,18.4 55.0,25.0C55.8,31.6 55.4,44.8 56.0,50.0C56.6,55.2 57.6,56.0 58.5,56.0C59.4,56.0 60.8,54.3 61.5,50.0C62.2,45.7 62.1,33.9 62.5,30.0C62.9,26.1 63.1,27.4 64.0,26.5C64.9,25.6 66.7,24.6 68.0,24.8C69.3,25.1 71.1,25.5 72.0,28.0C72.9,30.5 73.2,36.7 73.5,40.0C73.8,43.3 74.4,42.5 74.1,47.7C73.8,52.9 72.5,61.1 71.7,71.1C70.9,81.1 69.6,100.7 69.4,107.7C69.2,114.7 76.0,112.4 70.4,113.3C64.8,114.2 41.3,114.2 35.7,113.3C30.1,112.4 37.9,111.0 36.7,107.7Z" fill="none" stroke="#f0c000" stroke-width="4.4" filter="url(#bl1)" opacity="0.55"/>
<path d="M36.7,107.7C35.5,104.4 30.9,97.0 28.5,93.2C26.1,89.4 23.9,87.5 22.0,85.0C20.1,82.5 19.0,80.8 16.8,78.1C14.6,75.4 11.3,71.9 9.0,69.0C6.7,66.1 4.1,62.5 2.8,60.5C1.5,58.5 0.7,57.8 1.1,57.0C1.5,56.2 3.8,55.7 5.0,55.5C6.2,55.3 6.8,54.8 8.6,55.9C10.4,57.0 13.6,59.7 16.0,62.0C18.4,64.3 22.2,71.1 23.2,69.9C24.2,68.7 22.1,60.0 21.8,55.0C21.5,50.0 21.6,45.8 21.5,40.0C21.4,34.2 21.3,24.2 21.5,20.0C21.7,15.8 21.5,15.8 22.5,14.5C23.5,13.2 25.7,12.6 27.4,12.5C29.1,12.4 31.5,15.1 32.5,14.0C33.5,12.9 32.4,7.9 33.3,6.0C34.2,4.1 36.3,2.7 37.9,2.6C39.5,2.5 41.7,4.2 42.6,5.5C43.5,6.8 42.7,10.0 43.5,10.5C44.3,11.0 46.2,8.5 47.5,8.5C48.8,8.5 50.2,7.8 51.5,10.5C52.8,13.2 54.2,18.4 55.0,25.0C55.8,31.6 55.4,44.8 56.0,50.0C56.6,55.2 57.6,56.0 58.5,56.0C59.4,56.0 60.8,54.3 61.5,50.0C62.2,45.7 62.1,33.9 62.5,30.0C62.9,26.1 63.1,27.4 64.0,26.5C64.9,25.6 66.7,24.6 68.0,24.8C69.3,25.1 71.1,25.5 72.0,28.0C72.9,30.5 73.2,36.7 73.5,40.0C73.8,43.3 74.4,42.5 74.1,47.7C73.8,52.9 72.5,61.1 71.7,71.1C70.9,81.1 69.6,100.7 69.4,107.7C69.2,114.7 76.0,112.4 70.4,113.3C64.8,114.2 41.3,114.2 35.7,113.3C30.1,112.4 37.9,111.0 36.7,107.7Z" fill="none" stroke="#50c040" stroke-width="2.0" filter="url(#bl05)"/>
<path d="M36.7,107.7C35.5,104.4 30.9,97.0 28.5,93.2C26.1,89.4 23.9,87.5 22.0,85.0C20.1,82.5 19.0,80.8 16.8,78.1C14.6,75.4 11.3,71.9 9.0,69.0C6.7,66.1 4.1,62.5 2.8,60.5C1.5,58.5 0.7,57.8 1.1,57.0C1.5,56.2 3.8,55.7 5.0,55.5C6.2,55.3 6.8,54.8 8.6,55.9C10.4,57.0 13.6,59.7 16.0,62.0C18.4,64.3 22.2,71.1 23.2,69.9C24.2,68.7 22.1,60.0 21.8,55.0C21.5,50.0 21.6,45.8 21.5,40.0C21.4,34.2 21.3,24.2 21.5,20.0C21.7,15.8 21.5,15.8 22.5,14.5C23.5,13.2 25.7,12.6 27.4,12.5C29.1,12.4 31.5,15.1 32.5,14.0C33.5,12.9 32.4,7.9 33.3,6.0C34.2,4.1 36.3,2.7 37.9,2.6C39.5,2.5 41.7,4.2 42.6,5.5C43.5,6.8 42.7,10.0 43.5,10.5C44.3,11.0 46.2,8.5 47.5,8.5C48.8,8.5 50.2,7.8 51.5,10.5C52.8,13.2 54.2,18.4 55.0,25.0C55.8,31.6 55.4,44.8 56.0,50.0C56.6,55.2 57.6,56.0 58.5,56.0C59.4,56.0 60.8,54.3 61.5,50.0C62.2,45.7 62.1,33.9 62.5,30.0C62.9,26.1 63.1,27.4 64.0,26.5C64.9,25.6 66.7,24.6 68.0,24.8C69.3,25.1 71.1,25.5 72.0,28.0C72.9,30.5 73.2,36.7 73.5,40.0C73.8,43.3 74.4,42.5 74.1,47.7C73.8,52.9 72.5,61.1 71.7,71.1C70.9,81.1 69.6,100.7 69.4,107.7C69.2,114.7 76.0,112.4 70.4,113.3C64.8,114.2 41.3,114.2 35.7,113.3C30.1,112.4 37.9,111.0 36.7,107.7Z" fill="none" stroke="#20a8a8" stroke-width="0.8" filter="url(#bl05)"/>
<path d="M31.4,20.7L33.8,34.7" stroke="#1a7ab0" stroke-width="1.2" stroke-linecap="round" filter="url(#bl05)"/>
<path d="M43.7,19.6L45.4,33.6" stroke="#1a7ab0" stroke-width="1.2" stroke-linecap="round" filter="url(#bl05)"/>
</g>
<path d="M65.2,65.2C65.3,66.9 65.5,68.8 64.6,70.3C63.6,71.8 61.6,73.3 59.7,74.2C57.8,75.1 55.4,75.4 53.2,75.9C50.9,76.3 48.3,77.1 46.1,76.9C43.9,76.6 41.5,75.4 39.8,74.3C38.1,73.1 37.0,71.6 35.9,70.0C34.8,68.5 33.6,66.9 33.4,65.2C33.2,63.5 33.6,61.4 34.8,60.0C35.9,58.5 38.2,57.4 40.1,56.4C42.0,55.4 44.0,54.1 46.2,53.8C48.4,53.4 50.9,54.1 53.2,54.4C55.5,54.8 58.2,55.0 60.0,55.9C61.8,56.9 63.3,58.7 64.1,60.2C65.0,61.8 65.2,63.5 65.2,65.2Z" fill="#ff8030" filter="url(#bl05)"/>
<clipPath id="pc8"><path d="M64.3,65.2C64.3,66.7 64.5,68.5 63.6,69.9C62.8,71.3 60.9,72.6 59.1,73.4C57.3,74.2 55.1,74.5 52.9,74.9C50.8,75.3 48.4,76.1 46.4,75.8C44.3,75.6 42.0,74.5 40.4,73.5C38.8,72.5 37.8,71.0 36.8,69.6C35.8,68.2 34.6,66.7 34.5,65.2C34.3,63.7 34.7,61.8 35.7,60.4C36.7,59.1 38.9,58.1 40.7,57.2C42.5,56.2 44.4,55.1 46.4,54.8C48.5,54.5 50.8,55.0 53.0,55.4C55.1,55.7 57.7,55.9 59.4,56.7C61.1,57.6 62.4,59.2 63.2,60.6C64.0,62.1 64.2,63.7 64.3,65.2Z"/></clipPath>
<path d="M64.3,65.2C64.3,66.7 64.5,68.5 63.6,69.9C62.8,71.3 60.9,72.6 59.1,73.4C57.3,74.2 55.1,74.5 52.9,74.9C50.8,75.3 48.4,76.1 46.4,75.8C44.3,75.6 42.0,74.5 40.4,73.5C38.8,72.5 37.8,71.0 36.8,69.6C35.8,68.2 34.6,66.7 34.5,65.2C34.3,63.7 34.7,61.8 35.7,60.4C36.7,59.1 38.9,58.1 40.7,57.2C42.5,56.2 44.4,55.1 46.4,54.8C48.5,54.5 50.8,55.0 53.0,55.4C55.1,55.7 57.7,55.9 59.4,56.7C61.1,57.6 62.4,59.2 63.2,60.6C64.0,62.1 64.2,63.7 64.3,65.2Z" fill="#f8c030" filter="url(#bl05)"/>
<g clip-path="url(#pc8)"><g filter="url(#bl1)">
<ellipse cx="42" cy="63" rx="7" ry="7" fill="#f8a030" opacity="1"/>
<ellipse cx="50" cy="57" rx="4" ry="3" fill="#ff6030" opacity="0.8"/>
</g></g>
<ellipse cx="62.3" cy="105.5" rx="4.5" ry="3" fill="#fff0e8" opacity="0.95" filter="url(#bl1)"/>
<path d="M48.6,67.6h6.6M51.9,64.3v6.6" stroke="#111" stroke-width="0.9"/>
<text x="37.8" y="87.1" style="font-family:'Liberation Serif',serif;font-weight:bold;font-size:14.6px;letter-spacing:0.6px;stroke:#000;stroke-width:0.4px">26.5</text>
<text transform="translate(4.1,22.9) scale(1.06,1)" style="font-family:'Liberation Sans',sans-serif;font-size:19.5px;fill:#fff;stroke:#fff;stroke-width:0.35px">10s</text>
</g></g>
<g transform="translate(403.9,408.3)">
<clipPath id="ic9"><rect x="0" y="0" width="85.60" height="107.30"/></clipPath>
<clipPath id="h9"><path d="M42.3,107.6C40.8,104.5 35.0,98.2 32.1,94.7C29.2,91.2 27.3,89.2 25.0,86.5C22.7,83.8 20.7,81.1 18.2,78.2C15.7,75.3 12.3,72.0 10.0,69.0C7.7,66.0 5.4,62.7 4.2,60.4C3.0,58.1 2.3,56.4 2.9,55.3C3.5,54.2 6.1,53.5 8.0,53.8C9.9,54.1 12.2,55.3 14.5,57.0C16.8,58.7 19.6,61.6 22.0,64.0C24.4,66.4 28.0,72.7 29.0,71.2C30.0,69.7 28.2,60.2 28.0,55.0C27.8,49.8 27.6,45.0 27.5,40.0C27.4,35.0 27.1,28.5 27.3,25.0C27.5,21.5 27.6,20.5 28.5,19.0C29.4,17.5 31.2,16.4 32.7,16.2C34.2,15.9 36.5,19.4 37.5,17.5C38.5,15.6 37.9,7.8 39.0,5.0C40.1,2.2 42.5,1.1 44.2,1.0C46.0,0.9 48.5,3.1 49.5,4.5C50.5,5.9 49.6,9.0 50.5,9.5C51.4,10.0 53.5,7.2 55.0,7.3C56.5,7.4 58.3,7.1 59.5,10.0C60.7,12.9 61.5,18.3 62.0,25.0C62.5,31.7 62.4,44.8 62.8,50.0C63.2,55.2 63.9,56.0 64.5,56.0C65.1,56.0 66.2,54.7 66.5,50.0C66.8,45.3 66.2,32.3 66.5,28.0C66.8,23.7 67.1,25.0 68.0,24.0C68.9,23.0 70.7,21.7 72.1,21.9C73.5,22.1 75.4,22.3 76.5,25.0C77.6,27.7 77.6,34.2 78.5,38.0C79.4,41.8 81.4,42.1 81.7,47.7C82.0,53.3 81.1,61.4 80.4,71.4C79.8,81.4 78.1,100.6 77.8,107.6C77.5,114.6 84.9,112.3 78.8,113.3C72.7,114.2 47.4,114.2 41.3,113.3C35.2,112.3 43.8,110.7 42.3,107.6Z"/></clipPath>
<linearGradient id="g9" gradientUnits="userSpaceOnUse" x1="0" y1="0" x2="0" y2="107"><stop offset="0.000" stop-color="#8ccc40"/><stop offset="0.112" stop-color="#b4d428"/><stop offset="0.243" stop-color="#d8d818"/><stop offset="0.336" stop-color="#f2c400"/><stop offset="0.430" stop-color="#ff9028"/><stop offset="1.000" stop-color="#ff8828"/></linearGradient>
<g clip-path="url(#ic9)">
<rect x="0" y="0" width="85.60" height="107.30" fill="#02034f"/>
<path d="M42.3,107.6C40.8,104.5 35.0,98.2 32.1,94.7C29.2,91.2 27.3,89.2 25.0,86.5C22.7,83.8 20.7,81.1 18.2,78.2C15.7,75.3 12.3,72.0 10.0,69.0C7.7,66.0 5.4,62.7 4.2,60.4C3.0,58.1 2.3,56.4 2.9,55.3C3.5,54.2 6.1,53.5 8.0,53.8C9.9,54.1 12.2,55.3 14.5,57.0C16.8,58.7 19.6,61.6 22.0,64.0C24.4,66.4 28.0,72.7 29.0,71.2C30.0,69.7 28.2,60.2 28.0,55.0C27.8,49.8 27.6,45.0 27.5,40.0C27.4,35.0 27.1,28.5 27.3,25.0C27.5,21.5 27.6,20.5 28.5,19.0C29.4,17.5 31.2,16.4 32.7,16.2C34.2,15.9 36.5,19.4 37.5,17.5C38.5,15.6 37.9,7.8 39.0,5.0C40.1,2.2 42.5,1.1 44.2,1.0C46.0,0.9 48.5,3.1 49.5,4.5C50.5,5.9 49.6,9.0 50.5,9.5C51.4,10.0 53.5,7.2 55.0,7.3C56.5,7.4 58.3,7.1 59.5,10.0C60.7,12.9 61.5,18.3 62.0,25.0C62.5,31.7 62.4,44.8 62.8,50.0C63.2,55.2 63.9,56.0 64.5,56.0C65.1,56.0 66.2,54.7 66.5,50.0C66.8,45.3 66.2,32.3 66.5,28.0C66.8,23.7 67.1,25.0 68.0,24.0C68.9,23.0 70.7,21.7 72.1,21.9C73.5,22.1 75.4,22.3 76.5,25.0C77.6,27.7 77.6,34.2 78.5,38.0C79.4,41.8 81.4,42.1 81.7,47.7C82.0,53.3 81.1,61.4 80.4,71.4C79.8,81.4 78.1,100.6 77.8,107.6C77.5,114.6 84.9,112.3 78.8,113.3C72.7,114.2 47.4,114.2 41.3,113.3C35.2,112.3 43.8,110.7 42.3,107.6Z" fill="#0c3cb4" stroke="#0c3cb4" stroke-width="4.0" filter="url(#bl1)"/>
<path d="M42.3,107.6C40.8,104.5 35.0,98.2 32.1,94.7C29.2,91.2 27.3,89.2 25.0,86.5C22.7,83.8 20.7,81.1 18.2,78.2C15.7,75.3 12.3,72.0 10.0,69.0C7.7,66.0 5.4,62.7 4.2,60.4C3.0,58.1 2.3,56.4 2.9,55.3C3.5,54.2 6.1,53.5 8.0,53.8C9.9,54.1 12.2,55.3 14.5,57.0C16.8,58.7 19.6,61.6 22.0,64.0C24.4,66.4 28.0,72.7 29.0,71.2C30.0,69.7 28.2,60.2 28.0,55.0C27.8,49.8 27.6,45.0 27.5,40.0C27.4,35.0 27.1,28.5 27.3,25.0C27.5,21.5 27.6,20.5 28.5,19.0C29.4,17.5 31.2,16.4 32.7,16.2C34.2,15.9 36.5,19.4 37.5,17.5C38.5,15.6 37.9,7.8 39.0,5.0C40.1,2.2 42.5,1.1 44.2,1.0C46.0,0.9 48.5,3.1 49.5,4.5C50.5,5.9 49.6,9.0 50.5,9.5C51.4,10.0 53.5,7.2 55.0,7.3C56.5,7.4 58.3,7.1 59.5,10.0C60.7,12.9 61.5,18.3 62.0,25.0C62.5,31.7 62.4,44.8 62.8,50.0C63.2,55.2 63.9,56.0 64.5,56.0C65.1,56.0 66.2,54.7 66.5,50.0C66.8,45.3 66.2,32.3 66.5,28.0C66.8,23.7 67.1,25.0 68.0,24.0C68.9,23.0 70.7,21.7 72.1,21.9C73.5,22.1 75.4,22.3 76.5,25.0C77.6,27.7 77.6,34.2 78.5,38.0C79.4,41.8 81.4,42.1 81.7,47.7C82.0,53.3 81.1,61.4 80.4,71.4C79.8,81.4 78.1,100.6 77.8,107.6C77.5,114.6 84.9,112.3 78.8,113.3C72.7,114.2 47.4,114.2 41.3,113.3C35.2,112.3 43.8,110.7 42.3,107.6Z" fill="#1878d0" stroke="#1878d0" stroke-width="1.4" filter="url(#bl05)"/>
<g clip-path="url(#h9)">
<path d="M42.3,107.6C40.8,104.5 35.0,98.2 32.1,94.7C29.2,91.2 27.3,89.2 25.0,86.5C22.7,83.8 20.7,81.1 18.2,78.2C15.7,75.3 12.3,72.0 10.0,69.0C7.7,66.0 5.4,62.7 4.2,60.4C3.0,58.1 2.3,56.4 2.9,55.3C3.5,54.2 6.1,53.5 8.0,53.8C9.9,54.1 12.2,55.3 14.5,57.0C16.8,58.7 19.6,61.6 22.0,64.0C24.4,66.4 28.0,72.7 29.0,71.2C30.0,69.7 28.2,60.2 28.0,55.0C27.8,49.8 27.6,45.0 27.5,40.0C27.4,35.0 27.1,28.5 27.3,25.0C27.5,21.5 27.6,20.5 28.5,19.0C29.4,17.5 31.2,16.4 32.7,16.2C34.2,15.9 36.5,19.4 37.5,17.5C38.5,15.6 37.9,7.8 39.0,5.0C40.1,2.2 42.5,1.1 44.2,1.0C46.0,0.9 48.5,3.1 49.5,4.5C50.5,5.9 49.6,9.0 50.5,9.5C51.4,10.0 53.5,7.2 55.0,7.3C56.5,7.4 58.3,7.1 59.5,10.0C60.7,12.9 61.5,18.3 62.0,25.0C62.5,31.7 62.4,44.8 62.8,50.0C63.2,55.2 63.9,56.0 64.5,56.0C65.1,56.0 66.2,54.7 66.5,50.0C66.8,45.3 66.2,32.3 66.5,28.0C66.8,23.7 67.1,25.0 68.0,24.0C68.9,23.0 70.7,21.7 72.1,21.9C73.5,22.1 75.4,22.3 76.5,25.0C77.6,27.7 77.6,34.2 78.5,38.0C79.4,41.8 81.4,42.1 81.7,47.7C82.0,53.3 81.1,61.4 80.4,71.4C79.8,81.4 78.1,100.6 77.8,107.6C77.5,114.6 84.9,112.3 78.8,113.3C72.7,114.2 47.4,114.2 41.3,113.3C35.2,112.3 43.8,110.7 42.3,107.6Z" fill="url(#g9)"/>
<radialGradient id="pr9_0" gradientUnits="userSpaceOnUse" cx="0" cy="0" r="1" gradientTransform="translate(52,82) scale(32,40)"><stop offset="0" stop-color="#ff3060" stop-opacity="1"/><stop offset="0.6" stop-color="#ff2858" stop-opacity="1"/><stop offset="0.85" stop-color="#ff5040" stop-opacity="0.6"/><stop offset="1" stop-color="#ff5040" stop-opacity="0"/></radialGradient>
<rect x="-5" y="-5" width="95.6" height="117.3" fill="url(#pr9_0)"/>
<g filter="url(#bl2)">
<path d="M25.0,86.5C23.4,86.2 20.7,81.1 18.2,78.2C15.7,75.3 12.3,72.0 10.0,69.0C7.7,66.0 5.4,62.7 4.2,60.4C3.0,58.1 2.3,56.4 2.9,55.3C3.5,54.2 6.1,53.5 8.0,53.8C9.9,54.1 12.2,55.3 14.5,57.0C16.8,58.7 19.6,61.6 22.0,64.0C24.4,66.4 28.0,68.5 29.0,71.2C30.0,73.9 28.7,77.5 28.0,80.0C27.3,82.5 26.6,86.8 25.0,86.5Z" fill="#ffa030" opacity="0.95"/>
<ellipse cx="72.1" cy="30.9" rx="4.2" ry="10" fill="#8cc838" opacity="0.85"/>
<ellipse cx="66" cy="104" rx="12" ry="7" fill="#ffd8d0" opacity="1"/>
<ellipse cx="32" cy="80" rx="9" ry="10" fill="#ff8098" opacity="0.7"/>
<ellipse cx="76" cy="60" rx="3" ry="12" fill="#ffa020" opacity="0.7"/>
<ellipse cx="32.7" cy="32" rx="4.5" ry="12" fill="#f8b414" opacity="0.8"/>
<ellipse cx="47" cy="49" rx="9" ry="6" fill="#ff2450" opacity="0.9"/>
</g>
<path d="M42.3,107.6C40.8,104.5 35.0,98.2 32.1,94.7C29.2,91.2 27.3,89.2 25.0,86.5C22.7,83.8 20.7,81.1 18.2,78.2C15.7,75.3 12.3,72.0 10.0,69.0C7.7,66.0 5.4,62.7 4.2,60.4C3.0,58.1 2.3,56.4 2.9,55.3C3.5,54.2 6.1,53.5 8.0,53.8C9.9,54.1 12.2,55.3 14.5,57.0C16.8,58.7 19.6,61.6 22.0,64.0C24.4,66.4 28.0,72.7 29.0,71.2C30.0,69.7 28.2,60.2 28.0,55.0C27.8,49.8 27.6,45.0 27.5,40.0C27.4,35.0 27.1,28.5 27.3,25.0C27.5,21.5 27.6,20.5 28.5,19.0C29.4,17.5 31.2,16.4 32.7,16.2C34.2,15.9 36.5,19.4 37.5,17.5C38.5,15.6 37.9,7.8 39.0,5.0C40.1,2.2 42.5,1.1 44.2,1.0C46.0,0.9 48.5,3.1 49.5,4.5C50.5,5.9 49.6,9.0 50.5,9.5C51.4,10.0 53.5,7.2 55.0,7.3C56.5,7.4 58.3,7.1 59.5,10.0C60.7,12.9 61.5,18.3 62.0,25.0C62.5,31.7 62.4,44.8 62.8,50.0C63.2,55.2 63.9,56.0 64.5,56.0C65.1,56.0 66.2,54.7 66.5,50.0C66.8,45.3 66.2,32.3 66.5,28.0C66.8,23.7 67.1,25.0 68.0,24.0C68.9,23.0 70.7,21.7 72.1,21.9C73.5,22.1 75.4,22.3 76.5,25.0C77.6,27.7 77.6,34.2 78.5,38.0C79.4,41.8 81.4,42.1 81.7,47.7C82.0,53.3 81.1,61.4 80.4,71.4C79.8,81.4 78.1,100.6 77.8,107.6C77.5,114.6 84.9,112.3 78.8,113.3C72.7,114.2 47.4,114.2 41.3,113.3C35.2,112.3 43.8,110.7 42.3,107.6Z" fill="none" stroke="#f0d000" stroke-width="4.4" filter="url(#bl1)" opacity="0.55"/>
<path d="M42.3,107.6C40.8,104.5 35.0,98.2 32.1,94.7C29.2,91.2 27.3,89.2 25.0,86.5C22.7,83.8 20.7,81.1 18.2,78.2C15.7,75.3 12.3,72.0 10.0,69.0C7.7,66.0 5.4,62.7 4.2,60.4C3.0,58.1 2.3,56.4 2.9,55.3C3.5,54.2 6.1,53.5 8.0,53.8C9.9,54.1 12.2,55.3 14.5,57.0C16.8,58.7 19.6,61.6 22.0,64.0C24.4,66.4 28.0,72.7 29.0,71.2C30.0,69.7 28.2,60.2 28.0,55.0C27.8,49.8 27.6,45.0 27.5,40.0C27.4,35.0 27.1,28.5 27.3,25.0C27.5,21.5 27.6,20.5 28.5,19.0C29.4,17.5 31.2,16.4 32.7,16.2C34.2,15.9 36.5,19.4 37.5,17.5C38.5,15.6 37.9,7.8 39.0,5.0C40.1,2.2 42.5,1.1 44.2,1.0C46.0,0.9 48.5,3.1 49.5,4.5C50.5,5.9 49.6,9.0 50.5,9.5C51.4,10.0 53.5,7.2 55.0,7.3C56.5,7.4 58.3,7.1 59.5,10.0C60.7,12.9 61.5,18.3 62.0,25.0C62.5,31.7 62.4,44.8 62.8,50.0C63.2,55.2 63.9,56.0 64.5,56.0C65.1,56.0 66.2,54.7 66.5,50.0C66.8,45.3 66.2,32.3 66.5,28.0C66.8,23.7 67.1,25.0 68.0,24.0C68.9,23.0 70.7,21.7 72.1,21.9C73.5,22.1 75.4,22.3 76.5,25.0C77.6,27.7 77.6,34.2 78.5,38.0C79.4,41.8 81.4,42.1 81.7,47.7C82.0,53.3 81.1,61.4 80.4,71.4C79.8,81.4 78.1,100.6 77.8,107.6C77.5,114.6 84.9,112.3 78.8,113.3C72.7,114.2 47.4,114.2 41.3,113.3C35.2,112.3 43.8,110.7 42.3,107.6Z" fill="none" stroke="#50c040" stroke-width="2.0" filter="url(#bl05)"/>
<path d="M42.3,107.6C40.8,104.5 35.0,98.2 32.1,94.7C29.2,91.2 27.3,89.2 25.0,86.5C22.7,83.8 20.7,81.1 18.2,78.2C15.7,75.3 12.3,72.0 10.0,69.0C7.7,66.0 5.4,62.7 4.2,60.4C3.0,58.1 2.3,56.4 2.9,55.3C3.5,54.2 6.1,53.5 8.0,53.8C9.9,54.1 12.2,55.3 14.5,57.0C16.8,58.7 19.6,61.6 22.0,64.0C24.4,66.4 28.0,72.7 29.0,71.2C30.0,69.7 28.2,60.2 28.0,55.0C27.8,49.8 27.6,45.0 27.5,40.0C27.4,35.0 27.1,28.5 27.3,25.0C27.5,21.5 27.6,20.5 28.5,19.0C29.4,17.5 31.2,16.4 32.7,16.2C34.2,15.9 36.5,19.4 37.5,17.5C38.5,15.6 37.9,7.8 39.0,5.0C40.1,2.2 42.5,1.1 44.2,1.0C46.0,0.9 48.5,3.1 49.5,4.5C50.5,5.9 49.6,9.0 50.5,9.5C51.4,10.0 53.5,7.2 55.0,7.3C56.5,7.4 58.3,7.1 59.5,10.0C60.7,12.9 61.5,18.3 62.0,25.0C62.5,31.7 62.4,44.8 62.8,50.0C63.2,55.2 63.9,56.0 64.5,56.0C65.1,56.0 66.2,54.7 66.5,50.0C66.8,45.3 66.2,32.3 66.5,28.0C66.8,23.7 67.1,25.0 68.0,24.0C68.9,23.0 70.7,21.7 72.1,21.9C73.5,22.1 75.4,22.3 76.5,25.0C77.6,27.7 77.6,34.2 78.5,38.0C79.4,41.8 81.4,42.1 81.7,47.7C82.0,53.3 81.1,61.4 80.4,71.4C79.8,81.4 78.1,100.6 77.8,107.6C77.5,114.6 84.9,112.3 78.8,113.3C72.7,114.2 47.4,114.2 41.3,113.3C35.2,112.3 43.8,110.7 42.3,107.6Z" fill="none" stroke="#20a8a8" stroke-width="0.8" filter="url(#bl05)"/>
<path d="M50.5,22L52,33" stroke="#1a6aa0" stroke-width="1.3" stroke-linecap="round" filter="url(#bl05)"/>
</g>
<path d="M73.1,65.5C73.2,67.5 73.1,70.0 72.0,71.7C70.9,73.4 68.3,74.6 66.3,75.9C64.3,77.2 62.2,78.9 59.8,79.3C57.5,79.6 54.7,78.7 52.3,78.2C49.8,77.7 47.1,77.5 45.0,76.4C42.9,75.4 40.6,73.6 39.6,71.7C38.6,69.9 39.0,67.6 39.0,65.5C39.1,63.4 38.8,61.1 39.9,59.4C41.0,57.7 43.6,56.5 45.6,55.2C47.6,54.0 49.6,52.5 52.0,51.9C54.4,51.3 57.5,51.1 59.9,51.6C62.3,52.1 64.4,53.8 66.3,55.1C68.2,56.4 70.4,57.8 71.6,59.5C72.7,61.2 73.0,63.5 73.1,65.5Z" fill="#ff6030" filter="url(#bl05)"/>
<clipPath id="pc9"><path d="M72.1,65.5C72.2,67.4 72.1,69.6 71.1,71.2C70.0,72.8 67.6,74.0 65.7,75.1C63.8,76.3 61.8,77.9 59.6,78.3C57.4,78.6 54.8,77.7 52.5,77.3C50.1,76.8 47.6,76.6 45.6,75.6C43.6,74.6 41.5,73.0 40.6,71.3C39.6,69.6 40.0,67.4 40.0,65.5C40.1,63.6 39.8,61.4 40.9,59.8C41.9,58.2 44.3,57.1 46.2,56.0C48.1,54.8 50.0,53.4 52.2,52.9C54.5,52.3 57.4,52.1 59.6,52.6C61.9,53.1 63.9,54.7 65.7,55.9C67.5,57.1 69.6,58.3 70.6,59.9C71.7,61.5 72.0,63.6 72.1,65.5Z"/></clipPath>
<path d="M72.1,65.5C72.2,67.4 72.1,69.6 71.1,71.2C70.0,72.8 67.6,74.0 65.7,75.1C63.8,76.3 61.8,77.9 59.6,78.3C57.4,78.6 54.8,77.7 52.5,77.3C50.1,76.8 47.6,76.6 45.6,75.6C43.6,74.6 41.5,73.0 40.6,71.3C39.6,69.6 40.0,67.4 40.0,65.5C40.1,63.6 39.8,61.4 40.9,59.8C41.9,58.2 44.3,57.1 46.2,56.0C48.1,54.8 50.0,53.4 52.2,52.9C54.5,52.3 57.4,52.1 59.6,52.6C61.9,53.1 63.9,54.7 65.7,55.9C67.5,57.1 69.6,58.3 70.6,59.9C71.7,61.5 72.0,63.6 72.1,65.5Z" fill="#f89830" filter="url(#bl05)"/>
<g clip-path="url(#pc9)"><g filter="url(#bl1)">
<ellipse cx="57" cy="63" rx="7" ry="6" fill="#ff6030" opacity="0.8"/>
<ellipse cx="68" cy="66" rx="4" ry="8" fill="#f8c030" opacity="0.8"/>
</g></g>
<ellipse cx="58.2" cy="86.2" rx="4.5" ry="2" fill="#fff0f0" opacity="0.9" filter="url(#bl1)"/>
<ellipse cx="66" cy="105" rx="9" ry="4" fill="#fff0e8" opacity="0.95" filter="url(#bl1)"/>
<path d="M54.2,66.1h6.6M57.5,62.8v6.6" stroke="#111" stroke-width="0.9"/>
<text x="43.6" y="86.1" style="font-family:'Liberation Serif',serif;font-weight:bold;font-size:14.6px;letter-spacing:0.6px;stroke:#000;stroke-width:0.4px">27.3</text>
<text transform="translate(8.0,22.9) scale(1.06,1)" style="font-family:'Liberation Sans',sans-serif;font-size:19.5px;fill:#fff;stroke:#fff;stroke-width:0.35px">20s</text>
</g></g>
<g transform="translate(492.8,408.3)">
<clipPath id="ic10"><rect x="0" y="0" width="90.00" height="107.30"/></clipPath>
<clipPath id="h10"><path d="M46.2,107.7C44.8,104.6 39.8,98.2 36.8,94.7C33.8,91.2 31.2,89.2 28.5,86.5C25.8,83.8 23.4,81.6 20.7,78.6C17.9,75.6 14.5,71.6 12.0,68.5C9.5,65.4 7.4,62.3 5.9,59.8C4.4,57.3 2.9,54.9 3.2,53.7C3.6,52.5 6.1,52.2 8.0,52.5C9.9,52.8 12.2,53.9 14.5,55.5C16.8,57.1 19.5,59.7 22.0,62.0C24.5,64.3 28.5,70.4 29.4,69.2C30.3,68.0 27.9,59.0 27.5,55.0C27.1,51.0 26.7,49.5 26.7,45.0C26.7,40.5 27.2,31.8 27.5,28.0C27.8,24.2 27.7,23.9 28.5,22.5C29.3,21.1 31.0,20.1 32.4,19.8C33.8,19.6 36.1,23.5 37.0,21.0C37.9,18.5 37.0,8.2 38.0,5.0C39.0,1.8 41.5,1.8 43.2,1.7C45.0,1.6 47.4,3.1 48.5,4.5C49.6,5.9 48.9,9.4 50.0,10.0C51.1,10.6 53.2,7.6 55.0,7.8C56.8,8.0 59.0,8.1 60.5,11.0C62.0,13.9 63.2,18.8 64.0,25.0C64.8,31.2 64.6,43.3 65.0,48.0C65.4,52.7 66.1,53.5 66.5,53.0C66.9,52.5 67.3,49.3 67.5,45.0C67.7,40.7 67.2,30.5 67.5,27.0C67.8,23.5 68.5,24.8 69.5,24.0C70.5,23.2 72.0,22.2 73.4,22.5C74.8,22.8 76.8,23.4 78.0,26.0C79.2,28.6 79.3,34.4 80.5,38.0C81.7,41.6 84.7,42.1 85.2,47.7C85.8,53.3 84.5,61.4 83.8,71.4C83.1,81.4 81.4,100.7 81.1,107.7C80.8,114.7 88.1,112.4 82.1,113.3C76.1,114.2 51.2,114.2 45.2,113.3C39.2,112.4 47.6,110.8 46.2,107.7Z"/></clipPath>
<linearGradient id="g10" gradientUnits="userSpaceOnUse" x1="0" y1="0" x2="0" y2="107"><stop offset="0.000" stop-color="#8ccc40"/><stop offset="0.112" stop-color="#b8d428"/><stop offset="0.224" stop-color="#e6d010"/><stop offset="0.318" stop-color="#f8a800"/><stop offset="0.411" stop-color="#ff8030"/><stop offset="1.000" stop-color="#ff8030"/></linearGradient>
<g clip-path="url(#ic10)">
<rect x="0" y="0" width="90.00" height="107.30" fill="#02034f"/>
<path d="M46.2,107.7C44.8,104.6 39.8,98.2 36.8,94.7C33.8,91.2 31.2,89.2 28.5,86.5C25.8,83.8 23.4,81.6 20.7,78.6C17.9,75.6 14.5,71.6 12.0,68.5C9.5,65.4 7.4,62.3 5.9,59.8C4.4,57.3 2.9,54.9 3.2,53.7C3.6,52.5 6.1,52.2 8.0,52.5C9.9,52.8 12.2,53.9 14.5,55.5C16.8,57.1 19.5,59.7 22.0,62.0C24.5,64.3 28.5,70.4 29.4,69.2C30.3,68.0 27.9,59.0 27.5,55.0C27.1,51.0 26.7,49.5 26.7,45.0C26.7,40.5 27.2,31.8 27.5,28.0C27.8,24.2 27.7,23.9 28.5,22.5C29.3,21.1 31.0,20.1 32.4,19.8C33.8,19.6 36.1,23.5 37.0,21.0C37.9,18.5 37.0,8.2 38.0,5.0C39.0,1.8 41.5,1.8 43.2,1.7C45.0,1.6 47.4,3.1 48.5,4.5C49.6,5.9 48.9,9.4 50.0,10.0C51.1,10.6 53.2,7.6 55.0,7.8C56.8,8.0 59.0,8.1 60.5,11.0C62.0,13.9 63.2,18.8 64.0,25.0C64.8,31.2 64.6,43.3 65.0,48.0C65.4,52.7 66.1,53.5 66.5,53.0C66.9,52.5 67.3,49.3 67.5,45.0C67.7,40.7 67.2,30.5 67.5,27.0C67.8,23.5 68.5,24.8 69.5,24.0C70.5,23.2 72.0,22.2 73.4,22.5C74.8,22.8 76.8,23.4 78.0,26.0C79.2,28.6 79.3,34.4 80.5,38.0C81.7,41.6 84.7,42.1 85.2,47.7C85.8,53.3 84.5,61.4 83.8,71.4C83.1,81.4 81.4,100.7 81.1,107.7C80.8,114.7 88.1,112.4 82.1,113.3C76.1,114.2 51.2,114.2 45.2,113.3C39.2,112.4 47.6,110.8 46.2,107.7Z" fill="#0c3cb4" stroke="#0c3cb4" stroke-width="4.0" filter="url(#bl1)"/>
<path d="M46.2,107.7C44.8,104.6 39.8,98.2 36.8,94.7C33.8,91.2 31.2,89.2 28.5,86.5C25.8,83.8 23.4,81.6 20.7,78.6C17.9,75.6 14.5,71.6 12.0,68.5C9.5,65.4 7.4,62.3 5.9,59.8C4.4,57.3 2.9,54.9 3.2,53.7C3.6,52.5 6.1,52.2 8.0,52.5C9.9,52.8 12.2,53.9 14.5,55.5C16.8,57.1 19.5,59.7 22.0,62.0C24.5,64.3 28.5,70.4 29.4,69.2C30.3,68.0 27.9,59.0 27.5,55.0C27.1,51.0 26.7,49.5 26.7,45.0C26.7,40.5 27.2,31.8 27.5,28.0C27.8,24.2 27.7,23.9 28.5,22.5C29.3,21.1 31.0,20.1 32.4,19.8C33.8,19.6 36.1,23.5 37.0,21.0C37.9,18.5 37.0,8.2 38.0,5.0C39.0,1.8 41.5,1.8 43.2,1.7C45.0,1.6 47.4,3.1 48.5,4.5C49.6,5.9 48.9,9.4 50.0,10.0C51.1,10.6 53.2,7.6 55.0,7.8C56.8,8.0 59.0,8.1 60.5,11.0C62.0,13.9 63.2,18.8 64.0,25.0C64.8,31.2 64.6,43.3 65.0,48.0C65.4,52.7 66.1,53.5 66.5,53.0C66.9,52.5 67.3,49.3 67.5,45.0C67.7,40.7 67.2,30.5 67.5,27.0C67.8,23.5 68.5,24.8 69.5,24.0C70.5,23.2 72.0,22.2 73.4,22.5C74.8,22.8 76.8,23.4 78.0,26.0C79.2,28.6 79.3,34.4 80.5,38.0C81.7,41.6 84.7,42.1 85.2,47.7C85.8,53.3 84.5,61.4 83.8,71.4C83.1,81.4 81.4,100.7 81.1,107.7C80.8,114.7 88.1,112.4 82.1,113.3C76.1,114.2 51.2,114.2 45.2,113.3C39.2,112.4 47.6,110.8 46.2,107.7Z" fill="#1878d0" stroke="#1878d0" stroke-width="1.4" filter="url(#bl05)"/>
<g clip-path="url(#h10)">
<path d="M46.2,107.7C44.8,104.6 39.8,98.2 36.8,94.7C33.8,91.2 31.2,89.2 28.5,86.5C25.8,83.8 23.4,81.6 20.7,78.6C17.9,75.6 14.5,71.6 12.0,68.5C9.5,65.4 7.4,62.3 5.9,59.8C4.4,57.3 2.9,54.9 3.2,53.7C3.6,52.5 6.1,52.2 8.0,52.5C9.9,52.8 12.2,53.9 14.5,55.5C16.8,57.1 19.5,59.7 22.0,62.0C24.5,64.3 28.5,70.4 29.4,69.2C30.3,68.0 27.9,59.0 27.5,55.0C27.1,51.0 26.7,49.5 26.7,45.0C26.7,40.5 27.2,31.8 27.5,28.0C27.8,24.2 27.7,23.9 28.5,22.5C29.3,21.1 31.0,20.1 32.4,19.8C33.8,19.6 36.1,23.5 37.0,21.0C37.9,18.5 37.0,8.2 38.0,5.0C39.0,1.8 41.5,1.8 43.2,1.7C45.0,1.6 47.4,3.1 48.5,4.5C49.6,5.9 48.9,9.4 50.0,10.0C51.1,10.6 53.2,7.6 55.0,7.8C56.8,8.0 59.0,8.1 60.5,11.0C62.0,13.9 63.2,18.8 64.0,25.0C64.8,31.2 64.6,43.3 65.0,48.0C65.4,52.7 66.1,53.5 66.5,53.0C66.9,52.5 67.3,49.3 67.5,45.0C67.7,40.7 67.2,30.5 67.5,27.0C67.8,23.5 68.5,24.8 69.5,24.0C70.5,23.2 72.0,22.2 73.4,22.5C74.8,22.8 76.8,23.4 78.0,26.0C79.2,28.6 79.3,34.4 80.5,38.0C81.7,41.6 84.7,42.1 85.2,47.7C85.8,53.3 84.5,61.4 83.8,71.4C83.1,81.4 81.4,100.7 81.1,107.7C80.8,114.7 88.1,112.4 82.1,113.3C76.1,114.2 51.2,114.2 45.2,113.3C39.2,112.4 47.6,110.8 46.2,107.7Z" fill="url(#g10)"/>
<radialGradient id="pr10_0" gradientUnits="userSpaceOnUse" cx="0" cy="0" r="1" gradientTransform="translate(54,82) scale(34,40)"><stop offset="0" stop-color="#ff3a64" stop-opacity="1"/><stop offset="0.6" stop-color="#ff2c58" stop-opacity="1"/><stop offset="0.85" stop-color="#ff5040" stop-opacity="0.6"/><stop offset="1" stop-color="#ff5040" stop-opacity="0"/></radialGradient>
<rect x="-5" y="-5" width="100.0" height="117.3" fill="url(#pr10_0)"/>
<g filter="url(#bl2)">
<path d="M28.5,86.5C27.1,86.3 23.4,81.6 20.7,78.6C17.9,75.6 14.5,71.6 12.0,68.5C9.5,65.4 7.4,62.3 5.9,59.8C4.4,57.3 2.9,54.9 3.2,53.7C3.6,52.5 6.1,52.2 8.0,52.5C9.9,52.8 12.2,53.9 14.5,55.5C16.8,57.1 19.5,59.7 22.0,62.0C24.5,64.3 28.2,66.2 29.4,69.2C30.6,72.2 29.1,77.1 29.0,80.0C28.9,82.9 29.9,86.7 28.5,86.5Z" fill="#ff9040" opacity="0.95"/>
<ellipse cx="73.4" cy="31.5" rx="4.2" ry="10" fill="#8cc838" opacity="0.85"/>
<ellipse cx="64" cy="100" rx="16" ry="10" fill="#ffc8c8" opacity="1"/>
<ellipse cx="30" cy="84" rx="10" ry="12" fill="#ff8098" opacity="0.7"/>
<ellipse cx="80" cy="60" rx="3" ry="12" fill="#ffa020" opacity="0.7"/>
<ellipse cx="32.4" cy="35" rx="4.5" ry="12" fill="#f8b414" opacity="0.8"/>
<ellipse cx="48" cy="48" rx="9" ry="6" fill="#ff2450" opacity="0.9"/>
</g>
<path d="M46.2,107.7C44.8,104.6 39.8,98.2 36.8,94.7C33.8,91.2 31.2,89.2 28.5,86.5C25.8,83.8 23.4,81.6 20.7,78.6C17.9,75.6 14.5,71.6 12.0,68.5C9.5,65.4 7.4,62.3 5.9,59.8C4.4,57.3 2.9,54.9 3.2,53.7C3.6,52.5 6.1,52.2 8.0,52.5C9.9,52.8 12.2,53.9 14.5,55.5C16.8,57.1 19.5,59.7 22.0,62.0C24.5,64.3 28.5,70.4 29.4,69.2C30.3,68.0 27.9,59.0 27.5,55.0C27.1,51.0 26.7,49.5 26.7,45.0C26.7,40.5 27.2,31.8 27.5,28.0C27.8,24.2 27.7,23.9 28.5,22.5C29.3,21.1 31.0,20.1 32.4,19.8C33.8,19.6 36.1,23.5 37.0,21.0C37.9,18.5 37.0,8.2 38.0,5.0C39.0,1.8 41.5,1.8 43.2,1.7C45.0,1.6 47.4,3.1 48.5,4.5C49.6,5.9 48.9,9.4 50.0,10.0C51.1,10.6 53.2,7.6 55.0,7.8C56.8,8.0 59.0,8.1 60.5,11.0C62.0,13.9 63.2,18.8 64.0,25.0C64.8,31.2 64.6,43.3 65.0,48.0C65.4,52.7 66.1,53.5 66.5,53.0C66.9,52.5 67.3,49.3 67.5,45.0C67.7,40.7 67.2,30.5 67.5,27.0C67.8,23.5 68.5,24.8 69.5,24.0C70.5,23.2 72.0,22.2 73.4,22.5C74.8,22.8 76.8,23.4 78.0,26.0C79.2,28.6 79.3,34.4 80.5,38.0C81.7,41.6 84.7,42.1 85.2,47.7C85.8,53.3 84.5,61.4 83.8,71.4C83.1,81.4 81.4,100.7 81.1,107.7C80.8,114.7 88.1,112.4 82.1,113.3C76.1,114.2 51.2,114.2 45.2,113.3C39.2,112.4 47.6,110.8 46.2,107.7Z" fill="none" stroke="#f0c000" stroke-width="4.4" filter="url(#bl1)" opacity="0.55"/>
<path d="M46.2,107.7C44.8,104.6 39.8,98.2 36.8,94.7C33.8,91.2 31.2,89.2 28.5,86.5C25.8,83.8 23.4,81.6 20.7,78.6C17.9,75.6 14.5,71.6 12.0,68.5C9.5,65.4 7.4,62.3 5.9,59.8C4.4,57.3 2.9,54.9 3.2,53.7C3.6,52.5 6.1,52.2 8.0,52.5C9.9,52.8 12.2,53.9 14.5,55.5C16.8,57.1 19.5,59.7 22.0,62.0C24.5,64.3 28.5,70.4 29.4,69.2C30.3,68.0 27.9,59.0 27.5,55.0C27.1,51.0 26.7,49.5 26.7,45.0C26.7,40.5 27.2,31.8 27.5,28.0C27.8,24.2 27.7,23.9 28.5,22.5C29.3,21.1 31.0,20.1 32.4,19.8C33.8,19.6 36.1,23.5 37.0,21.0C37.9,18.5 37.0,8.2 38.0,5.0C39.0,1.8 41.5,1.8 43.2,1.7C45.0,1.6 47.4,3.1 48.5,4.5C49.6,5.9 48.9,9.4 50.0,10.0C51.1,10.6 53.2,7.6 55.0,7.8C56.8,8.0 59.0,8.1 60.5,11.0C62.0,13.9 63.2,18.8 64.0,25.0C64.8,31.2 64.6,43.3 65.0,48.0C65.4,52.7 66.1,53.5 66.5,53.0C66.9,52.5 67.3,49.3 67.5,45.0C67.7,40.7 67.2,30.5 67.5,27.0C67.8,23.5 68.5,24.8 69.5,24.0C70.5,23.2 72.0,22.2 73.4,22.5C74.8,22.8 76.8,23.4 78.0,26.0C79.2,28.6 79.3,34.4 80.5,38.0C81.7,41.6 84.7,42.1 85.2,47.7C85.8,53.3 84.5,61.4 83.8,71.4C83.1,81.4 81.4,100.7 81.1,107.7C80.8,114.7 88.1,112.4 82.1,113.3C76.1,114.2 51.2,114.2 45.2,113.3C39.2,112.4 47.6,110.8 46.2,107.7Z" fill="none" stroke="#50c040" stroke-width="2.0" filter="url(#bl05)"/>
<path d="M46.2,107.7C44.8,104.6 39.8,98.2 36.8,94.7C33.8,91.2 31.2,89.2 28.5,86.5C25.8,83.8 23.4,81.6 20.7,78.6C17.9,75.6 14.5,71.6 12.0,68.5C9.5,65.4 7.4,62.3 5.9,59.8C4.4,57.3 2.9,54.9 3.2,53.7C3.6,52.5 6.1,52.2 8.0,52.5C9.9,52.8 12.2,53.9 14.5,55.5C16.8,57.1 19.5,59.7 22.0,62.0C24.5,64.3 28.5,70.4 29.4,69.2C30.3,68.0 27.9,59.0 27.5,55.0C27.1,51.0 26.7,49.5 26.7,45.0C26.7,40.5 27.2,31.8 27.5,28.0C27.8,24.2 27.7,23.9 28.5,22.5C29.3,21.1 31.0,20.1 32.4,19.8C33.8,19.6 36.1,23.5 37.0,21.0C37.9,18.5 37.0,8.2 38.0,5.0C39.0,1.8 41.5,1.8 43.2,1.7C45.0,1.6 47.4,3.1 48.5,4.5C49.6,5.9 48.9,9.4 50.0,10.0C51.1,10.6 53.2,7.6 55.0,7.8C56.8,8.0 59.0,8.1 60.5,11.0C62.0,13.9 63.2,18.8 64.0,25.0C64.8,31.2 64.6,43.3 65.0,48.0C65.4,52.7 66.1,53.5 66.5,53.0C66.9,52.5 67.3,49.3 67.5,45.0C67.7,40.7 67.2,30.5 67.5,27.0C67.8,23.5 68.5,24.8 69.5,24.0C70.5,23.2 72.0,22.2 73.4,22.5C74.8,22.8 76.8,23.4 78.0,26.0C79.2,28.6 79.3,34.4 80.5,38.0C81.7,41.6 84.7,42.1 85.2,47.7C85.8,53.3 84.5,61.4 83.8,71.4C83.1,81.4 81.4,100.7 81.1,107.7C80.8,114.7 88.1,112.4 82.1,113.3C76.1,114.2 51.2,114.2 45.2,113.3C39.2,112.4 47.6,110.8 46.2,107.7Z" fill="none" stroke="#20a8a8" stroke-width="0.8" filter="url(#bl05)"/>
<path d="M36,25L40,45" stroke="#f8c000" stroke-width="1.2" stroke-linecap="round" filter="url(#bl05)"/>
<path d="M47,20L50.5,38" stroke="#f0c000" stroke-width="1.2" stroke-linecap="round" filter="url(#bl05)"/>
</g>
<path d="M73.7,61.5C73.6,63.0 72.1,64.5 71.1,66.0C70.0,67.5 69.2,69.3 67.4,70.3C65.6,71.3 62.6,71.6 60.1,71.9C57.6,72.3 54.7,72.7 52.4,72.3C50.1,71.9 48.1,70.5 46.2,69.5C44.2,68.5 41.9,67.6 40.6,66.3C39.3,64.9 38.2,63.1 38.3,61.5C38.5,59.9 40.2,58.4 41.4,57.0C42.5,55.5 43.6,53.8 45.4,52.9C47.3,51.9 50.1,51.6 52.6,51.2C55.0,50.8 57.9,50.2 60.3,50.5C62.6,50.9 64.6,52.3 66.5,53.4C68.4,54.4 70.5,55.5 71.7,56.8C72.9,58.2 73.8,60.0 73.7,61.5Z" fill="#ff4838" filter="url(#bl05)"/>
<clipPath id="pc10"><path d="M72.7,61.5C72.6,62.9 71.2,64.3 70.2,65.6C69.2,66.9 68.5,68.6 66.7,69.5C65.0,70.4 62.2,70.6 59.8,71.0C57.5,71.3 54.8,71.7 52.6,71.3C50.4,71.0 48.6,69.7 46.8,68.8C44.9,67.9 42.7,67.1 41.5,65.8C40.3,64.6 39.3,62.9 39.4,61.5C39.5,60.1 41.1,58.7 42.2,57.4C43.3,56.1 44.3,54.6 46.1,53.7C47.8,52.8 50.5,52.5 52.8,52.1C55.1,51.8 57.8,51.2 60.0,51.6C62.2,51.9 64.1,53.2 65.9,54.1C67.7,55.1 69.7,56.0 70.8,57.2C71.9,58.5 72.8,60.1 72.7,61.5Z"/></clipPath>
<path d="M72.7,61.5C72.6,62.9 71.2,64.3 70.2,65.6C69.2,66.9 68.5,68.6 66.7,69.5C65.0,70.4 62.2,70.6 59.8,71.0C57.5,71.3 54.8,71.7 52.6,71.3C50.4,71.0 48.6,69.7 46.8,68.8C44.9,67.9 42.7,67.1 41.5,65.8C40.3,64.6 39.3,62.9 39.4,61.5C39.5,60.1 41.1,58.7 42.2,57.4C43.3,56.1 44.3,54.6 46.1,53.7C47.8,52.8 50.5,52.5 52.8,52.1C55.1,51.8 57.8,51.2 60.0,51.6C62.2,51.9 64.1,53.2 65.9,54.1C67.7,55.1 69.7,56.0 70.8,57.2C71.9,58.5 72.8,60.1 72.7,61.5Z" fill="#f86038" filter="url(#bl05)"/>
<g clip-path="url(#pc10)"><g filter="url(#bl1)">
<ellipse cx="50" cy="58" rx="8" ry="5" fill="#ff3838" opacity="0.8"/>
<ellipse cx="66" cy="64" rx="5" ry="5" fill="#f88040" opacity="0.8"/>
</g></g>
<ellipse cx="59.5" cy="83.5" rx="5" ry="6.5" fill="#fff0e0" opacity="0.97" filter="url(#bl1)"/>
<ellipse cx="66" cy="102" rx="12" ry="7" fill="#fff0e0" opacity="0.97" filter="url(#bl1)"/>
<ellipse cx="72" cy="106" rx="8" ry="4" fill="#fff0e0" opacity="0.97" filter="url(#bl1)"/>
<path d="M53.9,62.2h6.6M57.2,58.9v6.6" stroke="#111" stroke-width="0.9"/>
<text x="43.0" y="82.3" style="font-family:'Liberation Serif',serif;font-weight:bold;font-size:14.6px;letter-spacing:0.6px;stroke:#000;stroke-width:0.4px">27.7</text>
<text transform="translate(9.2,22.9) scale(1.06,1)" style="font-family:'Liberation Sans',sans-serif;font-size:19.5px;fill:#fff;stroke:#fff;stroke-width:0.35px">30s</text>
</g></g>
<g stroke="#e2739f" stroke-width="2" fill="none"><path d="M146.1,275.1H584.2" stroke-dasharray="7.2,5.9" stroke-dashoffset="10"/><path d="M584.2,274.1V386.5" stroke-dasharray="7.2,5.9" stroke-dashoffset="2.1"/><path d="M145.1,386.5H584.2" stroke-dasharray="7.2,5.9" stroke-dashoffset="1.1"/><path d="M146.1,275.1V386.5" stroke-dasharray="7.2,5.9" stroke-dashoffset="11.4"/></g>
<g stroke="#c98af0" stroke-width="2" fill="none"><path d="M146.1,406.6H584.0" stroke-dasharray="7.2,5.9" stroke-dashoffset="10"/><path d="M584.0,405.6V517.8" stroke-dasharray="7.2,5.9" stroke-dashoffset="2.1"/><path d="M145.1,517.8H584.0" stroke-dasharray="7.2,5.9" stroke-dashoffset="1.1"/><path d="M146.1,406.6V517.8" stroke-dasharray="7.2,5.9" stroke-dashoffset="11.4"/></g>
<text transform="translate(132.0,303.4) rotate(90)" style="font-family:'Liberation Serif',serif;font-weight:bold;font-size:9.4px;stroke:#000;stroke-width:0.1px">A-cotton fabric</text>
<text transform="translate(131.6,387.2) rotate(90)" style="font-family:'Liberation Serif',serif;font-weight:bold;font-size:9.2px;stroke:#000;stroke-width:0.1px">0.2-MWCNTs fluids/cotton fabric</text>
</svg>
</body></html>
